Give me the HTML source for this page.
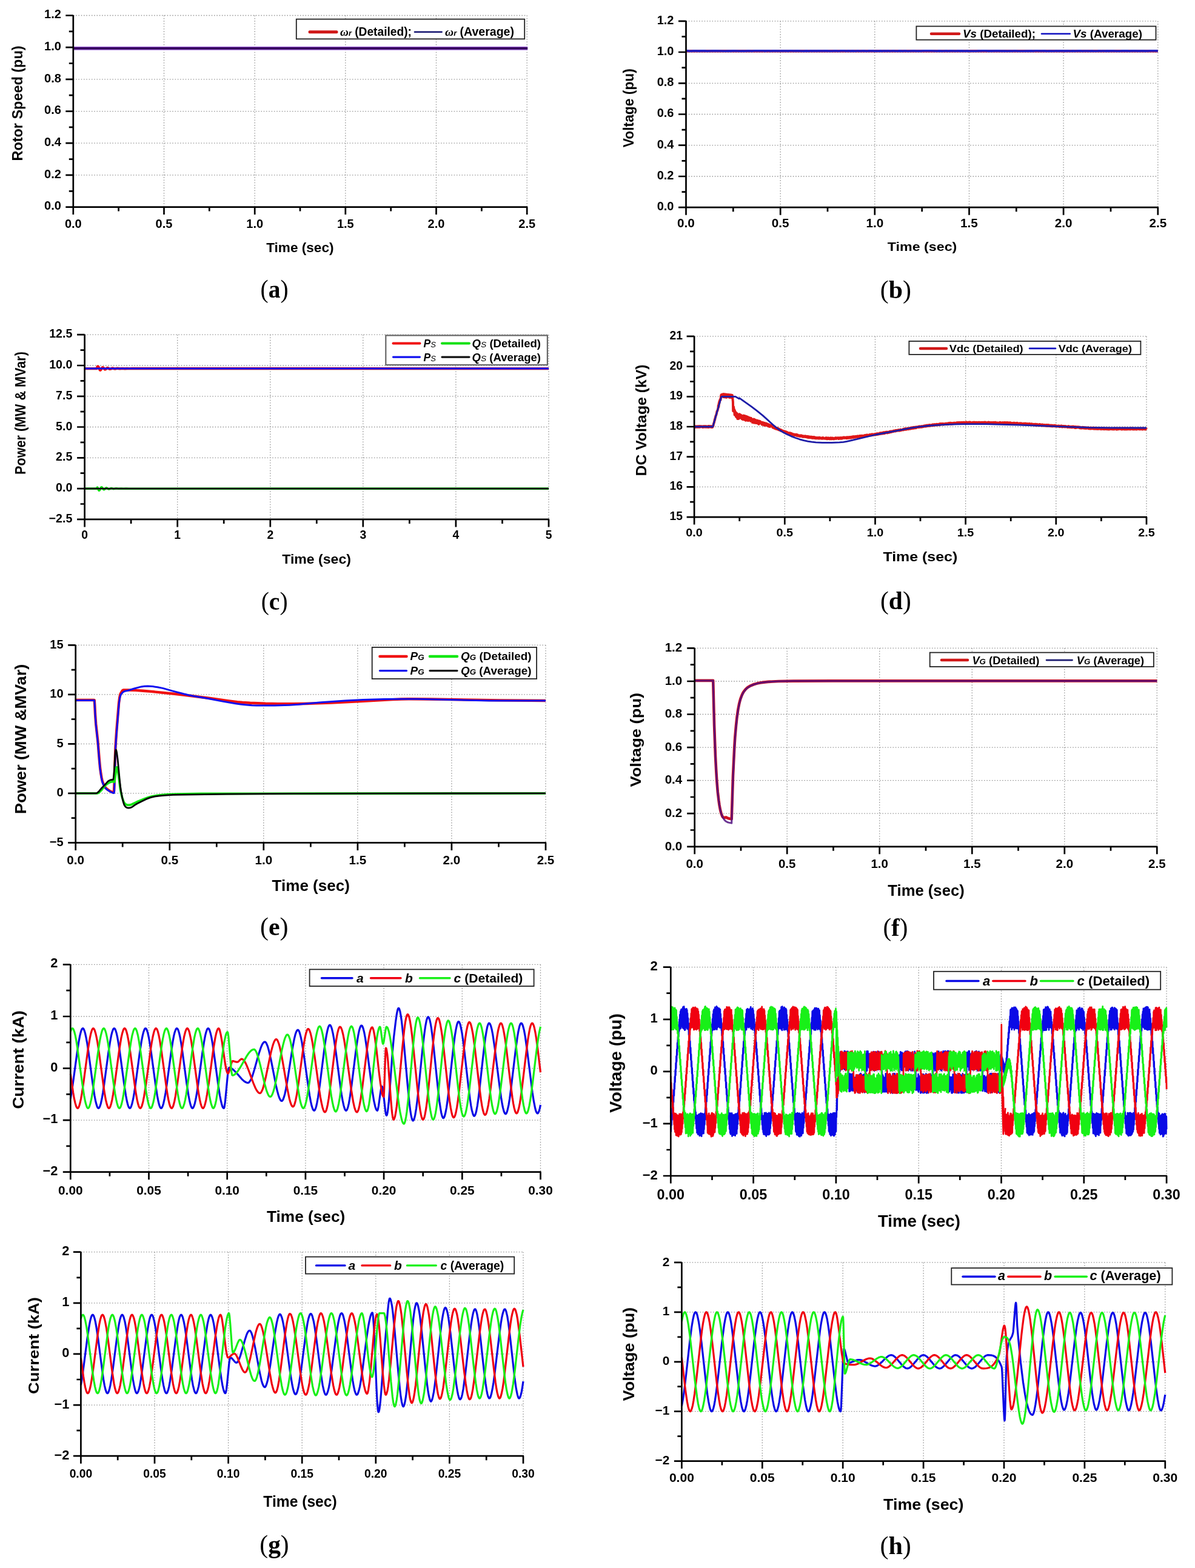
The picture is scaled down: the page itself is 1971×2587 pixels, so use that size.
<!DOCTYPE html>
<html><head><meta charset="utf-8"><title>Figure</title>
<style>html,body{margin:0;padding:0;background:#fff;}svg{display:block;}</style>
</head><body>
<svg width="1971" height="2587" viewBox="0 0 1971 2587" font-family="'Liberation Sans', Arial, sans-serif">
<rect width="1971" height="2587" fill="#fff"/>
<path d="M270.5 25.5V341.6M420.2 25.5V341.6M569.8 25.5V341.6M719.5 25.5V341.6M869.2 25.5V341.6M120.8 288.9H869.2M120.8 236.2H869.2M120.8 183.6H869.2M120.8 130.9H869.2M120.8 78.2H869.2M120.8 25.5H869.2" stroke="#979797" stroke-width="1.3" stroke-dasharray="1.6 2.7" fill="none"/>
<path d="M120.8 79.8H870.2" stroke="#9a64d4" stroke-width="6" fill="none"/>
<path d="M120.8 79.8H870.2" stroke="#33005a" stroke-width="3.4" fill="none"/>
<path d="M120.8 25V343M119.5 341.6H870.2M108.3 341.6H120.8M108.3 288.9H120.8M108.3 236.2H120.8M108.3 183.6H120.8M108.3 130.9H120.8M108.3 78.2H120.8M108.3 25.5H120.8M113.8 315.3H120.8M113.8 262.6H120.8M113.8 209.9H120.8M113.8 157.2H120.8M113.8 104.5H120.8M113.8 51.8H120.8M120.8 341.6V354.1M270.5 341.6V354.1M420.2 341.6V354.1M569.8 341.6V354.1M719.5 341.6V354.1M869.2 341.6V354.1M195.6 341.6V348.6M345.3 341.6V348.6M495 341.6V348.6M644.7 341.6V348.6M794.4 341.6V348.6" stroke="#000" stroke-width="2.7" fill="none"/>
<text x="120.8" y="375.7" font-size="20" text-anchor="middle" font-weight="bold" textLength="27.8" lengthAdjust="spacingAndGlyphs">0.0</text>
<text x="270.5" y="375.7" font-size="20" text-anchor="middle" font-weight="bold" textLength="27.8" lengthAdjust="spacingAndGlyphs">0.5</text>
<text x="420.2" y="375.7" font-size="20" text-anchor="middle" font-weight="bold" textLength="27.8" lengthAdjust="spacingAndGlyphs">1.0</text>
<text x="569.8" y="375.7" font-size="20" text-anchor="middle" font-weight="bold" textLength="27.8" lengthAdjust="spacingAndGlyphs">1.5</text>
<text x="719.5" y="375.7" font-size="20" text-anchor="middle" font-weight="bold" textLength="27.8" lengthAdjust="spacingAndGlyphs">2.0</text>
<text x="869.2" y="375.7" font-size="20" text-anchor="middle" font-weight="bold" textLength="27.8" lengthAdjust="spacingAndGlyphs">2.5</text>
<text x="100.9" y="346.4" font-size="20" text-anchor="end" font-weight="bold">0.0</text>
<text x="100.9" y="293.7" font-size="20" text-anchor="end" font-weight="bold">0.2</text>
<text x="100.9" y="241" font-size="20" text-anchor="end" font-weight="bold">0.4</text>
<text x="100.9" y="188.4" font-size="20" text-anchor="end" font-weight="bold">0.6</text>
<text x="100.9" y="135.7" font-size="20" text-anchor="end" font-weight="bold">0.8</text>
<text x="100.9" y="83" font-size="20" text-anchor="end" font-weight="bold">1.0</text>
<text x="100.9" y="30.3" font-size="20" text-anchor="end" font-weight="bold">1.2</text>
<text transform="translate(36.8 170.5) rotate(-90)" text-anchor="middle" font-weight="bold" font-size="23.5" textLength="190" lengthAdjust="spacingAndGlyphs" x="0" y="0">Rotor Speed (pu)</text>
<text x="439.2" y="416.3" font-size="22.4" font-weight="bold" textLength="111.3" lengthAdjust="spacingAndGlyphs">Time (sec)</text>
<text x="429.6" y="491.4" font-family="'Liberation Serif', 'Times New Roman', serif" font-size="43" textLength="46" lengthAdjust="spacingAndGlyphs">(<tspan font-weight="bold">a</tspan>)</text>
<rect x="488.8" y="31.6" width="376.4" height="32.7" fill="#fff" stroke="#222" stroke-width="1.8"/>
<path d="M511 52.8H555" stroke="#d01818" stroke-width="5" stroke-linecap="round"/>
<path d="M684 52.8H728.6" stroke="#141470" stroke-width="2.6" stroke-linecap="round"/>
<text x="561" y="59" font-size="19.5" font-weight="bold" textLength="118" lengthAdjust="spacingAndGlyphs"><tspan font-family="'Liberation Serif', 'Times New Roman', serif" font-style="italic">&#969;</tspan><tspan font-style="italic" font-size="13" dy="0">r</tspan> (Detailed);</text>
<text x="734" y="59" font-size="19.5" font-weight="bold" textLength="114" lengthAdjust="spacingAndGlyphs"><tspan font-family="'Liberation Serif', 'Times New Roman', serif" font-style="italic">&#969;</tspan><tspan font-style="italic" font-size="13">r</tspan> (Average)</text>
<path d="M1287.2 34.8V342.2M1442.8 34.8V342.2M1598.5 34.8V342.2M1754.1 34.8V342.2M1909.8 34.8V342.2M1131.5 291H1909.8M1131.5 239.7H1909.8M1131.5 188.5H1909.8M1131.5 137.3H1909.8M1131.5 86H1909.8M1131.5 34.8H1909.8" stroke="#979797" stroke-width="1.3" stroke-dasharray="1.6 2.7" fill="none"/>
<path d="M1131.5 84.2l778.3 0" stroke="#b01040" stroke-width="4.4" fill="none" stroke-linejoin="round"/>
<path d="M1131.5 83.7l3.1 0 3.1 .6 3.1-.1 3.2-.4 9.3 .3 3.1-.2 6.2 0 3.1 .3 12.5-.5 18.7 .6 3.1-.3 6.2 .1 3.1-.4 12.5 .6 3.1-.2 3.1 .1 6.2-.5 6.3 .5 3.1-.5 15.5 .1 3.2 .3 3.1-.4 3.1 0 3.1 .5 3.1-.4 12.5 .2 3.1-.3 3.1 .3 3.1-.2 3.1 .3 3.1-.4 3.1 0 3.2 .3 6.2-.3 9.3 .5 6.2-.3 3.2 .3 3.1-.5 3.1 .4 3.1-.4 3.1 .4 3.1-.4 6.3 .3 6.2-.1 9.3 .3 6.2-.5 6.3 .5 3.1-.4 6.2-.1 3.1 .5 3.1-.4 3.1 .5 3.2-.4 6.2 .3 3.1-.4 3.1 .4 6.2-.4 3.2 .3 3.1 .1 3.1-.4 3.1 .2 3.1-.1 3.1 .4 3.1-.2 3.1 .1 3.2-.3 3.1 .3 3.1-.5 3.1 .6 3.1-.5 3.1 .5 6.3-.5 3.1 .4 3.1 0 3.1-.3 6.2 .4 3.1-.6 3.1 .5 3.2 .1 9.3-.5 3.1 .4 3.1-.1 3.1 .2 6.3-.5 6.2-.1 6.2 .1 9.4 .4 3.1-.3 6.2 .3 6.2-.4 3.1 .4 3.1-.3 6.3 .1 3.1 .2 3.1-.5 3.1 .4 3.1-.2 6.3 .4 3.1-.4 3.1 .3 6.2 .1 6.2-.1 3.1-.3 3.2 .1 3.1-.3 6.2 0 3.1 .4 3.1-.1 3.1 .1 9.4-.3 6.2 .3 6.2-.1 3.1 .3 6.3-.3 3.1 .2 3.1-.4 6.2 .4 9.4 0 3.1-.2 6.2 .1 3.1-.2 3.1 .3 3.1-.5 3.2 0 6.2 .3 6.2-.1 3.1 .4 6.2-.3 6.3 .2 3.1-.4 3.1 .3 6.2-.4 6.3 .4 3.1-.4 6.2 .6 3.1-.4 3.1 .3 6.2-.4 3.2 .1 3.1 .4 3.1-.3 6.2 0 3.1 .2 3.1-.3 3.2 .3 6.2-.1 3.1-.4 3.1 .5 3.1-.4 3.1 .4 3.1-.3 3.2 .2 6.2-.3 6.2 .4 6.2 0 3.1-.4 3.2 .1 3.1-.2 3.1 .2 3.1 .4 3.1-.4 3.1-.1 9.4 .3 6.2-.3 3.1 .3 6.2-.1 3.1-.3 9.4 .1 3.1 .3" stroke="#2222c4" stroke-width="3.6" fill="none" stroke-linejoin="round"/>
<path d="M1131.5 34.3V343.6M1130.2 342.2H1910.8M1119 342.2H1131.5M1119 291H1131.5M1119 239.7H1131.5M1119 188.5H1131.5M1119 137.3H1131.5M1119 86H1131.5M1119 34.8H1131.5M1124.5 316.6H1131.5M1124.5 265.4H1131.5M1124.5 214.1H1131.5M1124.5 162.9H1131.5M1124.5 111.7H1131.5M1124.5 60.4H1131.5M1131.5 342.2V354.7M1287.2 342.2V354.7M1442.8 342.2V354.7M1598.5 342.2V354.7M1754.1 342.2V354.7M1909.8 342.2V354.7M1209.3 342.2V349.2M1365 342.2V349.2M1520.7 342.2V349.2M1676.3 342.2V349.2M1832 342.2V349.2" stroke="#000" stroke-width="2.7" fill="none"/>
<text x="1131.5" y="375.1" font-size="20" text-anchor="middle" font-weight="bold" textLength="28.8" lengthAdjust="spacingAndGlyphs">0.0</text>
<text x="1287.2" y="375.1" font-size="20" text-anchor="middle" font-weight="bold" textLength="28.8" lengthAdjust="spacingAndGlyphs">0.5</text>
<text x="1442.8" y="375.1" font-size="20" text-anchor="middle" font-weight="bold" textLength="28.8" lengthAdjust="spacingAndGlyphs">1.0</text>
<text x="1598.5" y="375.1" font-size="20" text-anchor="middle" font-weight="bold" textLength="28.8" lengthAdjust="spacingAndGlyphs">1.5</text>
<text x="1754.1" y="375.1" font-size="20" text-anchor="middle" font-weight="bold" textLength="28.8" lengthAdjust="spacingAndGlyphs">2.0</text>
<text x="1909.8" y="375.1" font-size="20" text-anchor="middle" font-weight="bold" textLength="28.8" lengthAdjust="spacingAndGlyphs">2.5</text>
<text x="1111.5" y="347" font-size="20" text-anchor="end" font-weight="bold">0.0</text>
<text x="1111.5" y="295.8" font-size="20" text-anchor="end" font-weight="bold">0.2</text>
<text x="1111.5" y="244.5" font-size="20" text-anchor="end" font-weight="bold">0.4</text>
<text x="1111.5" y="193.3" font-size="20" text-anchor="end" font-weight="bold">0.6</text>
<text x="1111.5" y="142.1" font-size="20" text-anchor="end" font-weight="bold">0.8</text>
<text x="1111.5" y="90.8" font-size="20" text-anchor="end" font-weight="bold">1.0</text>
<text x="1111.5" y="39.6" font-size="20" text-anchor="end" font-weight="bold">1.2</text>
<text transform="translate(1044.5 178.2) rotate(-90)" text-anchor="middle" font-weight="bold" font-size="23.6" textLength="130.2" lengthAdjust="spacingAndGlyphs" x="0" y="0">Voltage (pu)</text>
<text x="1463.8" y="414" font-size="21" font-weight="bold" textLength="114.5" lengthAdjust="spacingAndGlyphs">Time (sec)</text>
<text x="1451.7" y="492" font-family="'Liberation Serif', 'Times New Roman', serif" font-size="43" textLength="51.2" lengthAdjust="spacingAndGlyphs">(<tspan font-weight="bold">b</tspan>)</text>
<rect x="1511.4" y="43.4" width="395.1" height="22.3" fill="#fff" stroke="#222" stroke-width="1.8"/>
<path d="M1536 55.8H1582" stroke="#d01818" stroke-width="4.5" stroke-linecap="round"/>
<path d="M1718 55.8H1764.8" stroke="#1010c0" stroke-width="2.6" stroke-linecap="round"/>
<text x="1588" y="62" font-size="18" font-weight="bold" textLength="120" lengthAdjust="spacingAndGlyphs"><tspan font-style="italic">Vs</tspan> (Detailed);</text>
<text x="1769.4" y="62" font-size="18" font-weight="bold" textLength="114.6" lengthAdjust="spacingAndGlyphs"><tspan font-style="italic">Vs</tspan> (Average)</text>
<path d="M292.7 552.2V856.9M445.8 552.2V856.9M598.8 552.2V856.9M751.9 552.2V856.9M905 552.2V856.9M139.6 806.1H905M139.6 755.3H905M139.6 704.5H905M139.6 653.8H905M139.6 603H905M139.6 552.2H905" stroke="#979797" stroke-width="1.3" stroke-dasharray="1.6 2.7" fill="none"/>
<path d="M139.6 608.1l19.9 0 1-2.7 .5-.7 .5-.1 .6 .4 .5 .8 2 4.3 .5 .5 .5 .1 1-1.1 2.1-3.1 .5-.4 .5 0 1 .8 1.6 2 1 .6 1-.3 2-1.8 1.1-.4 1 .2 2 1.4 1 .3 1.1-.2 2-1 1-.2 1 .1 2.1 .8 1 .1 4.1-.8 4.1 .6 4.1-.4 4 .3 3.6-.2 4.1 .1 4.1-.1 687.3 .1" stroke="#f01010" stroke-width="4.4" fill="none" stroke-linejoin="round"/>
<path d="M139.6 608.1l765.4 0" stroke="#1010f0" stroke-width="3.0" fill="none" stroke-linejoin="round"/>
<path d="M139.6 806.1l19.9 0 .5-1.3 .5-.7 .5 .3 1.6 4.1 .5 .7 .5 .1 .5-.3 .5-.8 2-3.9 .6-.4 .5-.1 1 .9 2 2.7 .5 .3 .5 .1 1.1-.7 1.5-1.6 1-.6 1 .2 2.1 1.5 1 .4 1-.2 2.1-1 1-.3 1 .1 2 .8 1.1 .2 4-.8 4.1 .5 4.1-.3 4.1 .2 4.1-.2 4.1 .2 692.9-.1" stroke="#10e010" stroke-width="3.6" fill="none" stroke-linejoin="round"/>
<path d="M139.6 806.1l765.4 0" stroke="#0a0a0a" stroke-width="2.6" fill="none" stroke-linejoin="round"/>
<path d="M139.6 551.7V858.2M138.2 856.9H906M127.1 856.9H139.6M127.1 806.1H139.6M127.1 755.3H139.6M127.1 704.5H139.6M127.1 653.8H139.6M127.1 603H139.6M127.1 552.2H139.6M132.6 831.5H139.6M132.6 780.7H139.6M132.6 729.9H139.6M132.6 679.2H139.6M132.6 628.4H139.6M132.6 577.6H139.6M139.6 856.9V869.4M292.7 856.9V869.4M445.8 856.9V869.4M598.8 856.9V869.4M751.9 856.9V869.4M905 856.9V869.4M216.1 856.9V863.9M369.2 856.9V863.9M522.3 856.9V863.9M675.4 856.9V863.9M828.5 856.9V863.9" stroke="#000" stroke-width="2.7" fill="none"/>
<text x="139.6" y="888.8" font-size="19.3" text-anchor="middle" font-weight="bold">0</text>
<text x="292.7" y="888.8" font-size="19.3" text-anchor="middle" font-weight="bold">1</text>
<text x="445.8" y="888.8" font-size="19.3" text-anchor="middle" font-weight="bold">2</text>
<text x="598.8" y="888.8" font-size="19.3" text-anchor="middle" font-weight="bold">3</text>
<text x="751.9" y="888.8" font-size="19.3" text-anchor="middle" font-weight="bold">4</text>
<text x="905" y="888.8" font-size="19.3" text-anchor="middle" font-weight="bold">5</text>
<text x="119.3" y="861.9" font-size="19.6" text-anchor="end" font-weight="bold">&#8722;2.5</text>
<text x="119.3" y="811.1" font-size="19.6" text-anchor="end" font-weight="bold">0.0</text>
<text x="119.3" y="760.3" font-size="19.6" text-anchor="end" font-weight="bold">2.5</text>
<text x="119.3" y="709.5" font-size="19.6" text-anchor="end" font-weight="bold">5.0</text>
<text x="119.3" y="658.8" font-size="19.6" text-anchor="end" font-weight="bold">7.5</text>
<text x="119.3" y="608" font-size="19.6" text-anchor="end" font-weight="bold">10.0</text>
<text x="119.3" y="557.2" font-size="19.6" text-anchor="end" font-weight="bold">12.5</text>
<text transform="translate(41.5 681.5) rotate(-90)" text-anchor="middle" font-weight="bold" font-size="24" textLength="202.9" lengthAdjust="spacingAndGlyphs" x="0" y="0">Power (MW &amp; MVar)</text>
<text x="465.3" y="929.6" font-size="22" font-weight="bold" textLength="113.6" lengthAdjust="spacingAndGlyphs">Time (sec)</text>
<text x="430.7" y="1005.5" font-family="'Liberation Serif', 'Times New Roman', serif" font-size="43" textLength="43.9" lengthAdjust="spacingAndGlyphs">(<tspan font-weight="bold">c</tspan>)</text>
<rect x="636.3" y="553.4" width="266.6" height="48.6" fill="#fff" stroke="#666" stroke-width="2.2"/>
<path d="M648.5 566.6H692.5" stroke="#f01010" stroke-width="4" stroke-linecap="round"/>
<path d="M729 566.6H774" stroke="#10e010" stroke-width="4" stroke-linecap="round"/>
<path d="M648.5 589.1H692.5" stroke="#1010f0" stroke-width="3.2" stroke-linecap="round"/>
<path d="M729 589.1H774" stroke="#111" stroke-width="3.2" stroke-linecap="round"/>
<text x="698.6" y="572.9" font-size="17.5" font-weight="bold" font-style="italic">P<tspan font-size="13" font-weight="normal">S</tspan></text>
<text x="698.6" y="595.7" font-size="17.5" font-weight="bold" font-style="italic">P<tspan font-size="13" font-weight="normal">S</tspan></text>
<text x="778.6" y="572.9" font-size="17.5" font-weight="bold" textLength="113.4" lengthAdjust="spacingAndGlyphs"><tspan font-style="italic">Q</tspan><tspan font-style="italic" font-weight="normal" font-size="13">S</tspan> (Detailed)</text>
<text x="778.6" y="595.7" font-size="17.5" font-weight="bold" textLength="113.4" lengthAdjust="spacingAndGlyphs"><tspan font-style="italic">Q</tspan><tspan font-style="italic" font-weight="normal" font-size="13">S</tspan> (Average)</text>
<path d="M1294.3 554.9V853.1M1443.5 554.9V853.1M1592.6 554.9V853.1M1741.8 554.9V853.1M1891 554.9V853.1M1145.1 803.4H1891M1145.1 753.7H1891M1145.1 704H1891M1145.1 654.3H1891M1145.1 604.6H1891M1145.1 554.9H1891" stroke="#979797" stroke-width="1.3" stroke-dasharray="1.6 2.7" fill="none"/>
<path d="M1145.1 704.5l.3 .3 .3-.6 .6 .7 .6-1.7 .6 .3 .3 1.1 .3-.7 .3 .5 .6 .4 .3-.2 .3-1.4 .9 .2 .3 1.2 .6-.9 .9-.5 .3 1.6 .3-1 .3-.1 .6 .9 .3-.5 .2 .7 .3-1.7 .3 .2 .6 1.1 .3-1.2 .3 .7 .3-.7 .3 .1 .3 .7 .3 .2 .3-.4 .6 .9 .3-.3 .3-1 .3 1.5 .3 0 .3-1.2 .3 .7 .3-.5 .6 .4 .3-1.3 .3 1.6 .3-.4 .3 .4 .3-.9 .3 .7 .3-.1 .3-.8 .3 .9 .6-1.2 .3 1.6 .3 .1 .3-.4 .3-1 .6 1 .3-.2 .3 .3 .3-.5 .3 .8 .3-1.3 .3-.4 .3-.1 .3 .4 .3-.4 .3 1.9 .3-.6 .3-1.3 .6 1.1 .3-1.1 .3 .7 .3-.4 .3 1 .3 .2 .3-.5 .3 .6 .5-1.6 .6 1.9 .6-.3 .3-1.3 .3 .9 .6 .5 .3-1.8 .3 .7 .6-1.4 .9-4.4 .3 0 .3-.9 .3-2 .3-.6 .3-2.5 .3 .7 .6-3.5 .3-.3 .3-2.2 .3-.1 .6-2 .3-.3 .3-1.9 .3-.7 .3-2.3 .3-1 .6-.5 .9-3.3 .3-1.2 .3-4.6 .3 2.9 .3-.5 .3-5.9 .3 .9 .3-3.4 .3 2.2 .3-3.8 .3 .2 .6-2.6 .3 .3 .3 1.1 .3-1.7 .3-4.7 .6-2.4 .3 2.2 .6-2.5 .2 .8 .3-.9 .3 1.6 .3-.7 .3-.1 .3 2.3 .3-3.6 .3-.2 .3 4.9 .3-4.9 .3 0 .3 1.7 .3 3.4 .3-4.7 .3 4.3 .3-4.6 .6 5 .3-.6 .3-2.5 .3 .4 .6-2 .3 3.9 .3 1.2 .3-5 .3 5 .3-4.7 .3 4.2 .3-3.8 .3 .1 .3-.5 .3 1.8 .3-1.7 .3 3.7 .3-2.6 .3 1.9 .3-3 .3 .6 .3 1.7 .3-.3 .3 2.8 .3-.1 .3-3 .3 .6 .3-2.1 .6 4 .6-3.4 .6 4.2 .3-4.5 .3 .1 .3 4 .3-2.4 .3 .9 .3-2.2 1.1 10.9 .3 15.3 .3 .1 .6-7 .6 7.6 .3-3.4 .3 1.5 .3 7.5 .3-7.3 .3 7.1 .3-.4 .3-4.6 .3 4.4 .3-3.1 .3 6.3 .3-6.2 .3 6.8 .3 .6 .3-2.9 .3 1.7 .6-4.7 .3 2 .3 6.7 .6-4.6 .3 .7 .3-2 .6 6 .3-1.4 .3-5.3 .3 4.4 .6-5.4 .3 3.3 .3-.4 .3 .6 .3 2.6 .3-5.1 .3 3.9 .3-3.8 .3 5.3 .3-4.8 .9 3.8 .3 2.6 .3-5.2 .3 3.4 .3-2.4 .3 4.5 .3 .4 .3-.4 .3-5.4 .3 5.3 .3-5.9 .3 4.4 .3-1.5 .2 1.9 .3-2.1 .3 4.3 .6-6.5 .3 6 .3-3.6 .3 2.6 .3 .3 .3 2.3 .3 .1 .3-7.1 .3 1 .3 .4 .3 0 .3-1 .3 6.2 .3-3.1 .3 .7 .3-.4 .3-2.6 .3 1.4 .3-1.4 .3 6.3 .3-3.8 .3 0 .3-.4 .3 1 .3-1.4 .3 3.9 .3-4.4 .3 3.9 .6-3.3 .6 4.4 .3 .6 .3-.6 .6-4.3 .3 .7 .3 3.5 .3 .1 .3-2.7 .3 3.7 .3-.7 .3 2.7 .9-4.2 .3 .6 .3 1.8 .3-3.8 .6 5.4 .3 .6 .3-5.7 .3 0 .3 .6 .8 5.4 .3-.9 .3 .3 .3-4.3 .6 1.1 .3 3.9 .6-.7 .3-3.8 .3 4.7 .3-3.6 .6 1.6 .3-2.3 .3 4.1 .3-1.4 .3 2.2 .6 .9 .3-1.6 .3 1.2 .3 .4 .3-5.1 .3 4 .3-3.2 .3 1.1 .3-.1 .3 .5 .3-1.5 .9 2.4 .3-.6 .3-.1 .3 1 .3 .3 .3 1.9 .3-3.4 .6 4 .3-.4 .3-3.4 .3 3.1 .9-2.7 .3 2.7 .6-.3 .3 2 .3-3.9 .3 4 .3-4.2 .3 3.8 .3 0 .3-3 .3 .2 .3 2.7 .3-1.3 .3 .4 .2-1 .3 2.5 .3-2.7 .3-.6 .3 1.3 .3-.8 .3 0 .3 2.4 .3-1.8 .3 .2 .6 3.1 .6-3 .3 2.5 .6-2.1 .6 3.5 .3-2.2 .3 1.5 .3-2.1 .6 2.2 .3-2 .6 2.2 .3-1.7 .3-.1 .6 .3 .3 .9 .3 0 .6 .8 .3-1.4 .6 3.2 .3-2 .3 .9 .6-.1 .3 1.2 .6 .8 .3-2.1 .3-.2 .6 2.6 .3-2.4 .6 1.6 .3 1.5 .3-2.2 .3 .8 .3 .1 .3 1.7 .3-1.7 .3 1.9 .3-1 .3 1 .2-.5 .3-1.2 .3 .5 .3 0 .3 1.4 .6-.5 .3 1.5 .6-1.9 .3 .6 .3-.1 .3 1.4 .3-.7 .3-.1 1.2 2.1 .3-1.6 .3 .1 .3 1.3 .3-.7 .3 .7 .6-.5 .3 1.1 .3-.4 .3 .7 .3-.3 .3 .9 .3-.3 .3 .1 .3-.8 .3 1.3 .3-.8 .3 1.1 .3-1.2 .3 1.3 .3 .2 .3-.1 .3-.8 .3 .3 .3-.3 .6 1.8 .6-.5 .3-.9 .3 1.7 .3 0 .3-1.1 .3 1.5 .3-1.6 .3 1.5 .9-.9 .3 1.7 .3-1.4 .3 1.4 .2-1 .3 1.5 .3-1.4 .3 1.2 .3 .1 .3 .4 .3-.5 .3 .1 .3-1.2 .6 1.4 .3-1.2 .3 1.7 .3 0 .3-1.4 .3 .1 .3 .6 .3-.5 .3 1.9 .3-1.6 .6 .6 .3-.2 .3 1.5 .3-.1 .3 .2 .3-.6 .3-.1 .3 .1 .3 .4 .3-.6 .3-.2 .3 .3 .3 1.5 .9-.2 .3-.6 .3 .8 .3-.8 .3 .6 .3 0 .6-1 .3 1.6 .3-.3 .3-1.2 .3 1.6 .3 .4 .3-.2 .3-1.2 .3 .2 .3-.3 .6 1.9 .6-1.3 .6 1.3 .6-.5 .2 .2 .3-.1 .6 .9 .3-1.4 .3 .2 .6 1.3 .9-1.4 .3 .9 .3-1 .6 1.7 .3-.8 .6 .1 .3-.2 .3 1.4 .6-1.4 .3 1.4 .3 .2 .9-.7 .3 .3 .3-.6 .3 1 .6-.9 .3 .3 .3-.8 .3 .1 .3 1.4 .6-.5 .3 0 .3 .4 .3-.9 .3 1.3 .3-.5 .3 .8 .3-1.5 .3 .6 .3-.7 .3 1.7 .3-1.1 .3 .3 .3 1.1 .3-1.5 .3-.1 .3 1.6 .3-1.6 .9 .9 .6 1 .5-1.5 .3 1.3 .3-.5 .3 .4 .6-1.3 .3 .2 .3 1.2 .3-.2 .3 .9 .6-1.7 .3 .1 .3 1.6 .3-.7 .3 .7 .6-1.6 .3 1.3 .3-1.1 .3-.2 .3 .3 .3 1.3 .3-1.4 .6-.1 .3 1.9 .3 .1 .6-1 .3 .2 .3 .7 .3-1.1 .3 0 .6 .4 .6-.3 .3 1.2 .3-.7 .3 .6 .3 .1 .3-1.3 .3 .9 .6 .2 .3-.6 .3 .9 .3-1 .3 1.2 .3-1.8 .3 1.6 .3-1.2 .9 1 .3-.1 .3-.8 .3 .5 .3 0 .3 .6 .2-.7 .3 .9 .6-.9 .3 .2 .6 0 .3 .7 .3-1.5 .3 .6 .3-.1 .3-.4 .3 1 .3 .2 1.2 .1 .3 .2 .3-.5 .3 .4 .3-.1 .3-.6 .3 .7 .3-1.1 .3 .2 .3 .9 .3-1 .3 1.3 .3 .2 .3-1.8 .3 1.9 .3 .1 .3-1.7 .3 1.7 .3-1.3 .3 .2 .3 .7 .3-.1 .3-1.4 .3 1.2 .3 .3 .6-1 .6 1.3 .3-1.4 .3 1.4 .6 .2 .3-2 .3 1.1 .3-.6 .3 .4 .3-.9 .3 1.3 .3 0 .3-.7 .3 1.4 .6-1.5 .5 .5 .3-.9 .3 1 .3-.6 .6 1.3 .3-.6 .6 .7 .3-.5 .3 .3 .6-1.3 .6-.3 .3 1.2 .6-1.2 .3 1 .3-1.1 .3 1.6 .3-1.6 .3 .1 .3-.2 .6 .5 .3 .5 .6-.9 .3 .6 .3-.1 .3-.6 .3 1.2 .3-.1 .3 .6 .3-1.7 .3 .5 .3-.1 .3 .8 .3 .1 .6-1.4 .3 1 .6-.1 .3-.9 .3 1.4 .3-1.5 .3 1.7 .3-1.4 .3-.1 .3 .5 .3-.5 .3 .9 .3 .2 .3-.4 .3 .1 .3-.9 .3 .3 .3-.2 .2-.7 .3 .4 .3 0 .3-.4 .3 0 .6 1.2 .6-.9 .6-.3 .6 .4 .3 .8 .3-.8 .3 .9 .3-1 .3 .9 .3 .3 .3-1.9 .3 .2 .6 1.6 .3-1.6 .3 .1 .3 1.2 .3-1.4 .3-.1 .9 1.5 .3 0 .6-1.4 .3 .2 .3 .7 .3-1.1 .3 1.4 .3-1.1 .3 .8 .3 .3 .3-.4 .3-1.2 .3 1.1 .3 .4 .3-1 .3 .3 1.2-1.3 .3 1.2 .3-.7 .3 1 .3-.3 .3 .3 .3-1.5 .3 1 .6-1.2 .3 1 .2 .3 .3-.1 .3-.5 .3 .2 .3 .6 .3-1.6 .3 .4 .3-.5 .6 .2 .3-.2 .6 .7 .3-.8 .3-.2 .3 1.5 .6-.1 .6-1.5 .3 .7 .3-.7 .3 .9 .3-.4 .3 .6 .3-.8 .6 1.2 .9-1.9 .3 1.2 .3-1.3 .3 .2 .3 1.2 .3-1.2 .3-.4 .3-.1 .6 1.1 .6-.6 .3 0 .3 .8 .3-1.4 .6 1.6 .3-.5 .3 .4 .3-.8 .3 .7 .3-.9 .3 .4 .3-1.1 .3 .1 .3 1.1 .3-1.3 .6 1 .3-1.3 .3 1.8 .5-1.3 .3 .8 .6-1.5 .3 1 .3-.7 .3 1 .3-1.6 .3-.1 .3 1.6 .3-1.2 .6 1.3 .3-.4 .3-1 .3 .5 .3-.2 .3 .7 .9-.9 .3-.6 .3 .7 .3 .2 .3-1.2 .3 .4 .6-.3 .9 1.2 .3-1.1 .6-.6 .3-.1 .3 .8 .3 0 .3-1 .3 1.7 .3-.6 .6-.5 .3-.1 .3 .8 .3-.7 .3 .6 .3-.4 .3 .3 .6-1 .6 .9 .6-1.1 .3 .7 .3 0 .6-1 .3 1.3 .3-1.3 .2 1.2 .3-1.7 .3 1.3 .3-1.3 .3 1.5 .3-.9 .3 .4 .3-1.1 .3 0 .3 1.2 .3 .1 .3-1.4 .3 .6 .3 .1 .6-.1 .3-.5 .6 .8 .6-1.8 .3 .4 .3 0 .3-.4 .3 .9 .3 .1 .3-.9 .3 1.3 .3-1.3 .3 1.2 .3-1 .3 .1 .3-.5 .3 1.3 .3-1.2 .3-.4 .3 1.5 .3-1.3 .3 .8 .6-1.5 .3 1.9 .3-.9 .3-.2 .3-1 .3 .1 .3 1.7 .3-.3 .6-1.4 .3 0 .3 .4 .3-.8 .3 .2 .3-.2 .6 1.2 .3-1 .3-.1 .3-.4 .3 1.4 .2 .3 .3-.7 .3 .1 .3-.3 .3 .6 .3-1.1 .9 .8 .3-1 .3 .9 .3-1.6 .3 1.2 .3-1.3 .3 1.5 .6-1.4 .3 .4 .3 .1 .3-.9 .3 1.4 .3-1.5 .6 1.1 .3-.2 .3 .1 .3-.8 .3 .3 .3-.2 .6-.7 .3 .2 .3 .8 .3-.8 .3-.1 .3-.5 .3 1 .6-.9 .3 .8 .3 0 .3-.7 .3 .5 .3-1 .3 .9 .3 .2 .3-.8 .3 0 .3-.9 .3 .1 .3 1 .3-.1 .3-.5 .3 .2 .3-.2 .3 .3 .3-.9 .3-.2 .6 .2 .3-.3 .2 1.2 .3-1.4 .3 1.4 .3 .1 .3-.8 .3 .6 .3-.2 .3-.8 .3 .9 .3-.6 .3 0 .3-1.2 .3 1.7 .3-.9 .3 0 .3 .6 .3-.4 .6-.2 .3-.4 .9 .1 .3-.4 .3 .2 .3 .6 .3-1.1 .3 .5 .3-1 .3 1.4 .3-.9 .3 .5 .6-1.2 .6 .4 .3-.7 .3 1.3 .3-1.6 .3 1.1 .3-.5 .3 1 .3 .1 .6-1.1 .3 .6 .3-1.2 .3 1.2 .6-1.5 .3 .3 .3-.5 .3 .2 .3-.2 .3 1.6 .3-1 .3 .4 .6-.9 .3-.1 .3 1 .5 .2 .3-1.4 .3-.2 .3 1.4 .6-.2 .3-1.7 .3 1.7 .6-1.7 .3 1.4 .3-1.1 .3 .7 .3-.7 .6 .9 .3-1.5 .3 .7 .3-1 .3 .7 .3-.7 .6 1.7 .3 0 .3-2 .3 .6 .6-.4 .3 .9 .3-.8 .3 .1 .3 1.1 .6-1.8 .3 .7 .3-.5 .3 1.4 .3-.8 .6-.3 .3-.7 .3 .7 .6-.1 .3-.4 .9 .6 .3-1.2 .3 1 .3-.8 .3 .9 .3-1.5 .3 1.5 .3-.5 .3 .1 .3-1.1 .3 .3 .3 .9 .2 0 .3-1.1 .6 1 .3 .1 .3-1.2 .3 .1 .3-.4 .3 1.4 .3-.8 .3 .6 .3-.9 .3 .6 .3 0 .3-.7 .3 .7 .3-1.3 .3 1.2 .3-.2 .3-1 .3 .9 .3-.1 .3-1 .3 .4 .3-.5 .6-.4 .3 1.7 .3-.7 .3-.1 .3 .2 .3-1.2 .3 .9 .3-1.1 .3 1.7 .3-.8 .6-.7 .3 .5 .3-.9 .3 1.2 .3-.2 .3 .3 .3 0 .6-1.2 .3 1.1 .3-.7 .3 .1 .3-1.1 .3 .9 .3-.7 .3 1.1 .3-1.3 .3 1.7 .3-.3 .3-1 .3 .2 .6-.3 .3 .5 .2-.6 .3 .4 .6-.7 .3 .8 .3-.9 .6-.5 .3 1.8 .3-.8 .3 .5 .3-.1 .6-1.2 .3 1.2 .3-1.3 .6-.4 .3 .3 .3 1.1 .3-1 .6 .8 .3-1.1 .3 .9 .3-1 .3-.2 .6 1.5 .3-1.4 .3 1.3 .3 0 .3-1.5 .3 1.2 .6-.3 .3-.7 .3 1 .3-.3 .3 .5 .6-1.4 .6 .2 .3-.6 .3 1.7 .6-1.3 .3 .6 .3-1.3 .3 1.5 .3-1.5 .3 .4 .3 .1 .3-.6 .3 1 .3 .2 .9-1.1 .3 .4 .2-.3 .3 .2 .3-.3 .3 1.3 .3-1.4 .9 1.3 .3-1 .3 .8 .6-.7 .3 .6 .3 0 .3 .2 .6-1.5 .3 1.1 .3 0 .3 .2 .3-1 .3-.2 .3 1 .3-1.2 .3 1.5 .3-.2 .3 0 .3-1.4 .3 1.4 .3-1.3 .3 1 .3-.2 .3 .4 .3-1.4 .3 .8 .3-1.1 .9 .8 .6-.2 .3-.8 .3 1.4 .3 .1 .3-1.6 .3 .6 .6 .4 .3 .8 .3-.4 .3-1.2 .3 1.1 .3-.7 .9 1 .3 0 .3-1.3 .3 .9 .3-.6 .5-.5 .3 1.2 .6-1.2 .6 .5 .9-.8 .6 1.5 .3-.1 .3-1.1 .3 0 .3 .4 .3-.5 .3 .9 .3-.3 .3 0 .6-1.2 .3 1.4 .3 .3 .6-1.6 .3-.2 .3 1.8 .6-.8 .3-.9 .6 .9 .3-1.1 .3 .5 .3-.3 .3 .1 .3-.3 .3 .5 .3-.2 .3 .6 .6-.9 .3 0 .3 0 .6 .8 .6 .2 .3-1.1 .3 .6 .3-.3 .3 .2 .3 1.2 .3-.7 .3 .1 .3-1.2 .6 1.2 .6-1.1 .3 .7 .2-.3 .3 .7 .3-.2 .3-.7 .3 1.2 .3-1 .6-.6 .3 .9 .3-.2 .3-.8 .3 .4 .3-.1 .6 1.4 .3-1.4 .3 1.5 .3-1.2 .3 .8 .3-1 1.2 1 .3-1.4 .3 .8 .3-.8 .3 1.7 .3 .2 .6-.6 .3-1.3 .3 1.7 .6-1.5 .3 1.1 .6 .2 .3 .3 .3-1 .3 0 .3 .7 .3-.7 .3 .1 .3-.3 .3 .8 .3 .1 .3-1.3 .3 .4 .3-.2 .3 .9 .3-.5 .3 .4 .6-1.2 .3 1 .3 0 .3-.5 .6 .7 .3 .7 .2-1.6 .3 .6 .3-.7 .3 1.1 .3-1.1 .3 .1 .3 1.2 .3-1.1 .3 1.5 .3-1.2 .3-.3 .3 .1 .3 .9 .3-.2 .3 .4 .3-1.4 .3 .6 .3-.4 .3 .6 .3 .1 .3-1 .3 0 .6 .5 .3-.4 .3 1.1 .3 0 .3-.9 .3 .2 .3-.2 .3 .1 .6 1.2 .3-1.3 .3-.2 .6 1.1 .3-1 .3 1.3 .3 0 .3-.8 .3 .2 .3-.6 .3 1.5 .3-1.8 .3 1.3 .3-.4 .3 .9 .9-1.8 .3 1.5 .3 .1 .3-1.5 .3-.1 .3 .9 .3-.1 .3-.7 .3 .9 .6 0 .2 .4 .6-.3 .3 .6 .6-1.4 .3-.2 .3 1.5 .6-1.4 .3-.2 .3 1.3 .3 .2 .3-1.3 .3 1.1 .6-1.2 .3 1.3 .3-.1 .3-.5 .3 .9 .3-.8 .3-.1 .3 .3 .3-.7 .6 .4 .3-.5 .3 1.3 .6-.2 .3 .2 .3-1.4 .6 0 .3 1 .3-.9 .3-.2 .3 .3 .3-.1 .3 .3 .3 1.3 .3-.6 .3 .2 .3-.6 .3 0 .3-.7 .3 1.3 .3-1.5 .3 1.7 .3-1.3 .3 1 .3-.5 .3-.1 .3 1.1 .3-1 .3-.2 .6 1.1 .3-1 .3 .7 .2 .2 .3-.1 .3-.7 .6 .4 .3 .5 .3-.2 .3-.7 .6 .8 .3-1.2 .6 .9 .3-1.2 .6 1.6 .3-.6 .3 .4 .3-1.2 .3 .2 .3 1.4 .3-.1 .3-1.1 .6 .7 .3-.3 .3 .7 .9-1.6 .3 .7 .3 .1 .3 1 .3-.9 .6-.3 .3 .7 .3-1.2 .3 .4 .3 0 .3-.5 .3 .1 .3 1.6 .3-1.5 .3 .7 .3-.1 .3 1.2 .3-.1 .3-1.5 .3 .9 .3-1.2 .3 .1 .3 .8 .9 0 .6-.9 .3 1.4 .6-.1 .2 .6 .6-.2 .3-1.1 .3 1.1 .6-1.5 .3 1.1 .3-1.2 .3 1.5 .3-.2 .3 .5 .3 0 .6-1.2 .3 .2 .3 .9 .3 .3 .3 0 .6-.9 .3 1.1 .3-.2 .3-1.1 .6 1.2 .3-1.5 .3 1.5 .3-1.3 .3 1.4 .3-1.6 .3 .8 .6 .5 .3-1.2 .3 .8 .3-.2 .6 .7 .3-.2 .3 .1 .3-.9 .3-.2 .3 .1 .3 1 .3-.1 .3-1.2 .3 1 .3-.2 .3 1.1 .3-1.5 .6 1.2 .3-.5 .3 .5 .3-.3 .6-.1 .6 .6 .3-1.3 .5 .9 .3-.5 .3 1.1 .9-.7 .3-.8 .3 .9 .3 .1 .6-.7 .3 .9 .3-.7 .6 1.4 .6-.1 .3-.6 .3 .3 .6-1 .3 .6 .3-.5 .3 .9 .3 .2 .3-1.2 .6 1.2 .3-.3 .3-1 .3 1.7 .3-1.6 .3 1.5 .3-1.5 .6 1.5 1.2-1.2 .3-.1 .3 1.3 .6-1.1 .3 1.2 .3-1.2 .3 1.1 .3-.7 .3 .2 .3 0 .3-.6 .3 1.4 .3-.2 .3-1.4 .3 .7 .3-.5 .3 1.3 .9-1 .5 1.4 .6-1.3 .3-.2 .3 1.6 .6-1.6 .6 .6 .3 .9 .3-.6 .3 .2 .6-.1 .3 .8 .3-1.4 .6 1.2 .3-.8 .6 1 .3-.9 .3 1.2 .3-1.8 .6 1.4 .3-1.4 .6 1.9 .3-1.4 .3 1.4 1.2-1.7 .3 .3 .3 1.3 .3-.8 .3 .9 .3-1.1 .3 .5 .3-.4 .3 1.2 .3-.8 .3 .1 .3 .8 .6-1.8 .3 .5 .3-.4 .3 1.7 .3-1.1 .6 .5 .3-.7 .6 1.5 .3-1.1 .3-.4 .3 .9 .2-.4 .3 .9 .3-1.6 .3 0 .3 2 .6-1.8 .6 1.7 .3-1.3 .9 1.4 .3-.3 .3-1.1 .3 .7 .6-.3 .3 .5 .3-.7 .3 .1 .3 1.4 .3-1.2 .3 1.2 .6-1.7 .3 .2 .3 1.1 .3-1.3 .3 1.6 .3-1.1 .3-.1 .3 1.5 .6-1 .3-.9 .3 1.7 .6-1.4 .3 1.5 .3-1.3 .3 .2 .3-.1 .3 .9 .3-.5 .3 .9 .3-.2 .3-1.1 .3 1.4 .3-.8 .3 .9 .3-1.4 .3 .4 .3 1 .3-1.5 .3 .5 .3 0 .3 1.2 .3-1.5 .3 .3 .5 1.3 .3-1.4 .3 1.1 .3-1.1 .6 .9 .3-.2 .3 .4 .6-1.2 .6 1 .6-1.1 .3 1.6 .6-1.4 .6 1.4 .3 .1 .3-1 .3 .2 .3 1 .3 0 .6-.8 .9 .6 .6-1 .3 .8 .6-.6 .3 .7 .3-.8 .3 1.5 .6-1.1 .3 1 .3 .1 .3-1.1 .3 .1 .6-.5 .3 1.1 .3-1.2 .3 .1 .3-.1 .3 1.3 .3 .5 .3-1.4 .3 1.1 .3 .3 .3-1.3 .6 .2 .3 1.1 .3-1.2 .3 1 .5-.9 .3 .7 .3 0 .3-.9 .3 .4 .3-.4 .3 1.6 .3-1.4 .3 1.2 .9-1.2 .6 .6 .6-.1 .3 .8 .6-.4 .3 .6 .6-1.1 .3 1.4 .6-1.8 .3 .1 .3 1.5 .3-1.5 .3 0 .6 1.5 .3-.5 .3 .6 .3-.8 .3 1 .3-.6 .3 .5 .3-1 .3 .6 .3-.9 .3 0 .3 1.4 .3-1.1 .3 0 .3 .9 .3-1.1 .3 1.6 .6-1.2 .6-.5 .3 .8 .6-.7 .3 0 .3 1.2 .3-.2 .3-.6 .6 1.4 .3-1.6 .5 1.5 .3-.3 .3 .6 .3-1.7 .3 1.5 .3 .3 .3-1.8 .3 1.3 .3-.6 .3 .5 .3 .1 .3-1.2 .6 1.2 .3-.9 .3 .1 .3-.2 .3 .9 .3 0 .3-.9 .3 .9 .3 .2 .3-.4 .3-.2 .6 1.3 .3-1.8 .3 1.6 .3-.8 .6 1.1 .6-.6 .3 .7 .3-.1 .3-.8 .3 .3 .3 .7 .3-.5 .3 .2 .3-1.3 .3-.1 .6 .1 .6 1.4 .3-.8 .3 .8 .3-1.3 .3 1.4 .3-.7 .3-.1 .3 1.1 .3-1.3 .3 .6 .3-.5 .3 .4 .3-.5 .3 1.4 .3-.2 .2-.9 .3 1.2 .6-1.2 .3 1.1 .6-1.1 .3 1 .6-.5 .3-.7 .3 .7 .3-.7 .6 1.6 .3-1.6 .6 1.6 .3-.9 .3 .3 .3 .9 .3-.6 .3 .4 .3-.6 .3 .2 .3-1.2 .3 1.8 .3-.5 .3 .6 .3-.7 .6 .1 .3 .3 .3-.2 .3-1.1 .3-.1 .3 .8 .3-.1 .3 .7 .3-1.4 .3 1.8 .3-.9 .6 0 .3-.8 .6 1.6 .3 .1 .3-1 .3 1.2 .6-1.5 .3 .6 .3-1 .3 1.1 .6 .7 .3-.7 .3 .1 .3-.6 .3 .3 .2-.6 .3 .8 .3 .2 .3 .6 .3-1.3 .3 .9 .6-.7 .3 .3 .3 .7 .3-.9 .3 1 .3-1.5 .3-.2 .3 .1 .3 1 .3 .3 .6-.8 .3 1 .3-.8 .3 .6 .3 0 .3 .6 .3-1.3 .3 .8 .3-.5 .3 .1 .3-.7 .3 .3 .3 0 .3-.4 .3 .2 .3 1.4 .3-1.4 .3 0 .3 1.4 .3-.2 .3-1 .3-.2 .3 1.6 .3-1.4 .3-.2 .6 1.3 .6 0 .3-1.2 .3 .2 .3 1 .3-1 .3-.1 .3 1.1 .3-1.3 .6 1.7 .3-.7 .6 .5 .3-.9 .3 .4 .2-1 .3 1 .6-.9 .3 1.8 .6-1.8 .3 .5 .3-.4 .3 1.5 .3-1.4 .3 1.1 .6-.2 .6-1 .3 .4 .3-.1 .3 .9 .3-.9 .3 .6 .3-.9 .6 1.3 .6-.9 .3 0 .3 .8 .3 .1 .3-1.1 .3 1.3 .6-1.4 .3 1.2 .3 .3 .3-1.8 .6 .5 .6-.2 .3 .6 .3-.8 .3-.1 .3 .5 .3-.1 .3 1.4 .3-.3 .6-1.2 .3 1.5 .3-1.7 .3 0 .3 1.7 .3-1.4 .3 .1 .3 .8 .3-.6 .3 .8 .6-1.4 .3 .9 .2-.1 .3 .3 .3-.7 .6 .6 .6-.5 .3-.6 .3 1.3 .3 .2 .6-.1 .3-.6 .3 .8 .3-.1 .3-.5 .3 .9 .6-1.8 .3 1.2 .3-.6 .6-.2 .3-.5 .6 1.5 .3-1.1 .3 1.2 .3-.6 .3 .8 .6-.5 .6-1.2 .3 1.6 .3-1.7 .3 1.2 .3 .1 .3 .5 .3-.5 .3 .6 .6-1.5 .6 1 .3-1.4 .3 .1 .6 1.2 .3-.2 .3 .6 .3-1.3 .3 .2 .6 0 .3 .3 .3 0 .9 .8 .3-1 .2 0 .3-.6 .3 .9 .3-1.1 .3 1.8 .3-.8 .6-.2 .3-.6 .3 .7 .9-.9 .3 1.7 .3-1.4 .3 .9 .3-.6 .3-.2 .3 1.4 .3 .1 .3-1.7 .3 .7 .3-.6 .3 1.4 .3-.8 .3 0 .3 .9 .3-1.1 .3 .8 .3-.8 .3 1 .3-1.1 .3 .2 .3-.3 .3 .2 .3-.3 .3 1.6 .3-.2 .3-.6 .9-.4 .3 .5 .9 0 .6-1.1 .3 1.4 .3-1.2 .6 .7 .9-.8 .3 1.6 .3-1.1 .6 .6 .3-1.2 .3 1.2 .2-.7 .6-.4 .3 1.4 .3-.9 .3 .8 .3-1.2 .3 1.5 .6-1.7 .3 1.7 .6-1.2 .3 .8 .3-1.4 .3 1.3 .3-.4 .3 .2 .3-.4 .3 1 .3-.9 .3 0 .3 .8 .3-.2 .3 .4 .3-.9 .3 .5 .6-.7 .3 0 .3 .7" stroke="#e01818" stroke-width="4.0" fill="none" stroke-linejoin="round"/>
<path d="M1145.1 704l30.6 0 14.2-49.7 22.3 0 .8 .1 5.9 3.4 .8-1 19.4 13.8 8.9 6.8 10.5 8.5 16.4 14.9 5.2 4.5 6 4.4 5.9 3.7 6 3.1 6.7 3.1 7.5 2.9 6.7 2.3 6.7 1.9 6.7 1.4 6.7 1.1 6.7 .6 10.5 .5 15.7 0 12.6-.4 6.7-.6 5.3-.9 5.9-1.3 42.6-10.1 34.3-6.4 21.6-4.3 14.9-2.1 14.9-1.7 14.9-1.2 17.2-.9 14.9-.6 14.9-.2 33.6 .1 55.2 1.5 114.9 4.2 33.5 .4 61.2 .2" stroke="#1c1ca8" stroke-width="2.8" fill="none" stroke-linejoin="round"/>
<path d="M1145.1 554.4V854.5M1143.8 853.1H1892M1132.6 853.1H1145.1M1132.6 803.4H1145.1M1132.6 753.7H1145.1M1132.6 704H1145.1M1132.6 654.3H1145.1M1132.6 604.6H1145.1M1132.6 554.9H1145.1M1138.1 828.2H1145.1M1138.1 778.5H1145.1M1138.1 728.9H1145.1M1138.1 679.1H1145.1M1138.1 629.5H1145.1M1138.1 579.8H1145.1M1145.1 853.1V865.6M1294.3 853.1V865.6M1443.5 853.1V865.6M1592.6 853.1V865.6M1741.8 853.1V865.6M1891 853.1V865.6M1219.7 853.1V860.1M1368.9 853.1V860.1M1518 853.1V860.1M1667.2 853.1V860.1M1816.4 853.1V860.1" stroke="#000" stroke-width="2.7" fill="none"/>
<text x="1145.1" y="885.4" font-size="19" text-anchor="middle" font-weight="bold" textLength="27.5" lengthAdjust="spacingAndGlyphs">0.0</text>
<text x="1294.3" y="885.4" font-size="19" text-anchor="middle" font-weight="bold" textLength="27.5" lengthAdjust="spacingAndGlyphs">0.5</text>
<text x="1443.5" y="885.4" font-size="19" text-anchor="middle" font-weight="bold" textLength="27.5" lengthAdjust="spacingAndGlyphs">1.0</text>
<text x="1592.6" y="885.4" font-size="19" text-anchor="middle" font-weight="bold" textLength="27.5" lengthAdjust="spacingAndGlyphs">1.5</text>
<text x="1741.8" y="885.4" font-size="19" text-anchor="middle" font-weight="bold" textLength="27.5" lengthAdjust="spacingAndGlyphs">2.0</text>
<text x="1891" y="885.4" font-size="19" text-anchor="middle" font-weight="bold" textLength="27.5" lengthAdjust="spacingAndGlyphs">2.5</text>
<text x="1126" y="858" font-size="19.3" text-anchor="end" font-weight="bold">15</text>
<text x="1126" y="808.3" font-size="19.3" text-anchor="end" font-weight="bold">16</text>
<text x="1126" y="758.6" font-size="19.3" text-anchor="end" font-weight="bold">17</text>
<text x="1126" y="708.9" font-size="19.3" text-anchor="end" font-weight="bold">18</text>
<text x="1126" y="659.2" font-size="19.3" text-anchor="end" font-weight="bold">19</text>
<text x="1126" y="609.5" font-size="19.3" text-anchor="end" font-weight="bold">20</text>
<text x="1126" y="559.8" font-size="19.3" text-anchor="end" font-weight="bold">21</text>
<text transform="translate(1066.3 693.5) rotate(-90)" text-anchor="middle" font-weight="bold" font-size="24.3" textLength="184" lengthAdjust="spacingAndGlyphs" x="0" y="0">DC Voltage (kV)</text>
<text x="1456.4" y="925.7" font-size="22.5" font-weight="bold" textLength="122.9" lengthAdjust="spacingAndGlyphs">Time (sec)</text>
<text x="1452" y="1005" font-family="'Liberation Serif', 'Times New Roman', serif" font-size="43" textLength="50.7" lengthAdjust="spacingAndGlyphs">(<tspan font-weight="bold">d</tspan>)</text>
<rect x="1499.4" y="562.9" width="382" height="22" fill="#fff" stroke="#222" stroke-width="1.8"/>
<path d="M1518 574.9H1561" stroke="#d01818" stroke-width="4.5" stroke-linecap="round"/>
<path d="M1698 574.9H1741" stroke="#1010c0" stroke-width="2.6" stroke-linecap="round"/>
<text x="1565.7" y="580.9" font-size="17" font-weight="bold" textLength="122" lengthAdjust="spacingAndGlyphs">Vdc (Detailed)</text>
<text x="1745.7" y="580.9" font-size="17" font-weight="bold" textLength="121.3" lengthAdjust="spacingAndGlyphs">Vdc (Average)</text>
<path d="M279.8 1064.4V1390.4M434.8 1064.4V1390.4M589.9 1064.4V1390.4M744.9 1064.4V1390.4M900 1064.4V1390.4M124.7 1308.9H900M124.7 1227.4H900M124.7 1145.9H900M124.7 1064.4H900" stroke="#979797" stroke-width="1.3" stroke-dasharray="1.6 2.7" fill="none"/>
<path d="M124.7 1155l30.4 0 .6 .2 .6 8.8 .7 14 1.2 16.4 3.1 28.1 2.5 30.5 1.2 13.1 1.3 9.6 1.2 7.2 1.2 5.5 1.3 3.7 2.5 5.2 1.8 2.7 2.5 2.2 5 3.3 3.1 1.3 2.4 .5 .7-1.9 .6-13 1.2-41.6 .6-16.9 .7-11.3 1.2-17.6 3.7-44.7 1.3-9.9 1.2-5.1 .6-1.4 2.5-4 .6-.8 .7-.4 .6-.2 8 0 11.8 .4 12.4 .8 13.7 1.2 40.3 4.1 14.9 1.7 41.5 5.3 31 4.4 14.3 1.8 8.7 .8 12.4 .8 25.4 1 20.5 .3 25.4 .1 18-.2 20.5-.6 23.5-.9 49-2.4 52.8-3 14.2-.6 12.4-.2 34.1 .2 116.7 1.9 75 .6" stroke="#f01010" stroke-width="4.4" fill="none" stroke-linejoin="round"/>
<path d="M124.7 1155.4l30.4 0 .6 .2 .6 9 .7 14.4 1.2 16.8 3.1 28.3 2.5 30.5 1.2 13.1 1.3 9.6 1.2 7.3 1.2 5.3 1.3 3.6 2.5 4.9 1.2 1.8 2.5 2.3 5.6 3.7 3.1 1.5 1.8 .6 1.3 .1 .6-3 1.8-67.4 .7-12.4 .6-9.2 4.3-52.3 .6-6 1.3-7.8 .6-2.2 1.2-2.6 2.5-3 1.9-1.4 1.9-.8 4.3-.8 11.2-3.5 11.7-3.1 5-.7 5.6-.1 8 .5 8.1 1.1 9.3 1.9 14.9 4.3 18.6 4.9 8.1 1.9 7.4 1.5 23.6 4 27.9 5.4 18.6 3.1 8.7 1.2 9.9 1 8.7 .8 7.4 .4 29.8-.1 24.8-.7 14.9-1 34.1-3.3 42.8-3.1 29.8-1.4 35.3-.9 26.7-.3 26.7 0 119.1 2.6 93 .1" stroke="#1010f0" stroke-width="3.0" fill="none" stroke-linejoin="round"/>
<path d="M124.7 1308.9l35.4 0 1.2-.3 1.2-.7 1.9-1.5 2.5-2.4 4.3-5.5 1.9-2.2 1.8-1.6 2.5-1.9 3.7-2.1 3.1-1.1 2.5-.3 1.3 1.1 .6-.3 .6-2.5 2.5-19 .6-2.5 .6-.2 .6 1.5 1.3 6.4 3.7 28.5 1.2 6.2 1.9 7.5 1.9 5.7 1.2 2.6 .6 .9 1.3 1.2 1.2 .9 1.3 .5 1.8 .3 3.1 0 3.1-.8 8.7-4.2 13.6-5.5 6.2-2.2 5.6-1.5 8.1-1.5 9.3-1.1 8.7-.6 14.2-.5 40.4-.7 92.4-.2 475.7-.4" stroke="#10e810" stroke-width="3.8" fill="none" stroke-linejoin="round"/>
<path d="M124.7 1308.9l33.5 0 1.2-.3 1.9-1.2 1.9-1.7 4.3-5.4 5-4.9 3.7-4.3 1.8-1.9 1.9-1.3 1.9-.9 1.2-.3 2.5-.2 1.2-.4 .6-3 .7-7.1 1.8-29.5 .6-7 .7-2.6 .6 .8 .6 2.3 .6 3.6 1.3 10.2 3.1 32.5 1.2 11.2 1.2 8.2 1.9 10.2 1.9 7.9 1.2 3.7 .6 1.3 1.3 1.8 1.2 1.2 1.3 .7 1.8 .5 3.1-.1 2.5-.8 2.5-1.4 4.9-3.5 2.5-1.5 13.7-6.8 4.3-1.8 4.3-1.4 6.3-1.5 7.4-1.1 8.1-.8 14.8-.9 88.1-1.2 109.8-.8 144.5-.3 272.3-.2" stroke="#050505" stroke-width="2.8" fill="none" stroke-linejoin="round"/>
<path d="M124.7 1063.9V1391.8M123.4 1390.4H901M112.2 1390.4H124.7M112.2 1308.9H124.7M112.2 1227.4H124.7M112.2 1145.9H124.7M112.2 1064.4H124.7M117.7 1349.7H124.7M117.7 1268.2H124.7M117.7 1186.7H124.7M117.7 1105.2H124.7M124.7 1390.4V1402.9M279.8 1390.4V1402.9M434.8 1390.4V1402.9M589.9 1390.4V1402.9M744.9 1390.4V1402.9M900 1390.4V1402.9M202.2 1390.4V1397.4M357.3 1390.4V1397.4M512.4 1390.4V1397.4M667.4 1390.4V1397.4M822.5 1390.4V1397.4" stroke="#000" stroke-width="2.7" fill="none"/>
<text x="124.7" y="1425.7" font-size="20" text-anchor="middle" font-weight="bold" textLength="28.7" lengthAdjust="spacingAndGlyphs">0.0</text>
<text x="279.8" y="1425.7" font-size="20" text-anchor="middle" font-weight="bold" textLength="28.7" lengthAdjust="spacingAndGlyphs">0.5</text>
<text x="434.8" y="1425.7" font-size="20" text-anchor="middle" font-weight="bold" textLength="28.7" lengthAdjust="spacingAndGlyphs">1.0</text>
<text x="589.9" y="1425.7" font-size="20" text-anchor="middle" font-weight="bold" textLength="28.7" lengthAdjust="spacingAndGlyphs">1.5</text>
<text x="744.9" y="1425.7" font-size="20" text-anchor="middle" font-weight="bold" textLength="28.7" lengthAdjust="spacingAndGlyphs">2.0</text>
<text x="900" y="1425.7" font-size="20" text-anchor="middle" font-weight="bold" textLength="28.7" lengthAdjust="spacingAndGlyphs">2.5</text>
<text x="104.6" y="1395.8" font-size="20" text-anchor="end" font-weight="bold">&#8722;5</text>
<text x="104.6" y="1314.3" font-size="20" text-anchor="end" font-weight="bold">0</text>
<text x="104.6" y="1232.8" font-size="20" text-anchor="end" font-weight="bold">5</text>
<text x="104.6" y="1151.3" font-size="20" text-anchor="end" font-weight="bold">10</text>
<text x="104.6" y="1069.8" font-size="20" text-anchor="end" font-weight="bold">15</text>
<text transform="translate(43.1 1219.3) rotate(-90)" text-anchor="middle" font-weight="bold" font-size="25.5" textLength="247.2" lengthAdjust="spacingAndGlyphs" x="0" y="0">Power (MW &amp;MVar)</text>
<text x="448.6" y="1470.3" font-size="25" font-weight="bold" textLength="128.3" lengthAdjust="spacingAndGlyphs">Time (sec)</text>
<text x="429" y="1543" font-family="'Liberation Serif', 'Times New Roman', serif" font-size="43" textLength="46.6" lengthAdjust="spacingAndGlyphs">(<tspan font-weight="bold">e</tspan>)</text>
<rect x="613.7" y="1068" width="271.4" height="52" fill="#fff" stroke="#222" stroke-width="1.8"/>
<path d="M626.5 1082.9H670.5" stroke="#f01010" stroke-width="4.5" stroke-linecap="round"/>
<path d="M709 1082.9H754" stroke="#10e810" stroke-width="4.5" stroke-linecap="round"/>
<path d="M626.5 1106.6H670.5" stroke="#1010f0" stroke-width="3.2" stroke-linecap="round"/>
<path d="M709 1106.6H754" stroke="#111" stroke-width="3.2" stroke-linecap="round"/>
<text x="676.6" y="1089.2" font-size="19" font-weight="bold" font-style="italic">P<tspan font-size="13.5">G</tspan></text>
<text x="676.6" y="1113.4" font-size="19" font-weight="bold" font-style="italic">P<tspan font-size="13.5">G</tspan></text>
<text x="760" y="1089.2" font-size="19" font-weight="bold" textLength="116.6" lengthAdjust="spacingAndGlyphs"><tspan font-style="italic">Q</tspan><tspan font-style="italic" font-size="13.5">G</tspan> (Detailed)</text>
<text x="760" y="1113.4" font-size="19" font-weight="bold" textLength="116.6" lengthAdjust="spacingAndGlyphs"><tspan font-style="italic">Q</tspan><tspan font-style="italic" font-size="13.5">G</tspan> (Average)</text>
<path d="M1298.2 1069.4V1396.8M1450.7 1069.4V1396.8M1603.3 1069.4V1396.8M1755.8 1069.4V1396.8M1908.3 1069.4V1396.8M1145.7 1342.2H1908.3M1145.7 1287.7H1908.3M1145.7 1233.1H1908.3M1145.7 1178.5H1908.3M1145.7 1124H1908.3M1145.7 1069.4H1908.3" stroke="#979797" stroke-width="1.3" stroke-dasharray="1.6 2.7" fill="none"/>
<path d="M1145.7 1122.9l30.5 0 1.9 74.3 1.9 50.9 1.2 22.5 1.1 17.9 1.5 18.3 1.6 13.5 1.1 7.8 1.5 8 1.5 5.9 2 5.2 1.1 1.1 1.5 .6 1.6 .1 1.9-.6 1.9 1.1 1.9 .7 2.3 .6 3 .4 2.3-71.4 2.3-47.1 1.1-17.3 1.6-18.2 1.5-14 1.9-13.1 1.9-9.6 1.9-7.1 2.3-6.2 1.5-3.2 1.5-2.6 3.1-4 1.9-1.8 1.9-1.6 4.6-2.7 5.7-2.3 5-1.4 5.3-1.1 6.1-.9 6.9-.7 17.1-.9 24.8-.4 63.7-.2 535.7 0" stroke="#d01020" stroke-width="4.6" fill="none" stroke-linejoin="round"/>
<path d="M1145.7 1122.9l30.5 0 1.9 74.3 1.9 50.9 1.2 22.5 1.1 17.9 1.5 18.3 1.6 13.5 1.5 10 1.5 7.4 1.9 6.6 2.3 5.2 2.3 3.3 1.5 1.6 1.5 1.1 1.9 1 2 .6 4.9 1 2.3-73.6 2.3-48.6 1.1-17.7 1.6-18.8 1.5-14.4 1.9-13.5 1.9-9.8 1.9-7.4 2.3-6.4 1.5-3.3 1.5-2.7 3.1-4 1.9-2 1.9-1.5 4.6-2.9 5.7-2.3 5-1.5 5.3-1.1 6.1-.9 6.9-.7 17.1-1 24.8-.4 63.7-.2 535.7 0" stroke="#501080" stroke-width="3.0" fill="none" stroke-linejoin="round" stroke-opacity="0.85"/>
<path d="M1145.7 1068.9V1398.1M1144.4 1396.8H1909.3M1133.2 1396.8H1145.7M1133.2 1342.2H1145.7M1133.2 1287.7H1145.7M1133.2 1233.1H1145.7M1133.2 1178.5H1145.7M1133.2 1124H1145.7M1133.2 1069.4H1145.7M1138.7 1369.5H1145.7M1138.7 1315H1145.7M1138.7 1260.4H1145.7M1138.7 1205.8H1145.7M1138.7 1151.2H1145.7M1138.7 1096.7H1145.7M1145.7 1396.8V1409.3M1298.2 1396.8V1409.3M1450.7 1396.8V1409.3M1603.3 1396.8V1409.3M1755.8 1396.8V1409.3M1908.3 1396.8V1409.3M1222 1396.8V1403.8M1374.5 1396.8V1403.8M1527 1396.8V1403.8M1679.5 1396.8V1403.8M1832 1396.8V1403.8" stroke="#000" stroke-width="2.7" fill="none"/>
<text x="1145.7" y="1432.4" font-size="20.5" text-anchor="middle" font-weight="bold" textLength="28.5" lengthAdjust="spacingAndGlyphs">0.0</text>
<text x="1298.2" y="1432.4" font-size="20.5" text-anchor="middle" font-weight="bold" textLength="28.5" lengthAdjust="spacingAndGlyphs">0.5</text>
<text x="1450.7" y="1432.4" font-size="20.5" text-anchor="middle" font-weight="bold" textLength="28.5" lengthAdjust="spacingAndGlyphs">1.0</text>
<text x="1603.3" y="1432.4" font-size="20.5" text-anchor="middle" font-weight="bold" textLength="28.5" lengthAdjust="spacingAndGlyphs">1.5</text>
<text x="1755.8" y="1432.4" font-size="20.5" text-anchor="middle" font-weight="bold" textLength="28.5" lengthAdjust="spacingAndGlyphs">2.0</text>
<text x="1908.3" y="1432.4" font-size="20.5" text-anchor="middle" font-weight="bold" textLength="28.5" lengthAdjust="spacingAndGlyphs">2.5</text>
<text x="1125.2" y="1402.5" font-size="20.5" text-anchor="end" font-weight="bold">0.0</text>
<text x="1125.2" y="1347.9" font-size="20.5" text-anchor="end" font-weight="bold">0.2</text>
<text x="1125.2" y="1293.4" font-size="20.5" text-anchor="end" font-weight="bold">0.4</text>
<text x="1125.2" y="1238.8" font-size="20.5" text-anchor="end" font-weight="bold">0.6</text>
<text x="1125.2" y="1184.2" font-size="20.5" text-anchor="end" font-weight="bold">0.8</text>
<text x="1125.2" y="1129.7" font-size="20.5" text-anchor="end" font-weight="bold">1.0</text>
<text x="1125.2" y="1075.1" font-size="20.5" text-anchor="end" font-weight="bold">1.2</text>
<text transform="translate(1056.6 1220.7) rotate(-90)" text-anchor="middle" font-weight="bold" font-size="23" textLength="155.7" lengthAdjust="spacingAndGlyphs" x="0" y="0">Voltage (pu)</text>
<text x="1464.3" y="1477.9" font-size="25.5" font-weight="bold" textLength="126.4" lengthAdjust="spacingAndGlyphs">Time (sec)</text>
<text x="1456.4" y="1544" font-family="'Liberation Serif', 'Times New Roman', serif" font-size="43" textLength="41" lengthAdjust="spacingAndGlyphs">(<tspan font-weight="bold">f</tspan>)</text>
<rect x="1533.7" y="1076.6" width="369.2" height="23.4" fill="#fff" stroke="#222" stroke-width="1.8"/>
<path d="M1553 1089.1H1596" stroke="#d01818" stroke-width="4.5" stroke-linecap="round"/>
<path d="M1726 1089.1H1768.6" stroke="#1a1a70" stroke-width="2.6" stroke-linecap="round"/>
<text x="1603.4" y="1096.3" font-size="18.5" font-weight="bold" textLength="110.9" lengthAdjust="spacingAndGlyphs"><tspan font-style="italic">V</tspan><tspan font-style="italic" font-size="13.5">G</tspan> (Detailed)</text>
<text x="1775.7" y="1096.3" font-size="18.5" font-weight="bold" textLength="111.4" lengthAdjust="spacingAndGlyphs"><tspan font-style="italic">V</tspan><tspan font-style="italic" font-size="13.5">G</tspan> (Average)</text>
<path d="M245.5 1591.4V1933.7M374.7 1591.4V1933.7M503.9 1591.4V1933.7M633.1 1591.4V1933.7M762.3 1591.4V1933.7M891.5 1591.4V1933.7M116.3 1848.1H891.5M116.3 1762.6H891.5M116.3 1677H891.5M116.3 1591.4H891.5" stroke="#979797" stroke-width="1.3" stroke-dasharray="1.6 2.7" fill="none"/>
<path d="M116.3 1812.9l1.7-9.8 1.7-11.3 7.4-54.5 3-19.7 1.7-9 1.7-6.8 .9-2.4 .8-1.7 .9-.9 .4-.1 .5 0 .8 .8 1.3 2.7 1.3 4.2 1.7 7.8 1.8 9.8 1.7 11.3 7.3 54.5 3 19.7 1.7 9 1.8 6.8 .8 2.4 .9 1.7 .9 .9 .4 .1 .4 0 .9-.8 1.3-2.7 1.3-4.2 1.7-7.8 1.7-9.8 1.7-11.3 7.3-54.5 3.1-19.7 1.7-9 1.3-5.3 1.7-4.8 .9-1.3 .4-.4 .4-.1 .9 .3 .8 1.2 .9 2 1.3 4.2 1.7 7.8 1.7 9.8 1.8 11.3 7.3 54.5 3 19.7 1.7 9 1.7 6.8 .9 2.4 .9 1.7 .8 .9 .5 .1 .4 0 .9-.8 1.2-2.7 1.3-4.2 1.8-7.8 1.7-9.8 1.7-11.3 7.3-54.5 3-19.7 1.8-9 1.3-5.3 1.7-4.8 .8-1.3 .5-.4 .4-.1 .9 .3 .8 1.2 .9 2 1.3 4.2 1.7 7.8 1.7 9.8 1.7 11.3 7.4 54.5 3 19.7 1.7 9 1.7 6.8 .9 2.4 .8 1.7 .9 .9 .4 .1 .5 0 .8-.8 1.3-2.7 1.3-4.2 1.7-7.8 1.8-9.8 1.7-11.3 7.3-54.5 3-19.7 1.7-9 1.3-5.3 1.8-4.8 .8-1.3 .5-.4 .4-.1 .8 .3 .9 1.2 .9 2 1.3 4.2 1.7 7.8 1.7 9.8 1.7 11.3 7.3 54.5 3.1 19.7 1.7 9 1.7 6.8 .9 2.4 .8 1.7 .9 .9 .4 .1 .5 0 .8-.8 1.3-2.7 1.3-4.2 1.7-7.8 1.7-9.8 1.8-11.3 7.3-54.5 3-19.7 1.7-9 1.3-5.3 1.7-4.8 .9-1.3 .4-.4 .5-.1 .8 .3 .9 1.2 .8 2 1.3 4.2 1.8 7.8 1.7 9.8 1.7 11.3 7.3 54.5 3 19.7 1.8 9 1.7 6.8 .8 2.4 .9 1.7 .9 .9 .4 .1 .4-.3 .5-1.2 1.3-8.3 4.3-45.8 .8-6.5 .9-3.9 .4-.7 1.3 .1 1.3 .3 2.2 1.1 2.5 1.9 4.3 4.2 9.5 11 2.2 2.1 2.1 1.8 2.2 1.3 2.1 .8 1.8 .2 1.2-.5 1.3-1.3 1.8-2.8 1.3-2.8 1.7-4.5 3-9.7 7.3-26.2 3.5-10.4 1.7-4.1 1.3-2.4 1.7-2.1 1.3-.7 .8 0 .9 .5 .9 1.1 .8 1.5 1.8 4.3 2.1 7.4 3.5 15.3 8.1 41.7 2.2 9.4 1.7 6.3 1.7 5.1 1.8 3.3 .8 1 .9 .5 .8-.1 .5-.3 1.3-1.9 1.7-4.7 1.3-4.8 1.7-8.1 3-17.2 7.3-47.1 3.5-18.4 1.7-7 1.3-3.8 .9-1.9 .8-1.3 .9-.5 .4-.1 .4 .2 .9 1 .9 1.6 .8 2.4 1.7 6.5 1.8 8.6 3.4 21.8 7.8 55.9 1.7 10.8 1.7 9.4 1.7 7.4 1.3 4 .9 1.9 .9 1.2 .8 .4 .4-.1 .5-.4 .8-1.3 .9-2.2 .9-2.9 1.2-5.6 1.8-9.6 3-20.9 7.3-58.4 1.7-12.2 1.8-10.6 1.7-8.4 1.3-4.7 1.3-2.9 .8-.9 .5-.1 .8 .4 .9 1.3 .8 2 .9 2.7 1.7 7.3 1.7 9.4 3.5 23.5 7.3 56.2 1.7 11.6 1.8 10.1 1.7 8 1.3 4.5 .8 2.2 .9 1.4 .9 .6 .4 0 .4-.3 .9-1.2 .8-2.1 .9-2.8 1.3-5.6 1.7-9.7 3-21.2 7.3-59.1 1.8-12.3 1.7-10.4 1.3-6.4 1.3-4.9 1.3-3.1 .8-1.1 .5-.1 .4 0 .9 .8 .8 1.7 .9 2.4 1.7 6.8 1.7 9.3 3 20.4 8.7 66.8 2.5 16 2.2 9.7 1.3 3.9 1.3 2.1 .8 .4 .5-.5 .4-1.1 1.3-6.5 2.6-19 1.3-8.1 .8-3.5 .5-.9 .4-.2 .4 .7 .4 1.4 .9 4.9 3.9 33.9 .8 4.9 .5 1.5 .4 .6 .4-.2 .5-.9 .8-3.6 .9-5.9 1.3-12.3 1.7-21.1 4.3-60.3 2.2-24.5 3-25.3 1.7-12.2 .9-4.8 .8-3.5 .9-2.1 .4-.4 .4 0 .9 1.2 1.3 4.1 1.3 6.8 1.3 9 3 27.9 6.9 78.4 3 30 1.7 13.4 1.3 7.6 1.3 5 .9 1.8 .4 .4 .4 .1 .9-.9 1.3-3.3 1.3-5.5 1.7-10.3 1.7-13.1 1.7-15.3 6.9-68.7 3.1-26.5 1.7-12.1 1.7-9 .9-3.2 .8-2.1 .9-1.1 .4-.1 .4 .2 .9 1.3 1.3 3.8 1.3 5.9 1.3 7.8 1.7 12.6 1.7 14.8 6.9 67 3 26 1.8 11.9 1.2 7 .9 3.6 .9 2.7 .8 1.7 .5 .5 .4 .1 .9-.5 1.2-2.8 1.3-4.9 1.8-9.3 1.7-12 1.7-14 7.3-67.7 3-24.2 1.8-10.8 1.3-6.3 .8-3.1 .9-2.2 .8-1.2 .5-.2 .4 .1 .9 .9 1.3 3.1 1.2 5 1.8 9.2 1.7 11.5 1.7 13.4 6.9 60.7 3 23.9 1.7 11.3 1.3 6.8 1.8 6.6 1.2 2.7 .9 .6 .4-.1 .9-1 .9-2 1.3-4.7 1.7-9.2 1.7-11.8 1.7-13.8 6.9-62.8 3-24 1.8-10.8 1.2-6.3 .9-3.1 .9-2.2 .8-1.2 .5-.2 .4 .1 .9 .8 .8 1.6 .9 2.4 1.3 4.8 1.7 8.7 3.4 23 7.4 59 3 22 1.7 10.4 1.3 6.5 1.7 6.4 1.3 2.9 .9 1 .8 .1 .5-.3 .8-1.4 .9-2.2 .8-3 1.8-8.1 1.7-10.6 2.1-15.9 7.4-61.9 3-22.3 1.7-10.3 1.7-7.7 .9-2.8 .8-2 .9-1 .4-.2 .5 .1 .8 .8 .9 1.6 .8 2.4 1.8 6.9 1.7 9.4 3.4 23.9 8.6 69 2.2 14.2 2.2 11.1 1.2 4.9 .9 2.3 1.3 2 .9 .3 .8-.7 1.3-2.7 1.3-4.5 1.3-6.2" stroke="#0a0ae6" stroke-width="3.2" fill="none" stroke-linejoin="round"/>
<path d="M116.3 1771.8l4.3 30.4 1.7 10 1.8 7.9 1.7 5.6 1.3 2.2 .8 .5 .5 0 .4-.3 .9-1.2 1.2-3.2 1.3-4.7 1.3-6 1.7-9.8 2.6-17.4 6.9-51.5 3.5-21.4 1.7-7.9 1.7-5.6 .9-1.7 .8-.9 .5-.1 .8 .3 1.3 2.1 1.7 5.3 1.3 5.6 1.8 9.3 3 20 7.3 54.4 1.7 11.2 1.7 9.5 1.8 7.4 1.3 3.9 .8 1.7 .9 .9 .4 .1 .9-.3 1.3-2.1 1.7-5.3 1.3-5.6 1.7-9.3 3-20 6.9-51.5 3.4-21.4 1.8-7.9 1.3-4.4 .8-2.1 .9-1.3 .8-.5 .5 0 .4 .3 .9 1.2 .8 1.9 .9 2.7 1.3 5.2 1.7 8.8 3 19.5 7.8 57.4 1.7 11.2 1.7 9.5 1.7 7.4 1.3 3.9 1.3 2.2 .9 .5 .4 0 .4-.3 .9-1.2 .9-1.9 .8-2.7 1.3-5.2 1.7-8.8 3.1-19.5 7.7-57.4 1.7-11.2 1.8-9.5 1.7-7.4 1.3-3.9 1.3-2.2 .8-.5 .5 0 .4 .3 .9 1.2 .8 1.9 .9 2.7 1.3 5.2 1.7 8.8 3 19.5 7.8 57.4 1.7 11.2 1.7 9.5 1.7 7.4 1.3 3.9 1.3 2.2 .9 .5 .4 0 .4-.3 .9-1.2 .9-1.9 .8-2.7 1.3-5.2 1.7-8.8 3-19.5 7.8-57.4 1.7-11.2 1.7-9.5 1.8-7.4 1.3-3.9 1.2-2.2 .9-.5 .4 0 .5 .3 .8 1.2 .9 1.9 .9 2.7 1.2 5.2 1.8 8.8 3 19.5 7.7 57.4 1.8 11.2 1.7 9.5 1.7 7.4 1.3 3.9 1.3 2.2 .8 .5 .5 0 .4-.3 .9-1.2 .8-1.9 .9-2.7 1.7-7.2 1.7-9.3 3.1-20 6.8-51.5 3.5-21.4 1.7-7.9 1.3-4.4 1.3-2.9 .9-.9 .4-.1 .4 .1 .4 .4 .9 1.8 1.7 6.8 2.2 12.6 5.6 38.5 1.7 8.6 .9 3 .8 1.9 .5 .5 .4 .2 .4-.2 .9-1.3 1.3-3.8 3-11.4 .9-2.3 .8-1.3 .4-.2 1.3 .1 4.8 1.4 2.1 .1 1.3-.7 3-3.1 1.3-1 1.3-.2 1.3 .4 1.7 1.5 1.8 2.3 1.7 3 1.7 3.7 3.4 8.6 7.4 20.1 3.8 9 1.8 3.2 1.7 2.4 1.7 1.6 1.3 .6 .9 0 .8-.4 .9-1 .8-1.4 1.8-4 1.7-5.5 3.4-14.2 8.2-39.4 2.2-8.8 1.7-5.9 1.7-4.5 1.7-2.9 .9-.8 .9-.2 .4 .1 .9 .7 1.2 2.1 1.8 4.7 1.3 4.6 1.7 7.5 3 15.8 7.8 45.5 3.4 16.7 1.7 6.3 1.3 3.6 .9 1.8 .8 1.2 .9 .6 .4 .1 .5-.1 .8-.9 .9-1.7 .8-2.4 1.3-5 1.8-8.6 3.4-22.5 6.9-51.5 1.7-11.4 1.7-9.7 1.8-7.7 1.3-4 1.2-2.4 .5-.3 .8-.1 .9 .7 .9 1.4 1.7 4.8 1.7 7.2 1.7 9.1 3.5 22.4 7.3 53.2 2.1 13.7 1.8 9.3 1.7 7.5 1.3 4.1 .8 2 .9 1.3 .9 .5 .4 0 .4-.3 .9-1.2 .9-2.2 .8-2.9 1.3-5.9 1.7-10 3-22 6.9-57.1 1.8-12.6 1.7-10.7 1.3-6.6 1.3-4.9 1.3-3.2 .8-1 .4-.1 .9 .4 .9 1.1 .8 1.9 .9 2.5 1.7 6.8 1.7 8.8 3.5 22.1 8.2 60.1 3.4 20.6 1.7 7.8 1.3 4.3 .9 2.2 .8 1.4 .9 .7 .4 .1 .5-.2 .8-1.1 .9-1.9 .9-2.7 1.2-5.5 1.8-9.6 3-21.2 7.3-59.5 1.7-12.3 1.8-10.6 1.2-6.4 1.3-4.8 1.3-3.1 .9-.9 .4-.2 .5 .2 .4 .5 1.3 3.4 .8 3.6 1.3 7.2 2.6 19.1 4.7 41.7 2.2 17.2 2.2 13.3 1.2 5.4 .9 2.1 .9 1 .4-1.2 .4-6.4 1.8-52 .8-18.8 .4-2 .5 .5 .4 1.4 1.3 7.9 1.3 12.6 4.7 62.9 1.3 15 .9 8 .8 5.9 .9 3.3 .4 .6 .5-.1 .8-1.3 1.3-4.2 1.3-6.8 1.3-8.9 3-27.2 6.5-70.5 3-28.7 1.7-12.6 1.3-7.1 1.3-4.6 .9-1.5 .4-.2 .4 0 .9 1.1 1.3 3.6 1.3 5.8 1.7 10.6 1.7 13.3 1.7 15.4 6.9 69.1 3 26.6 1.8 12.2 1.3 7.2 .8 3.7 .9 2.8 .8 1.7 .5 .4 .4 .2 .4-.2 .5-.4 1.3-3.1 1.2-5.3 1.8-10.2 1.7-13.1 1.7-15.2 6.5-64.6 3-26.9 1.7-12.4 1.3-7.4 .9-3.8 .8-2.8 .9-1.8 .4-.4 .4-.2 .9 .6 .9 1.5 .8 2.5 1.3 5.2 1.7 9.7 1.8 12.1 1.7 14 7.3 67.2 3 24.5 1.8 11.3 1.7 8.6 .8 3.2 .9 2.3 .9 1.3 .4 .3 .4 0 .9-.7 1.3-2.9 1.3-4.7 1.7-9 1.7-11.5 1.7-13.4 7.4-65 3-23.8 1.7-11 1.7-8.5 .9-3.1 .8-2.2 .9-1.3 .4-.3 .5 0 .8 .7 .9 1.6 .8 2.5 1.3 5.3 1.8 9.4 3.4 25 6.9 59.8 3 23.2 1.7 10.7 1.3 6.4 1.7 6 1.3 2.2 .5 .3 .8-.2 .9-1.1 .9-2 1.2-4.6 1.8-8.5 1.7-10.8 1.7-12.7 7.8-65.4 3-22.3 1.7-10.2 1.3-6 1.7-5.5 .9-1.5 .4-.4 .4-.2 .9 .4 .9 1.3 .8 2.2 1.3 4.8 1.7 8.7 1.8 11.1 1.7 12.8 6.9 58 3 22.9 1.7 10.7 1.3 6.6 1.7 6.2 1.3 2.6 .9 .6 .4-.1 .9-.8 .8-1.8 1.8-6 1.7-8.7 1.7-11.1 1.7-12.8 6.9-58 3-22.9 1.8-10.7 1.2-6.6 1.3-5 1.3-3.2 .9-1 .4-.2 .9 .4 .8 1.3 .9 2.2 .9 3 1.7 8.1 1.7 10.5 1.7 12.4 5.2 43.2" stroke="#f00010" stroke-width="3.2" fill="none" stroke-linejoin="round"/>
<path d="M116.3 1701.8l1.3-3.3 .9-1.4 .8-.4 .9 .3 .8 1.2 .9 2 .9 2.6 1.3 5.2 1.7 8.9 2.1 13.5 7.8 57.5 3 19.6 1.7 9 1.3 5.3 1.7 4.8 .9 1.4 .4 .3 .5 .1 .8-.3 .9-1.2 .8-2 1.3-4.2 1.8-7.8 1.7-9.8 1.7-11.4 7.3-54.5 3-19.6 1.8-9 1.7-6.8 .8-2.4 .9-1.7 .9-.9 .4-.1 .4 0 .9 .8 1.3 2.7 1.3 4.2 1.7 7.8 1.7 9.8 1.7 11.4 6.9 51.4 3 20.2 1.8 9.4 1.3 5.8 1.7 5.5 1.3 2.3 .8 .4 .5 0 .8-.8 .9-1.6 1.3-3.7 1.7-7.3 1.7-9.3 1.7-11 7.8-57.5 3-19.6 1.7-9 1.8-6.8 .8-2.4 .9-1.7 .8-.9 .5-.1 .4 0 .9 .8 .8 1.6 .9 2.3 1.7 6.6 1.7 8.9 3 19.5 7.8 57.5 2.2 13.6 1.7 9 1.7 6.8 .9 2.4 .8 1.7 .9 .9 .4 .1 .9-.3 .8-1.2 1.3-3.2 1.3-4.8 1.3-6 1.7-9.8 2.6-17.5 6.9-51.4 3-19 1.7-8.5 1.3-4.9 .9-2.4 .9-1.7 .8-.9 .5-.1 .4 0 .8 .8 .9 1.6 .9 2.3 1.7 6.6 1.7 8.9 3 19.5 7.8 57.5 1.7 11.1 1.7 9.4 1.7 7.4 1.3 3.9 .9 1.7 .9 .9 .4 .1 .9-.3 1.2-2.1 1.8-5.3 1.3-5.7 1.7-9.3 3-20.1 6.9-51.4 3.4-21.3 1.8-8 1.3-4.4 1.2-2.8 .9-.9 .4-.1 .5 0 .8 .8 1.3 2.7 1.3 4.2 1.7 7.8 1.8 9.8 1.7 11.4 7.3 54.5 3 19.6 1.7 9 1.3 5.3 1.8 4.8 .8 1.4 .4 .3 .9 0 .4-.3 1.3-2.4 1.3-4.4 1.3-5.9 3-19 6.9-54.1 3-20.7 1.8-9.2 1.2-5.1 1.3-3.3 .9-1.1 .4-.1 .5 .3 .4 1.5 .9 5.9 1.2 13.9 3.1 38.1 .8 7.4 .9 4 .4 .4 .9-.1 1.3-.4 1.3-.7 2.5-2.2 2.6-3 4.3-6.6 10.8-18.8 2.6-3.9 2.1-2.7 2.2-2.2 2.1-1.5 2.2-.7 .9-.1 .8 .4 1.3 1.3 1.7 3.1 1.3 3.3 1.7 5.3 3.1 11.4 7.3 31.2 3.4 12.3 1.8 4.6 1.2 2.7 .9 1.3 .9 .9 1.3 .5 .8-.3 .9-.8 1.7-3 1.7-4.8 1.8-6.3 3.4-15.6 8.6-45.3 2.2-9.6 1.7-6.6 1.7-5.2 1.7-3.5 .9-1.1 .9-.5 .8 0 .4 .3 1.3 2 1.8 4.9 1.3 5.1 1.7 8.6 3 18.3 6.9 46.9 3.4 19.7 1.7 7.5 1.3 4.1 .9 2 .9 1.4 .8 .6 .5 0 .4-.2 .8-.9 .9-1.7 .9-2.4 1.7-6.6 1.7-8.8 3.5-22.1 7.7-56.8 1.7-11 1.8-9.5 1.7-7.5 1.3-4.2 .8-1.9 .9-1.2 .9-.4 .4 .1 .4 .4 .9 1.2 .8 2.1 .9 2.7 1.7 7.4 1.7 9.6 3.1 20.5 7.7 59.7 1.7 11.6 1.8 9.9 1.7 7.9 1.3 4.2 1.3 2.7 .8 .7 .5 .1 .4-.2 .8-1 .9-1.8 .9-2.6 1.7-7.3 1.7-9.6 3-21 7.4-58.2 1.7-12.1 1.7-10.5 1.7-8.3 1.3-4.5 1.3-2.8 .9-.8 .4-.1 .4 .2 .9 1.1 .9 1.9 .8 2.7 1.3 5.6 1.7 9.5 3 21.3 7.4 59.7 1.7 12.4 1.7 10.5 1.3 6.4 1.3 4.9 1.3 3.1 .8 1 .5 .1 .4-.2 .9-1.2 1.3-4 1.3-6.1 1.2-8.1 3.1-24.1 6.8-63.2 2.2-15.9 1.3-7.5 .9-3.9 .8-2.9 .9-1.8 .4-.5 .4-.1 .5 .5 .4 1.6 .9 5.2 2.1 16.5 .9 3.9 .4 .5 .4-.4 .9-3.3 2.6-17.8 .8-4.6 .5-1.5 .4-.6 .4 .1 .9 .7 .9 1.6 1.7 5.2 1.7 7.9 1.7 9.9 3.5 24.6 8.2 66.6 2.1 15.2 1.7 10.5 1.8 8.3 1.2 4.8 .9 2.2 .9 1.6 .8 .7 .5 .1 .4-.2 .4-.7 1.3-3.8 1.3-6.4 1.3-8.8 3-27.3 6.5-71.9 2.6-25.7 1.7-13.9 1.3-8 1.3-5.6 .8-2.2 .5-.7 .4-.2 .4 .1 .4 .4 1.3 2.7 1.3 4.9 1.8 9.5 1.7 12.4 1.7 14.5 7.3 70.9 3 25.9 1.8 11.8 1.7 8.9 .8 3.1 .9 2.2 .9 1.1 .4 .2 .4-.2 .9-1.1 1.3-3.7 1.3-5.8 1.7-10.4 3-24.3 6.9-66.3 2.6-22.2 1.7-12.3 1.3-7.3 1.7-6.9 1.3-2.6 .4-.3 .5-.1 .4 .3 .9 1.2 .8 2.2 1.3 4.9 1.7 9.2 1.8 11.8 1.7 13.6 7.3 66.1 3 23.8 1.7 11 1.8 8.2 .8 2.9 .9 2 .9 1 .4 .1 .4-.1 .9-1 1.3-3.1 1.3-4.9 1.7-9.1 1.7-11.3 1.7-13.1 7.3-63.1 3.1-22.9 1.7-10.6 1.3-6.4 1.7-5.9 1.3-2.2 .9-.3 .4 .2 .8 1.2 .9 2.1 1.3 4.6 1.7 8.8 1.7 11 1.8 13 7.3 62.4 3 22.6 1.7 10.4 1.7 7.7 .9 2.8 .9 1.8 .8 1 .5 .2 .4-.2 .9-.9 .8-1.8 .9-2.6 1.3-5.2 1.7-9.3 3.4-24.2 6.5-53.9 3-22.9 1.7-10.9 1.3-6.8 1.8-6.8 1.2-3.1 .9-1 .4-.2 .5 .1 .4 .3 .9 1.4 .8 2.3 .9 3.1 1.7 8.4 1.7 10.9 1.7 12.8 7.4 62.7 3 22.8 1.7 10.4 1.7 7.9 .9 2.8 .9 1.9 .8 1 .4 .1 .5-.1 .8-.9 .9-1.8 .9-2.6 1.7-7.3 1.7-9.7 3-21.5 6.5-53.6 2.6-19.7 2.5-16.3 2.2-9.7" stroke="#18f018" stroke-width="3.2" fill="none" stroke-linejoin="round"/>
<path d="M116.3 1590.9V1935M115 1933.7H892.5M103.8 1933.7H116.3M103.8 1848.1H116.3M103.8 1762.6H116.3M103.8 1677H116.3M103.8 1591.4H116.3M109.3 1890.9H116.3M109.3 1805.3H116.3M109.3 1719.8H116.3M109.3 1634.2H116.3M116.3 1933.7V1946.2M245.5 1933.7V1946.2M374.7 1933.7V1946.2M503.9 1933.7V1946.2M633.1 1933.7V1946.2M762.3 1933.7V1946.2M891.5 1933.7V1946.2M180.9 1933.7V1940.7M310.1 1933.7V1940.7M439.3 1933.7V1940.7M568.5 1933.7V1940.7M697.7 1933.7V1940.7M826.9 1933.7V1940.7" stroke="#000" stroke-width="2.7" fill="none"/>
<text x="116.3" y="1970.7" font-size="21" text-anchor="middle" font-weight="bold" textLength="40.5" lengthAdjust="spacingAndGlyphs">0.00</text>
<text x="245.5" y="1970.7" font-size="21" text-anchor="middle" font-weight="bold" textLength="40.5" lengthAdjust="spacingAndGlyphs">0.05</text>
<text x="374.7" y="1970.7" font-size="21" text-anchor="middle" font-weight="bold" textLength="40.5" lengthAdjust="spacingAndGlyphs">0.10</text>
<text x="503.9" y="1970.7" font-size="21" text-anchor="middle" font-weight="bold" textLength="40.5" lengthAdjust="spacingAndGlyphs">0.15</text>
<text x="633.1" y="1970.7" font-size="21" text-anchor="middle" font-weight="bold" textLength="40.5" lengthAdjust="spacingAndGlyphs">0.20</text>
<text x="762.3" y="1970.7" font-size="21" text-anchor="middle" font-weight="bold" textLength="40.5" lengthAdjust="spacingAndGlyphs">0.25</text>
<text x="891.5" y="1970.7" font-size="21" text-anchor="middle" font-weight="bold" textLength="40.5" lengthAdjust="spacingAndGlyphs">0.30</text>
<text x="95.3" y="1938.7" font-size="21.8" text-anchor="end" font-weight="bold">&#8722;2</text>
<text x="95.3" y="1853.1" font-size="21.8" text-anchor="end" font-weight="bold">&#8722;1</text>
<text x="95.3" y="1767.6" font-size="21.8" text-anchor="end" font-weight="bold">0</text>
<text x="95.3" y="1682" font-size="21.8" text-anchor="end" font-weight="bold">1</text>
<text x="95.3" y="1596.4" font-size="21.8" text-anchor="end" font-weight="bold">2</text>
<text transform="translate(38.6 1748.5) rotate(-90)" text-anchor="middle" font-weight="bold" font-size="25.5" textLength="162.7" lengthAdjust="spacingAndGlyphs" x="0" y="0">Current (kA)</text>
<text x="440" y="2016.4" font-size="26.5" font-weight="bold" textLength="129.3" lengthAdjust="spacingAndGlyphs">Time (sec)</text>
<rect x="510.6" y="1599.4" width="370" height="27.7" fill="#fff" stroke="#222" stroke-width="1.8"/>
<path d="M530.5 1613.7H581" stroke="#0a0ae6" stroke-width="3.4" stroke-linecap="round"/>
<path d="M611.5 1613.7H661" stroke="#f00010" stroke-width="3.4" stroke-linecap="round"/>
<path d="M692.5 1613.7H742" stroke="#18f018" stroke-width="3.4" stroke-linecap="round"/>
<text x="588" y="1621.4" font-size="21" font-weight="bold" font-style="italic">a</text>
<text x="668" y="1621.4" font-size="21" font-weight="bold" font-style="italic">b</text>
<text x="748.6" y="1621.4" font-size="21" font-weight="bold" textLength="113.7" lengthAdjust="spacingAndGlyphs"><tspan font-style="italic">c</tspan> (Detailed)</text>
<path d="M255 2065.7V2402.2M376.6 2065.7V2402.2M498.2 2065.7V2402.2M619.8 2065.7V2402.2M741.4 2065.7V2402.2M863 2065.7V2402.2M133.4 2318.1H863M133.4 2233.9H863M133.4 2149.8H863M133.4 2065.7H863" stroke="#979797" stroke-width="1.3" stroke-dasharray="1.6 2.7" fill="none"/>
<path d="M133.4 2285.3l1.6-9.3 1.6-10.9 7.3-56.4 3.3-21.7 1.6-8.2 1.6-6 .8-2 .8-1.2 .9-.4 .4 .1 .4 .3 .8 1.2 1.6 4.7 1.2 5.1 1.6 8.8 2.9 19.3 7.3 56.4 1.6 10.9 1.6 9.3 1.6 7.1 1.7 4.7 .8 1.2 .8 .4 .4-.1 .8-.8 1.2-2.7 1.2-4.2 1.2-5.6 1.7-9.3 2.8-19.8 6.5-50.5 3.2-20.9 1.6-7.8 1.3-4.2 1.2-2.7 .8-.8 .4-.1 .4 .1 .8 .8 .8 1.6 .8 2.4 1.7 6.5 1.6 8.8 2.8 19.3 7.3 56.4 1.6 10.9 1.7 9.3 1.6 7.1 1.2 3.8 .8 1.6 .8 .8 .4 .1 .8-.4 1.2-2.1 1.7-5.3 1.2-5.6 1.6-9.3 2.8-19.8 6.5-50.5 3.3-20.9 1.6-7.8 1.2-4.2 1.2-2.7 .8-.8 .4-.1 .4 .1 .9 .8 .8 1.6 .8 2.4 1.6 6.5 1.6 8.8 2.9 19.3 7.2 56.4 1.7 10.9 1.6 9.3 1.6 7.1 1.2 3.8 1.2 2.1 .9 .4 .4-.1 .4-.3 .8-1.2 1.6-4.7 1.2-5.1 1.6-8.8 2.9-19.3 6.9-53.5 3.2-20.9 1.6-7.8 1.2-4.2 1.3-2.7 .8-.8 .4-.1 .4 .1 .8 .8 .8 1.6 .8 2.4 1.6 6.5 1.7 8.8 2.8 19.3 7.3 56.4 1.6 10.9 1.6 9.3 1.7 7.1 1.2 3.8 1.2 2.1 .8 .4 .4-.1 .4-.3 .8-1.2 1.6-4.7 1.3-5.1 1.6-8.8 2.8-19.3 6.9-53.5 3.2-20.9 1.7-7.8 1.2-4.2 1.2-2.7 .8-.8 .4-.1 .4 .1 .8 .8 1.2 2.7 1.3 4.2 1.6 7.8 3.2 20.9 6.5 50.5 2.9 19.8 1.6 9.3 1.2 5.6 1.2 4.2 1.2 2.7 .8 .8 .4 .1 .4-.4 .4-1.2 .9-4.3 1.2-10.1 3.2-32.7 .8-5.8 .8-3.6 .4-.7 .4 0 1.7 .7 1.6 1.6 3.6 4.4 1.3 1.1 .8 .4 .8 .2 .8-.3 .8-.6 .8-1 2-4 2.1-5.6 7.3-25.6 2.8-8.7 1.2-2.9 1.2-2.2 1.2-1.5 1.3-.6 .8 .1 .8 .8 1.6 2.9 1.6 4.8 1.6 6.2 3.3 15.6 6.9 37.5 3.2 14.5 1.6 5.3 1.3 3 .8 1.4 .8 .9 .8 .3 .4 0 .4-.3 .8-1 1.6-3.9 1.7-6.3 1.6-8 2.8-17.5 7.3-51 3.3-18.5 1.6-6.9 1.2-3.7 1.2-2.3 .8-.8 .4-.1 .8 .4 .8 1.1 1.7 4.3 1.6 6.6 1.6 8.5 3.2 21.4 7.3 54.5 3.3 19.8 1.6 7.4 1.2 4.1 .8 2 .8 1.4 .9 .6 .4 0 .4-.2 .8-1 .8-1.7 .8-2.4 1.6-6.6 1.6-8.7 3.3-22.1 6.9-53.4 3.2-20.8 1.6-7.7 1.3-4.3 1.2-2.8 .8-1 .4-.2 .8 .3 .8 1 .8 1.8 .8 2.5 1.7 6.8 1.6 8.9 3.2 22.3 6.9 53.7 3.2 20.7 1.7 7.7 1.2 4.3 .8 2 .8 1.3 .8 .4 .4 0 .4-.3 .8-1 1.7-4.2 1.6-6.6 1.6-8.6 3.2-21.7 7.3-55.5 3.3-20.4 1.6-7.6 1.2-4.4 .8-2.1 .8-1.4 .9-.7 .4 0 .4 .1 .8 .9 .8 1.6 .8 2.4 1.6 6.6 1.6 8.8 3.3 22.2 7.3 57.1 1.6 10.9 1.6 9.4 1.6 7.5 1.3 3.9 1.2 2.5 .8 .6 .4 0 .8-.5 .8-1.3 1.6-4.6 1.7-7 1.6-8.9 3.2-22.2 6.9-52.9 2-13.6 1.7-9.3 1.6-7.4 1.2-4.1 1.2-2.6 .8-.8 .4-.2 .4 .5 .8 5.4 1.3 17.2 1.2 24.9 3.2 77 1.2 22.8 1.2 13.7 .5 2 .4 .5 .4-.4 .4-1.1 .8-3.8 1.6-13.4 1.6-19 4.5-60.5 2.4-26.9 3.3-39.1 1.2-12 .8-6 .8-3.9 .4-1.1 .4-.3 .4 .1 .8 1.4 1.2 4.3 1.3 6.8 1.2 9 2.8 27.2 6.1 70.8 2.8 29.4 1.6 13.3 1.3 7.7 1.2 5.4 .8 2.1 .4 .5 .4 .3 .4-.1 .4-.5 1.2-3.2 1.2-5.9 1.3-8.1 2.8-25.6 6.5-73.6 2.8-28.2 1.6-12.4 1.3-6.9 1.2-4.5 .8-1.5 .4-.3 .4 .1 .8 1 1.2 3.4 1.2 5.5 1.7 10.1 3.2 27.3 6.1 61.3 2.8 25.6 1.6 11.8 1.3 7.1 1.6 6.5 1.2 2.4 .4 .3 .4-.1 .4-.3 1.2-2.3 1.2-4.4 1.7-8.6 1.6-11.2 1.6-13.2 7.3-68.8 2.8-23.2 1.7-10.3 1.2-6 .8-3 .8-2.1 .8-1.1 .4-.2 .4 .1 .8 .9 1.2 3 1.3 4.8 1.6 8.9 3.2 24.3 6.9 62.6 2.8 22.6 1.7 10.4 1.2 6.1 1.6 5.6 .8 1.5 .4 .4 .4 .2 .8-.4 .9-1.3 .8-2.1 1.2-4.7 1.6-8.6 3.2-23.5 6.9-60.9 2.9-22.3 1.6-10.3 1.6-8 1.6-5.1 .8-1.3 .4-.3 .5-.1 .8 .6 1.2 2.7 1.2 4.7 1.6 8.7 1.6 11.2 1.7 13 6.4 59.1 2.9 22.9 1.6 10.5 1.2 6.3 1.2 4.5 1.3 2.5 .4 .4 .8 0 .8-.8 .8-1.7 1.6-5.5 1.6-8.1 1.7-10.1 2-15 6.9-58.1 3.2-24.1 1.6-9.7 1.7-7.5 1.6-4.8 .8-1.2 .4-.4 .8 0 .4 .4 .8 1.5 .8 2.4 1.7 7.2 1.6 9.9 2.8 22.2 7.7 69.4 2.4 17.4 2.1 10.5 1.2 4 .8 1.6 .4 .5 .4 .1 .4 0 .4-.4 .8-1.3 1.2-3.5 1.3-5.3 1.2-6.7 1.6-10.9" stroke="#0a0ae6" stroke-width="3.2" fill="none" stroke-linejoin="round"/>
<path d="M133.4 2240.4l4.1 30.3 1.6 10.1 1.6 8.3 1.6 6 1.2 2.7 .8 .8 .4 .1 .9-.4 .8-1.2 1.2-3.2 1.2-4.7 1.2-6 1.6-9.7 2.5-17.2 6.5-50.6 3.2-20.9 1.6-7.7 1.6-5.4 .9-1.6 .8-.8 .4-.1 .8 .4 1.2 2.1 1.6 5.3 1.2 5.6 1.7 9.2 2.8 19.8 6.5 50.6 3.2 20.9 1.6 7.7 1.7 5.4 .8 1.6 .8 .8 .4 .1 .8-.4 1.2-2.1 1.6-5.3 1.3-5.6 1.6-9.2 2.8-19.8 6.5-50.6 3.2-20.9 1.7-7.7 1.2-4.3 .8-2 .8-1.2 .8-.4 .4 .1 .4 .3 .8 1.2 1.7 4.6 1.2 5.2 1.6 8.8 2.8 19.2 6.9 53.6 3.3 20.9 1.6 7.7 1.2 4.3 .8 2 .8 1.2 .8 .4 .4-.1 .4-.3 .9-1.2 1.6-4.6 1.2-5.2 1.6-8.8 2.8-19.2 6.9-53.6 3.3-20.9 1.6-7.7 1.2-4.3 .8-2 .8-1.2 .8-.4 .5 .1 .4 .3 .8 1.2 1.6 4.6 1.2 5.2 1.6 8.8 2.9 19.2 6.9 53.6 3.2 20.9 1.6 7.7 1.2 4.3 .8 2 .9 1.2 .8 .4 .4-.1 .4-.3 .8-1.2 1.6-4.6 1.2-5.2 1.6-8.8 2.9-19.2 6.9-53.6 3.2-20.9 1.6-7.7 1.3-4.3 .8-2 .8-1.2 .8-.4 .4 .1 .4 .3 .8 1.2 1.6 4.6 1.2 5.2 1.7 8.8 2.8 19.2 6.9 53.6 3.2 20.9 1.7 7.7 1.2 4.3 .8 2 .8 1.2 .8 .4 .4-.1 .4-.3 .8-1.2 1.7-4.6 1.2-5.2 1.6-8.8 2.8-19.2 6.9-53.6 3.3-20.9 1.6-7.7 1.2-4.3 1.2-2.7 .8-.8 .4-.1 .4 .2 .8 1.6 .9 3.1 .8 4.3 1.6 11.3 4.4 36.1 1.3 7.5 1.2 4.9 .8 1.5 .4 .1 .8-.1 2-1.2 4.1-3.8 1.6-1.1 1.6-.5 .8 .2 .8 .5 1.7 2 2 3.9 6.1 15.3 2 4.5 2 3.2 1.2 1.2 .9 .3 .8-.1 .4-.2 .8-.8 .8-1.2 1.6-3.8 1.6-5.2 3.3-13.4 7.3-34.8 1.6-6.7 1.6-5.6 1.6-4.4 1.7-2.8 .8-.7 .8-.2 .4 .1 .8 .7 1.2 2.2 1.6 4.8 1.3 4.9 1.6 7.7 2.8 16.4 6.9 44.4 3.2 17.6 1.7 6.7 1.6 4.9 .8 1.6 .8 1.1 .8 .5 .4-.1 .4-.2 .8-1.1 .9-1.9 .8-2.6 1.2-5.1 1.6-8.8 3.2-22.5 6.5-51.3 3.3-21.3 1.6-7.8 1.2-4.2 1.2-2.7 .8-.7 .4-.1 .8 .5 .9 1.1 1.6 4.4 1.6 6.6 1.6 8.6 3.3 21.5 7.3 54.7 3.2 20 1.6 7.6 1.2 4.3 .9 2.1 .8 1.5 .8 .8 .4 0 .4-.1 .8-.8 .8-1.6 .8-2.2 1.6-6.5 1.7-8.7 3.2-22.1 7.3-57.1 1.6-11 1.6-9.5 1.7-7.5 1.2-4.1 1.2-2.5 .8-.8 .4 0 .8 .4 .8 1.2 1.7 4.5 1.6 6.8 1.6 8.8 3.2 21.9 7.3 55.5 3.3 20 1.6 7.5 1.2 4.1 .8 2 .8 1.3 .8 .5 .5 0 .4-.2 .8-1.1 .8-1.8 .8-2.5 1.6-6.8 1.6-8.9 3.3-22.5 6.9-54.1 3.2-20.9 1.6-7.7 1.2-4.3 1.3-2.7 .8-.9 .4-.1 .8 .3 .8 1.1 1.6 4.3 1.6 6.7 1.7 8.8 3.2 22 6.9 52.9 2 13.6 1.6 9.1 1.7 7.2 1.2 3.8 1.2 2.4 .8 .6 .4 0 .8-1.3 1.2-5.1 2.1-15.3 2-21.3 4.5-52.4 2-19.7 1.2-8.7 .8-4.1 .8-2.5 .4-.6 .4-.2 .4 .5 .4 1 .8 3.5 .9 5.5 1.2 11.1 1.6 18.9 4 54 2.1 22.4 1.6 11.9 .8 3.2 .4 .8 .4 .1 .4-.2 .8-1.5 1.3-4.6 1.2-6.9 1.6-12.5 2.4-23.5 5.7-62.1 2.8-25.6 1.2-8.1 1.3-5.9 1.2-3.3 .4-.4 .4-.1 .4 .2 .8 1.4 1.2 4.4 1.2 6.7 1.3 8.7 2.8 26.3 6.1 67.6 2.8 27.5 1.6 12.2 1.2 6.8 1.3 4.5 .8 1.6 .4 .3 .4 0 .8-1 1.2-3.3 1.2-5.5 1.2-7.4 1.7-12.2 1.6-14.4 6.9-70.1 2.8-25.1 1.6-11.1 1.3-6.4 .8-3.2 .8-2.2 .8-1.1 .4-.2 .4 .2 .8 1.1 1.2 3.5 1.2 5.7 1.3 7.4 1.6 12.2 1.6 14.2 6.1 60.2 2.8 25.2 1.6 11.5 1.2 6.9 1.7 6.2 .8 1.6 .4 .4 .4 .2 .8-.5 .8-1.4 .8-2.3 1.2-4.9 1.7-8.9 3.2-24 6.9-61.5 2.8-22.2 1.7-10 1.2-6 1.6-5.3 .8-1.4 .4-.4 .4-.1 .8 .4 .8 1.4 .8 2.2 1.3 4.7 1.6 8.7 3.2 23.4 6.9 60.7 2.9 22.3 1.6 10.4 1.6 8.2 1.6 5.3 .8 1.5 .4 .4 .4 .1 .8-.4 .9-1.2 .8-2.1 1.2-4.6 1.6-8.5 3.2-23.1 7.3-63.7 2.9-21.7 1.6-10 1.2-5.9 1.6-5.5 1.3-1.9 .8-.2 .4 .2 .8 1.2 .8 2.1 1.2 4.6 1.6 8.6 1.7 10.8 1.6 12.6 6.5 57.3 2.8 22.8 1.6 10.7 1.2 6.5 1.7 6.4 1.2 2.7 .8 .6 .4 0 .8-.8 .8-1.6 1.6-5.7 1.7-8.4 1.6-10.7 1.6-12.5 6.9-60.5 2.8-22.3 1.6-10.4 1.3-6.3 1.6-6 1.2-2.3 .8-.5 .4 .1 .8 1 .8 1.8 1.7 6.1 1.6 8.8 3.2 23.9 6.1 54.2" stroke="#f00010" stroke-width="3.2" fill="none" stroke-linejoin="round"/>
<path d="M133.4 2175.4l1.2-3.7 .8-1.6 .8-.8 .8 0 .9 .8 .8 1.6 .8 2.4 1.2 4.7 2 10.7 2 13.3 7.3 56.5 2.9 19.2 1.6 8.8 1.6 6.6 .8 2.3 .8 1.6 .9 .8 .4 .1 .4-.1 .8-.8 .8-1.6 .8-2.4 1.6-6.6 1.6-8.8 2.9-19.2 7.3-56.5 1.6-10.9 1.6-9.2 1.6-7.2 1.7-4.6 .8-1.2 .8-.4 .4 .1 .8 .8 1.2 2.7 1.2 4.3 1.2 5.6 1.7 9.2 2.8 19.9 6.5 50.5 3.2 20.9 1.7 7.7 1.2 4.2 1.2 2.7 .8 .8 .4 .1 .4-.1 .8-.8 .8-1.6 .8-2.4 1.7-6.6 1.6-8.8 2.8-19.2 7.3-56.5 1.6-10.9 1.7-9.2 1.6-7.2 1.2-3.7 .8-1.6 .8-.8 .4-.1 .8 .4 1.2 2.1 1.7 5.4 1.2 5.6 1.6 9.2 2.8 19.9 6.5 50.5 3.3 20.9 1.6 7.7 1.2 4.2 1.2 2.7 .8 .8 .4 .1 .4-.1 .9-.8 .8-1.6 .8-2.4 1.6-6.6 1.6-8.8 2.9-19.2 7.3-56.5 1.6-10.9 1.6-9.2 1.6-7.2 1.2-3.7 1.3-2.1 .8-.4 .4 .1 .4 .3 .8 1.2 1.6 4.7 1.2 5.2 1.6 8.8 2.9 19.2 6.9 53.6 3.2 20.9 1.6 7.7 1.3 4.2 1.2 2.7 .8 .8 .4 .1 .4-.1 .8-.8 .8-1.6 .8-2.4 1.6-6.6 1.7-8.8 2.8-19.2 7.3-56.5 1.6-10.9 1.6-9.2 1.7-7.2 1.2-3.7 1.2-2.1 .8-.4 .4 .1 .4 .3 .8 1.2 1.6 4.7 1.3 5.2 1.6 8.8 2.8 19.2 6.9 53.6 3.3 20.9 1.6 7.7 1.2 4.2 1.2 2.7 .8 .8 .4 .1 .4-.1 .8-1 1.3-3.4 1.2-5.2 1.2-6.8 2.8-20.6 6.1-53.2 2.4-18.9 2.5-14.4 1.2-4.8 1.2-2.9 .8-.7 .4 .2 .8 4.2 1.2 13.4 2.5 34.2 .8 8.3 .8 4.2 .4 .2 .8-.4 .8-.9 .8-1.3 1.7-3.6 3.6-9.5 2-4 .8-.9 .9-.4 .8 .1 1.2 1.1 1.2 1.9 1.2 2.6 2.4 7.3 2.5 9.1 6.5 26.8 2.8 9.9 1.6 4.4 1.2 2.5 1.2 1.6 1.3 .8 .8-.1 .4-.3 .8-1 .8-1.5 1.2-3.4 1.6-6 3.3-16.3 6.9-42.2 3.2-17.6 1.6-7 1.7-5.3 1.6-3.4 .8-.8 .8-.2 .4 .2 .8 .9 .8 1.6 .8 2.3 1.7 6.4 1.6 8.4 3.2 21.3 6.9 51.4 3.3 19.9 1.6 7.5 1.2 4.1 1.2 2.7 .8 1 .4 .1 .8-.2 .8-1 .9-1.7 .8-2.4 1.6-6.4 1.6-8.6 3.3-21.5 7.3-55.6 2-13.4 1.6-9.2 1.6-7.2 1.2-4 .8-1.8 .9-1.2 .8-.4 .4 .2 .4 .3 .8 1.2 1.6 4.6 1.6 7.1 1.7 9.2 2.8 19.8 7.3 57.4 1.6 11.1 1.6 9.6 1.7 7.5 1.2 4.1 1.2 2.6 .8 .7 .4 .1 .8-.5 .8-1.2 1.6-4.5 1.7-6.8 1.6-8.9 3.2-22 7.3-55.9 3.3-20.1 1.6-7.5 1.2-4.2 .8-2 .8-1.3 .8-.5 .4 0 .4 .2 .9 1.1 .8 1.8 .8 2.5 1.6 6.9 1.6 9 3.3 22.6 6.9 54.4 3.2 21 1.6 7.8 1.2 4.3 1.2 2.7 .9 .9 .4 .2 .4-.1 .8-.7 .8-1.5 .8-2.3 1.2-4.5 1.6-8.2 3.3-21.4 6.5-51.3 2.4-17.7 2.8-16.4 1.3-5.1 1.2-3.7 1.2-2.1 .8-.5 .4 .2 .4 .5 .8 2 1.2 5.1 1.2 7.3 1.7 12.2 5.2 47.2 2.1 15.7 1.2 7.2 .8 3.7 1.2 3.4 .4 .5 .4 .2 .4-.3 .8-2.6 .8-4.9 .9-6.7 1.6-17.5 4-50.4 1.2-11.8 .9-5.8 .8-3.8 .4-1 .4-.4 7.3 0 .4 .3 .4 .7 1.2 4.6 1.2 8 1.2 10.7 2.1 22.4 5.2 66.4 2.5 24.8 1.2 8.7 .8 4.1 .8 2.5 .4 .6 .4 .2 .4-.3 .4-.6 1.2-3.8 1.3-6.6 1.2-8.9 2.8-27.6 6.1-72.2 2.4-25.4 1.6-13.6 1.3-7.7 1.2-5.1 .8-1.9 .4-.4 .4 0 .8 .9 1.2 3.6 1.2 6 1.3 8.1 2.8 25.2 6.5 71.3 2.8 27.5 1.6 12.4 1.2 7 .9 3.4 .8 2.4 .8 1.1 .4 .1 .4-.2 .8-1.2 1.2-3.8 1.2-5.9 1.3-7.7 1.6-12.5 1.6-14.6 6.1-61.6 2.8-25.6 1.6-11.6 1.2-6.9 .9-3.6 .8-2.5 .8-1.6 .4-.4 .4-.1 .8 .6 1.2 2.6 1.2 4.5 1.7 8.5 1.6 10.9 1.6 12.8 7.3 66.5 2.8 22.8 1.7 10.5 1.6 7.9 .8 2.9 .8 2.1 .8 1.1 .4 .2 .4 0 .8-.7 .8-1.7 .8-2.5 1.3-5.2 1.6-9.3 3.2-24.5 6.5-58.6 2.9-22.8 1.6-10.6 1.2-6.4 1.6-6.1 1.2-2.5 .8-.5 .4 .2 .9 .9 .8 1.9 1.2 4.4 1.6 8.4 1.6 10.8 1.6 12.7 6.9 62.1 2.9 22.7 1.6 10.5 1.6 8 .8 2.9 .8 2 .8 1.2 .5 .2 .4 0 .8-.7 1.2-2.7 1.2-4.4 1.6-8.1 1.6-10.4 1.7-12 7.3-62.8 3.2-24.5 1.6-9.6 1.6-7.3 .9-2.6 .8-1.8 .8-1 .4-.1 .4 .1 .8 .8 .8 1.8 .8 2.7 1.6 7.5 1.7 10.1 2.8 22.2 7.3 65.1 1.6 12.5 1.6 10.5 1.7 8.1 .8 2.9 .8 2.2 .8 1.2 .4 .3 .8-.2 .8-1.1 1.2-3.3 1.2-4.9 2.5-14.3 2.8-21.9 5.7-50.3 2.8-23 1.7-11 1.2-6.8 1.2-5.4 1.2-3.8" stroke="#18f018" stroke-width="3.2" fill="none" stroke-linejoin="round"/>
<path d="M133.4 2065.2V2403.5M132.1 2402.2H864M120.9 2402.2H133.4M120.9 2318.1H133.4M120.9 2233.9H133.4M120.9 2149.8H133.4M120.9 2065.7H133.4M126.4 2360.1H133.4M126.4 2276H133.4M126.4 2191.9H133.4M126.4 2107.8H133.4M133.4 2402.2V2414.7M255 2402.2V2414.7M376.6 2402.2V2414.7M498.2 2402.2V2414.7M619.8 2402.2V2414.7M741.4 2402.2V2414.7M863 2402.2V2414.7M194.2 2402.2V2409.2M315.8 2402.2V2409.2M437.4 2402.2V2409.2M559 2402.2V2409.2M680.6 2402.2V2409.2M802.2 2402.2V2409.2" stroke="#000" stroke-width="2.7" fill="none"/>
<text x="133.4" y="2438" font-size="21" text-anchor="middle" font-weight="bold" textLength="37.5" lengthAdjust="spacingAndGlyphs">0.00</text>
<text x="255" y="2438" font-size="21" text-anchor="middle" font-weight="bold" textLength="37.5" lengthAdjust="spacingAndGlyphs">0.05</text>
<text x="376.6" y="2438" font-size="21" text-anchor="middle" font-weight="bold" textLength="37.5" lengthAdjust="spacingAndGlyphs">0.10</text>
<text x="498.2" y="2438" font-size="21" text-anchor="middle" font-weight="bold" textLength="37.5" lengthAdjust="spacingAndGlyphs">0.15</text>
<text x="619.8" y="2438" font-size="21" text-anchor="middle" font-weight="bold" textLength="37.5" lengthAdjust="spacingAndGlyphs">0.20</text>
<text x="741.4" y="2438" font-size="21" text-anchor="middle" font-weight="bold" textLength="37.5" lengthAdjust="spacingAndGlyphs">0.25</text>
<text x="863" y="2438" font-size="21" text-anchor="middle" font-weight="bold" textLength="37.5" lengthAdjust="spacingAndGlyphs">0.30</text>
<text x="114.4" y="2407.7" font-size="21.8" text-anchor="end" font-weight="bold">&#8722;2</text>
<text x="114.4" y="2323.6" font-size="21.8" text-anchor="end" font-weight="bold">&#8722;1</text>
<text x="114.4" y="2239.4" font-size="21.8" text-anchor="end" font-weight="bold">0</text>
<text x="114.4" y="2155.3" font-size="21.8" text-anchor="end" font-weight="bold">1</text>
<text x="114.4" y="2071.2" font-size="21.8" text-anchor="end" font-weight="bold">2</text>
<text transform="translate(63.5 2220) rotate(-90)" text-anchor="middle" font-weight="bold" font-size="24.4" textLength="160" lengthAdjust="spacingAndGlyphs" x="0" y="0">Current (kA)</text>
<text x="434.3" y="2486.4" font-size="25" font-weight="bold" textLength="121.4" lengthAdjust="spacingAndGlyphs">Time (sec)</text>
<text x="428.3" y="2562" font-family="'Liberation Serif', 'Times New Roman', serif" font-size="43" textLength="48.4" lengthAdjust="spacingAndGlyphs">(<tspan font-weight="bold">g</tspan>)</text>
<rect x="504" y="2073.6" width="344.2" height="28" fill="#fff" stroke="#222" stroke-width="1.8"/>
<path d="M521.5 2087.9H569" stroke="#0a0ae6" stroke-width="3.4" stroke-linecap="round"/>
<path d="M597 2087.9H643.7" stroke="#f00010" stroke-width="3.4" stroke-linecap="round"/>
<path d="M671.4 2087.9H719.3" stroke="#18f018" stroke-width="3.4" stroke-linecap="round"/>
<text x="574.5" y="2094.5" font-size="21" font-weight="bold" font-style="italic">a</text>
<text x="650" y="2094.5" font-size="21" font-weight="bold" font-style="italic">b</text>
<text x="726.5" y="2094.5" font-size="21" font-weight="bold" textLength="104.7" lengthAdjust="spacingAndGlyphs"><tspan font-style="italic">c</tspan> (Average)</text>
<path d="M1242.6 1595.7V1940M1378.9 1595.7V1940M1515.2 1595.7V1940M1651.5 1595.7V1940M1787.8 1595.7V1940M1924.1 1595.7V1940M1106.3 1853.9H1924.1M1106.3 1767.8H1924.1M1106.3 1681.8H1924.1M1106.3 1595.7H1924.1" stroke="#979797" stroke-width="1.3" stroke-dasharray="1.6 2.7" fill="none"/>
<path d="M1106.3 1840.5l.4 26.1 .4-21 .5 10.7 .4-18.8 .4 10.2 .4-19.1 .4 9.9 .5-19.4 .4 9.6 .4-19.7 .4 9.4 .4-19.9 .5 9.2 .4-20.1 .4 9.1 .4-20.2 .4 9 .5-20.3 .4 9 .4-20.3 .4 8.9 .4-20.2 .5 9.1 .4-20.2 .4 9.2 .4-20 .4 9.3 .5-19.8 .4 9.6 .4-19.5 .4 9.8 .4-19.3 .5 10.2 .4-18.9 .4 10.5 .4-18.5 .4 23.3 .5-28.6 .4 27.9 .4-30 .4 26.7 .4-28.3 .5 28.1 .4-28.4 .4 28.6 .4-27.2 .4 29.7 .5-34.3 .4 32.2 .4-28.8 .4 32.3 .4-36.7 .5 36.3 .4-32.9 .4 35.7 .4-33.3 .4 32.5 .5-33.5 .4 28.6 .4-27.1 .4 28.2 .4-30.8 .5 29.9 .4-27.7 .4 30.9 .4-25.4 .4 18.5 .5-10.7 .4 18.9 .4-10.3 .4 19.2 .4-10 .5 19.5 .4-9.6 .4 19.7 .4-9.4 .4 20 .5-9.3 .4 20.2 .4-9.1 .4 20.2 .4-9 .5 20.3 .4-9 .4 20.3 .4-9 .4 20.3 .5-9.1 .4 20.1 .4-9.1 .4 20 .4-9.4 .5 19.8 .4-9.6 .4 19.5 .4-9.8 .4 19.2 .5-10.2 .4 18.9 .4-10.5 .4 18.5 .4-21.8 .5 28.7 .4-26.6 .4 25.4 .4-26.4 .4 30.2 .5-31.7 .4 30.5 .4-31.6 .4 32.9 .4-30.9 .5 33.2 .4-36 .4 33 .4-32.1 .4 33.8 .5-35.9 .4 36.9 .4-32.8 .4 33.9 .4-32.8 .5 29 .4-33.4 .4 31.4 .4-29.5 .4 28.3 .5-29.6 .4 31.9 .4-31.2 .4 24.5 .4-18.4 .5 10.6 .4-18.9 .4 10.3 .4-19.2 .4 9.9 .5-19.5 .4 9.6 .4-19.7 .4 9.4 .4-20 .5 9.2 .4-20.1 .4 9.1 .4-20.3 .4 9 .5-20.2 .4 8.9 .4-20.3 .4 9 .4-20.2 .5 9 .4-20.1 .4 9.2 .4-20 .4 9.4 .5-19.8 .4 9.6 .4-19.5 .4 9.9 .4-19.3 .5 10.2 .4-18.9 .4 10.6 .4-18.5 .4 25.7 .5-31.3 .4 30.1 .4-32.3 .4 31.5 .4-31.7 .5 33.4 .4-36.7 .4 34.2 .4-33.3 .4 30.5 .5-31.1 .4 35.1 .4-37.1 .4 38.3 .4-34 .5 31 .4-33.1 .4 30.6 .4-29.1 .4 30.1 .5-27.7 .4 27 .4-29.7 .4 30.2 .4-26.8 .5 28.6 .4-30.3 .4 28.1 .4-20.7 .4 18.4 .5-10.5 .4 18.8 .4-10.2 .4 19.2 .4-9.9 .5 19.5 .4-9.6 .4 19.8 .4-9.4 .4 19.9 .5-9.2 .4 20.2 .4-9.1 .4 20.2 .4-9 .5 20.3 .4-9 .4 20.3 .4-9 .4 20.3 .5-9.1 .4 20.1 .4-9.2 .4 20 .4-9.4 .5 19.8 .4-9.6 .4 19.5 .4-9.9 .4 19.2 .5-10.2 .4 18.9 .4-10.6 .4 18.5 .4-23.2 .5 29.4 .4-32.3 .4 34.6 .4-34.5 .4 32.7 .5-29.6 .4 30.7 .4-34 .4 37.9 .4-32.8 .5 28.6 .4-29.2 .4 29.7 .4-31.4 .4 33.5 .5-32 .4 28.4 .4-29.4 .4 31.2 .4-32.3 .5 35 .4-35.8 .4 32.7 .4-32.2 .4 32.1 .5-28.2 .4 28 .4-33 .4 25.2 .4-18.5 .5 10.5 .4-18.8 .4 10.2 .4-19.3 .4 9.9 .5-19.5 .4 9.6 .4-19.8 .4 9.4 .4-20 .5 9.2 .4-20.1 .4 9.1 .4-20.3 .4 9 .5-20.3 .4 9 .4-20.3 .4 9 .4-20.2 .5 9 .4-20.1 .4 9.2 .4-19.9 .4 9.4 .5-19.8 .4 9.6 .4-19.5 .4 9.9 .4-19.2 .5 10.3 .4-18.9 .4 10.6 .4-18.5 .4 26.5 .5-33.4 .4 30.1 .4-29.4 .4 27.4 .4-29.4 .5 29.1 .4-26.7 .4 27.7 .4-28.7 .4 29.6 .5-29.2 .4 26.9 .4-27.6 .4 28.3 .4-29.6 .5 29 .4-31.8 .4 35.9 .4-31.3 .4 28.8 .5-29.5 .4 30.3 .4-28.5 .4 31.8 .4-35.1 .5 32.5 .4-29.1 .4 26.5 .4-20.1 .5 18.5 .4-10.5 .4 18.9 .4-10.2 .4 19.2 .5-9.8 .4 19.5 .4-9.6 .4 19.8 .4-9.4 .5 20 .4-9.2 .4 20.2 .4-9.1 .4 20.2 .5-8.9 .4 20.2 .4-8.9 .4 20.3 .4-9 .5 20.2 .4-9.1 .4 20.1 .4-9.2 .4 20 .5-9.4 .4 19.7 .4-9.6 .4 19.5 .4-10 .5 19.2 .4-10.2 .4 18.8 .4-10.6 .4 18.4 .5-21.5 .4 26.2 .4-27.3 .4 30.5 .4-29.8 .5 26.7 .4-32.1 .4 35.4 .4-29.9 .4 30.5 .5-29.7 .4 29.9 .4-36.4 .4 38.6 .4-36.7 .5 33.1 .4-30.8 .4 30 .4-32.8 .4 34.6 .5-34.6 .4 32.9 .4-29.1 .4 30.9 .4-36.1 .5 35.3 .4-34.1 .4 32.7 .4-32.3 .4 24.2 .5-18.5 .4 10.5 .4-18.9 .4 10.2 .4-19.3 .5 9.9 .4-19.6 .4 9.6 .4-19.8 .4 9.3 .5-20 .4 9.2 .4-20.1 .4 9 .4-20.2 .5 9 .4-20.3 .4 9 .4-20.3 .4 9 .5-20.3 .4 9.1 .4-20.1 .4 9.2 .4-19.9 .5 9.4 .4-19.7 .4 9.6 .4-19.4 .4 9.9 .5-19.2 .4 10.3 .4-18.8 .4 10.6 .4-21.3 .5 27.6 .4-29.1 .4 25.8 .4-25.2 .4 26.9 .5-28.7 .4 31.5 .4-36 .4 34.3 .4-34.8 .5 38.6 .4-39.1 .4 34.8 .4-30.5 .4 29.5 .5-29.4 .4 29.3 .4-31.6 .4 36.4 .4-37.2 .5 34.3 .4-32.7 .4 34.9 .4-31.2 .4 30.2 .5-33.3 .4 34.2 .4-32.3 .4 30.2 .4-22 .5 18.5 .4-10.5 .4 19 .4-10.2 .4 19.3 .5-9.9 .4 19.6 .4-9.6 .4 19.8 .4-9.3 .5 20 .4-9.2 .4 20.2 .4-9.1 .4 20.3 .5-9 .4 20.3 .4-9 .4 20.3 .4-9 .5 20.2 .4-9.1 .4 20.1 .4-9.2 .4 19.9 .5-9.4 .4 19.7 .4-9.6 .4 19.4 .4-9.9 .5 19.1 .4-10.3 .4 18.8 .4-10.6 .4 20.8 .5-29.4 .4 31 .4-31.1 .4 35 .4-32.2 .5 30.3 .4-34.1 .4 36.5 .4-31.1 .4 28.2 .5-28.1 .4 33 .4-37.5 .4 33.1 .4-33.3 .5 38.3 .4-37.1 .4 33.1 .4-32.3 .4 30.7 .5-27.1 .4 31.1 .4-35.4 .4 32.3 .4-34.3 .5 33 .4-32.6 .4 33.1 .4-28.5 .4 19.7 .5-18.5 .4 10.5 .4-19 .4 10.1 .4-19.2 .5 9.8 .4-19.6 .4 9.6 .4-19.9 .4 9.4 .5-20 .4 9.1 .4-20.1 .4 9 .4-20.2 .5 8.9 .4-20.2 .4 8.9 .4-20.3 .4 9 .5-20.2 .4 9.1 .4-20.1 .4 9.3 .4-20 .5 9.5 .4-19.7 .4 9.7 .4-19.5 .4 10 .5-19.1 .4 10.3 .4-18.8 .4 10.7 .4-20.8 .5 26.3 .4-27.2 .4 29.2 .4-30.2 .4 29.1 .5-29.1 .4 32.4 .4-34.2 .4 31.1 .4-32.9 .5 36 .4-35.3 .4 35.4 .4-36 .4 33.3 .5-33.4 .4 29.9 .4-29.2 .4 30.3 .4-27.4 .5 31.7 .4-32.2 .4 29.9 .4-32.1 .4 32.7 .5-29.8 .4 29.5 .4-29.5 .4 31.4 .4-23.4 .5 18.6 .4-10.4 .4 18.9 .4-10.1 .4 19.3 .5-9.8 .4 19.6 .4-9.5 .4 19.8 .4-9.3 .5 20 .4-9.2 .4 20.2 .4-9.1 .4 20.3 .5-9 .4 20.3 .4-9 .4 20.3 .4-9 .5 20.2 .4-9.1 .4 20.1 .4-9.2 .4 19.9 .5-9.5 .4 19.7 .4-9.7 .4 19.5 .4-10 .5 19.1 .4-10.3 .4 18.7 .4-10.7 .4 19.9 .5-27.6 .4 29.1 .4-27.2 .4 30.6 .4-32.2 .5 32 .4-33.7 .4 36.3 .4-34.1 .4 33 .5-33.4 .4 33.1 .4-34.4 .4 34.1 .4-33 .5 33.1 .4-35.9 .4 37 .4-36.6 .4 37.5 .5-33.3 .4 30.6 .4-35.3 .4 35.9 .4-30.3 .5 26 .4-28.1 .4 27 .4-30.3 .4 6.9 .5-30.2 .4 18.4 .4-38.3 .4 15.6 .4-29.7 .5 19.7 .4-28 .4 17.5 .4-36.6 .4 20.2 .5-28.9 .4 23.2 .4-24.9 .4 25.7 .4-31.4 .5 23.2 .4-19.4 .4 22.7 .4-21.8 .4 18.8 .5-18.6 .4 23.6 .4-20.8 .4 19.2 .4-23.2 .5 18.1 .4-17 .4 22.8 .4-24.6 .4 19.3 .5-23.7 .4 30.5 .4-30.4 .4 24 .4-17.3 .5 16.6 .4-21.5 .4 23.7 .4-17.5 .4 19 .5-26.4 .4 30.1 .4-24 .4 17.7 .4-23.9 .5 27.9 .4 11.2 .4 21.2 .4-15.1 .4 20.8 .5-24.3 .4 18.5 .4-23.4 .4 28.7 .4-27.4 .5 22.2 .4-22.7 .4 22.5 .4-22.6 .4 26.3 .5-21.3 .4 22.2 .4-27.8 .4 25.1 .4-17.5 .5 20 .4-21.1 .4 17.1 .4-16.3 .4 15.8 .5-16.2 .4 18.6 .4-19.6 .4 23.9 .4-23.7 .5 21.2 .4-20.2 .4 18.8 .4-17.3 .4 16.3 .5-16.2 .4 20.8 .4-25.9 .4 20.8 .4-20.1 .5 27.1 .4-23.6 .4 22.5 .4-25.6 .4 22.6 .5-26.4 .4 25.4 .4-22.3 .4 25.1 .4-29.6 .5 26.3 .4-24.9 .4 28.4 .4-26.5 .4 23.6 .5-20.9 .4 17.6 .4-15.5 .4 15.6 .4-21.4 .5 23.2 .4-17.7 .4 16.1 .4-22.6 .4 30 .5-28.3 .4 22.7 .4-18.7 .4 18.8 .4-57.9 .5 19.7 .4-19.5 .4 20.5 .4-25.4 .4 32.1 .5-28.2 .4 21.3 .4-25.3 .4 25.9 .4-20.1 .5 17.2 .4-17.4 .4 21.9 .4-23.1 .4 20.5 .5-20.5 .4 18.6 .4-16.3 .4 17.1 .4-18.4 .5 18 .4-14.4 .4 16.8 .4-18.8 .4 21.5 .5-24.3 .4 25.9 .4-27.1 .4 26.7 .4-28.8 .5 25.8 .4-20.6 .4 26.2 .4-24.5 .4 22 .5-26.7 .4 20.3 .4-22.1 .4 30.1 .4-28.1 .5 26.6 .4-28.4 .4 22.8 .4-20.1 .4 23.5 .5-26.4 .4 29.3 .4-29.2 .4 27.1 .4-27.8 .5 28.7 .4-26.8 .4 22.5 .4-16.2 .4 15.3 .5-18.4 .4 18.2 .4-22.7 .4 27 .4-25.1 .5 25.7 .4-26.2 .4 24.9 .4 18.6 .4 21.3 .5-28.4 .4 25.6 .4-23.6 .4 25.1 .4-20.6 .5 21.4 .4-23.2 .4 16.9 .4-17 .4 23.2 .5-22.6 .4 22.7 .4-30 .4 27.7 .4-22.1 .5 21.9 .4-24.8 .4 27.5 .4-26.8 .4 25.7 .5-20.6 .4 15.9 .4-17.6 .4 23.2 .4-23.7 .5 22.1 .4-19.3 .4 14.4 .4-16.8 .4 22.6 .5-26.7 .4 26.8 .4-23 .4 21.5 .4-23.1 .5 22.6 .4-19.3 .4 23.3 .4-24.1 .4 24.9 .5-31.9 .4 22.8 .4-18.2 .4 25.8 .4-30.7 .5 27.2 .4-20.5 .4 18.3 .4-24.8 .4 24.8 .5-21.3 .4 20.6 .4-20.1 .4 27.8 .4-24.1 .5 22.8 .4-26.3 .4 27 .4-28.9 .4 22.7 .5-24.5 .4 26.9 .4-18.6 .4 14 .4-18.5 .5 22.7 .4-57.9 .4 18 .4-18.4 .4 20.1 .5-24.8 .4 21.8 .4-20.9 .4 28.8 .4-22.8 .5 23.6 .4-29.3 .4 29.1 .4-25.1 .4 20.1 .5-21 .4 26.9 .4-28.8 .4 22.8 .4-21.3 .5 20.5 .4-16.9 .4 15.2 .4-22.6 .4 24.4 .5-25.4 .4 25 .4-18.6 .4 21.1 .4-20.4 .5 19.1 .4-26.4 .4 31.2 .4-29.8 .4 27.4 .5-28.4 .4 31.4 .4-27.9 .4 25.8 .4-21.1 .5 21.2 .4-25 .4 25.2 .4-27 .4 22.6 .5-17 .4 23 .4-23.7 .4 19.4 .4-21.5 .5 19.9 .4-23.6 .4 30 .4-25.5 .4 22.5 .5-22.9 .4 21.9 .4-22.7 .4 19 .4-16.8 .5 17.2 .4-24.3 .4 27.1 .4-20.6 .4 24.4 .5 5.3 .4 27.4 .4-19.3 .4 16.9 .4-16.5 .5 17.9 .4-17.9 .4 16.9 .4-18.4 .4 21.6 .5-27.6 .4 29.3 .4-24.8 .4 21.6 .5-22.7 .4 22.3 .4-20.5 .4 17.6 .4-17 .5 25.5 .4-24.1 .4 19.7 .4-24.5 .4 27.9 .5-23.9 .4 18.3 .4-18.6 .4 19.9 .4-21.8 .5 27 .4-30.8 .4 30 .4-22.2 .4 14.3 .5-20.8 .4 29 .4-26.8 .4 23.8 .4-19.3 .5 17.5 .4-26.3 .4 30.4 .4-29.7 .4 31.1 .5-25.3 .4 17.1 .4-16.3 .4 20.2 .4-25.2 .5 29.2 .4-29.5 .4 26.7 .4-27.1 .4 25.3 .5-23.3 .4 19.3 .4-21.5 .4 23.4 .4-24.7 .5 28.6 .4-22.8 .4 17.9 .4-17.4 .4 22.2 .5-26.4 .4 21.4 .4-15.5 .4 19.4 .4-61.2 .5 22.9 .4-19.5 .4 21.6 .4-19.6 .4 16.7 .5-21 .4 27.2 .4-28.9 .4 28.2 .4-26.6 .5 20.5 .4-18.3 .4 25.2 .4-29.6 .4 23.4 .5-16.9 .4 18.7 .4-24.9 .4 24.1 .4-20.1 .5 22.5 .4-28.9 .4 24.7 .4-16.2 .4 17.3 .5-21 .4 24.2 .4-22.1 .4 23.2 .4-28.3 .5 25.5 .4-20.5 .4 24.9 .4-25.9 .4 24.5 .5-23.7 .4 18.1 .4-23.1 .4 23.8 .4-25.6 .5 27.5 .4-20.3 .4 17.7 .4-19.9 .4 24.1 .5-29.1 .4 24.1 .4-18.8 .4 19.5 .4-25 .5 24.3 .4-15.6 .4 14.8 .4-18 .4 26 .5-30.7 .4 29.1 .4-30.2 .4 32.1 .4-25.7 .5 18.6 .4-24.4 .4 66.7 .4-21.1 .4 20.4 .5-23.7 .4 20.9 .4-20.4 .4 18.5 .4-15.4 .5 16.4 .4-19.7 .4 26.1 .4-24 .4 24.1 .5-24.9 .4 19.2 .4-25 .4 29.4 .4-25.7 .5 18.3 .4-18.7 .4 21.8 .4-26 .4 24.3 .5-19 .4 25.7 .4-22.6 .4 18 .4-25.4 .5 28.7 .4-21.4 .4 14.5 .4-14.7 .4 23.1 .5-24.9 .4 23.3 .4-29.4 .4 25.5 .4-19.6 .5 25.4 .4-28.6 .4 22.1 .4-23.1 .4 23.6 .5-19.4 .4 16.4 .4-21 .4 29.7 .4-28.5 .5 28.7 .4-22.9 .4 16.2 .4-20.5 .4 27.3 .5-31.8 .4 26.4 .4-19.8 .4 20.2 .4-22.5 .5 27.3 .4-24.3 .4 23.1 .4-28.4 .4 28.6 .5-28.9 .4 26.8 .4-22.6 .4 19.9 .4-20.2 .5 24.6 .4-59 .4 16.4 .4-22.7 .4 23.2 .5-16.7 .4 14.7 .4-19.3 .4 22 .4-26.1 .5 31.4 .4-31.5 .4 25.7 .4-17.1 .4 15.5 .5-19.4 .4 25.2 .4-24.7 .4 20.2 .4-20 .5 23.6 .4-26 .4 27.2 .4-28.8 .4 28.1 .5-21.3 .4 22.9 .4-24.5 .4 21.9 .4-22.6 .5 24.3 .4-22.7 .4 18 .4-18.4 .4 17.5 .5-23.6 .4 27.6 .4-22.3 .4 20.6 .4-26.9 .5 28 .4-20.8 .4 23.6 .4-27.6 .4 29.3 .5-24.1 .4 19.3 .4-26.1 .4 29.5 .4-30.4 .5 22.8 .4-16.9 .4 17.7 .4-16.7 .4 24.8 .5-28.5 .4 28.1 .4-26.1 .4 25.5 .4-26.3 .5 20.5 .4-23.6 .4 30.1 .4-23.7 .4 57.4 .5-25.3 .4 21.7 .4-19.3 .4 18.6 .4-17 .5 18.1 .4-21.9 .4 25.6 .4-21.8 .4 15.8 .5-17 .4 23.3 .4-21.9 .4 18.4 .4-18.6 .5 23.2 .4-26.5 .4 19.6 .4-15.4 .4 18.5 .5-22.7 .4 25 .4-20.7 .4 16.2 .4-21.9 .5 24.3 .4-20.4 .4 19.4 .4-25.7 .4 25.7 .5-22.1 .4 22.6 .4-21.1 .4 25.9 .4-31.4 .5 26.6 .4-19.1 .4 22.6 .4-22.6 .4 15.7 .5-22.3 .4 26.3 .4-25.6 .4 25.4 .4-26 .5 26.5 .4-19.6 .4 15.4 .4-19.1 .4 25 .5-28.4 .4 23.2 .4-20.5 .4 23.2 .4-22.1 .5 20 .4-17.9 .4 21.4 .4-27.5 .4 23.6 .5-19.4 .4 26 .4-30.6 .4 24.8 .4-16.8 .5 23.9 .4-31.9 .4-9.5 .4-18.8 .4 23 .5-26.2 .4 26 .4-28.2 .4 20.3 .4-14.1 .5 15.5 .4-13.5 .4 16 .4-13.2 .4 16.2 .5-13.1 .4 16.1 .4-13.3 .4 15.8 .4-13.7 .5 15.1 .4-14.5 .4 14.3 .4-15.5 .4 13.1 .5-16.8 .4 11.8 .4-18.3 .4 10.1 .4-20.1 .5 8.7 .4-20.1 .4 9.3 .4-19.9 .4 9.5 .5-19.6 .4 9.7 .4-19.3 .4 10 .4-19 .5 10.4 .4-18.7 .4 10.8 .4-21.4 .4 27.9 .5-29 .4 29.4 .4-28.6 .4 32.9 .4-35.9 .5 31.3 .4-28.6 .4 30.1 .4-32.2 .4 32.1 .5-30 .4 29.1 .4-32.8 .4 37.2 .4-33 .5 30.7 .4-34.7 .4 31.1 .4-31 .4 31.6 .5-29.6 .4 32.6 .4-31.9 .4 30.2 .4-28.3 .5 30.2 .4-29.2 .4 20 .4-10.8 .4 18.7 .5-10.4 .4 19.1 .4-10.1 .4 19.4 .4-9.7 .5 19.6 .4-9.5 .4 19.9 .4-9.3 .4 20.1 .5-9.1 .4 20.2 .4-9.1 .4 20.3 .4-9 .5 20.3 .4-8.9 .4 20.2 .4-9 .4 20.2 .5-9.2 .4 20.1 .4-9.3 .4 19.9 .4-9.5 .5 19.6 .4-9.8 .4 19.4 .4-10.1 .4 19.1 .5-10.5 .4 18.7 .4-10.8 .4 20.4 .4-29.2 .5 29.4 .4-26.5 .4 28.3 .4-31.5 .4 30.2 .5-32.1 .4 35.7 .4-33.6 .4 30.6 .4-30.7 .5 30.5 .4-28.1 .4 30.1 .4-29.9 .4 29.9 .5-32.8 .4 30.2 .4-31 .4 30.9 .4-31.6 .5 34.7 .4-33.2 .4 28.8 .4-28.7 .4 29.4 .5-32.5 .4 30.5 .4-19.1 .4 10.7 .4-18.7 .5 10.4 .4-19.1 .4 10 .4-19.4 .4 9.7 .5-19.6 .4 9.5 .4-19.9 .4 9.2 .4-20 .5 9.1 .4-20.2 .4 9 .4-20.3 .4 9 .5-20.3 .4 9 .4-20.3 .4 9 .4-20.1 .5 9.1 .4-20 .4 9.3 .4-19.9 .4 9.5 .5-19.6 .4 9.8 .4-19.4 .4 10.1 .4-19 .5 10.4 .4-18.6 .4 10.8 .4-20.8 .4 33.8 .5-34.5 .4 33.3 .4-31.7 .4 32.8 .4-35 .5 34.9 .4-37.9 .4 32.4 .4-32.2 .4 37.5 .5-33.5 .4 29.5 .4-33.7 .4 32.4 .4-33.1 .5 33.9 .4-33.1 .4 32.2 .4-29.9 .4 35.2 .5-33 .4 28.5 .4-29.3 .4 29.7 .4-26.7 .5 25.7 .4-25.3 .4 19.6 .4-10.7 .4 18.7 .5-10.3 .4 19.1 .4-10 .4 19.4 .4-9.7 .5 19.6 .4-9.4 .4 19.9 .4-9.3 .4 20.1 .5-9.1 .4 20.2 .4-9 .4 20.2 .4-8.9 .5 20.3 .4-9 .4 20.3 .4-9.1 .4 20.2 .5-9.2 .4 20.1 .4-9.3 .4 19.8 .4-9.5 .5 19.6 .4-9.8 .4 19.3 .4-10.1 .4 19 .5-10.4 .4 18.6 .4-23.8 .4 32.8 .4-32.5 .5 31.4 .4-30.7 .4 31.2 .4-29.4 .4 32.8 .5-31.6 .4 33.5 .4-34.9 .4 33.7 .4-35.9 .5 33.3 .4-34.1 .4 37.3 .4-33.2 .4 34.1 .5-33.2 .4 34 .4-36.1 .4 32 .4-33.3 .5 33.1 .4-29.1 .4 29.8 .4-28.9 .4 28.1 .5-29.5 .4 27.5 .4-21.7 .4 10.7 .4-18.7 .5 10.3 .4-19.1 .4 10 .4-19.5 .4 9.7 .5-19.6 .4 9.4 .4-19.9 .4 9.2 .4-20 .5 9.1 .4-20.2 .4 9 .4-20.3 .4 9 .5-20.3 .4 8.9 .4-20.2 .4 9 .4-20.1 .5 9.1 .4-20 .4 9.3 .4-19.8 .4 9.5 .5-19.6 .4 9.8 .4-19.3 .4 10.1 .4-18.9 .5 10.4 .4-18.6 .4 24.5 .4-32.8 .4 30.6 .5-30.5 .4 26 .4-25.4 .4 26.4 .4-30.1 .5 32 .4-32 .4 35.2 .4-33.4 .4 28.8 .5-32.1 .4 30.7 .4-26.8 .4 29.1 .4-29.7 .5 29.7 .4-30.1 .4 31.7 .4-33.3 .4 30.7 .5-30.2 .4 32 .4-28.8 .4 32 .4-31.7 .5 26.3 .4-24.7 .4 20 .4-10.7 .5 18.8 .4-10.3 .4 19.1 .4-10 .4 19.4 .5-9.6 .4 19.7 .4-9.5 .4 19.9 .4-9.2 .5 20.1 .4-9.1 .4 20.2 .4-9 .4 20.3 .5-9 .4 20.3 .4-9 .4 20.3 .4-9.1 .5 20.2 .4-9.2 .4 20 .4-9.3 .4 19.8 .5-9.5 .4 19.6 .4-9.9 .4 19.3 .4-10.1 .5 19 .4-10.5 .4 18.6 .4-22.6 .4 31.7 .5-32.7 .4 31.8 .4-28.2 .4 27.1 .4-29.7 .5 33.2 .4-31.2 .4 32.3 .4-32.9 .4 35 .5-37 .4 33.2 .4-34.4 .4 33.2 .4-30.6 .5 32.6 .4-30.6 .4 28.3 .4-32 .4 31.4 .5-29.9 .4 34.2 .4-31.3 .4 26.8 .4-30.1 .5 30.5 .4-30.7 .4 30.7 .4-23 .4 10.7 .5-18.8 .4 10.3 .4-19.1 .4 9.9 .4-19.4 .5 9.6 .4-19.7 .4 9.5 .4-20 .4 9.3 .5-20.1 .4 9.1 .4-20.3 .4 9 .4-20.2 .5 8.9 .4-20.3 .4 9 .4-20.2 .4 9 .5-20.1 .4 9.1 .4-20 .4 9.4 .4-19.8 .5 9.5 .4-19.6 .4 9.9 .4-19.3 .4 10.2 .5-19 .4 10.5 .4-18.6 .4 19.8 .4-26.3 .5 27.1 .4-26.8 .4 30.9 .4-35.3 .4 34.1 .5-30.8 .4 31.7 .4-36.3 .4 33.7 .4-34.1 .5 34 .4-31.1 .4 28.7 .4-28.8 .4 28.3 .5-28.8 .4 33.7 .4-35.5 .4 36.2 .4-35.7 .5 31.7 .4-30.2 .4 31.4 .4-31.6 .4 32.2 .5-28.9 .4 29.7 .4-31.2 .4 23.9 .4-10.7 .5 18.8 .4-10.3 .4 19.2 .4-9.9 .4 19.4 .5-9.6 .4 19.7 .4-9.4 .4 19.9 .4-9.2 .5 20.1 .4-9.1 .4 20.2 .4-9 .4 20.3 .5-9 .4 20.3 .4-9 .4 20.3 .4-9.1 .5 20.2 .4-9.2 .4 20 .4-9.3 .4 19.8 .5-9.6 .4 19.5 .4-9.8 .4 19.3 .4-10.2 .5 18.9 .4-10.5 .4 18.5 .4-20.4 .4 28.9 .5-27.5 .4 25.9 .4-27.4 .4 30.7 .4-35.6 .5 36.4 .4-32.1 .4 33.5 .4-33.5 .4 30.2 .5-34.2 .4 36.7 .4-35.2 .4 35.4 .4-37.4 .5 36.1 .4-35.1 .4 36.1 .4-36.3 .4 34.3 .5-33.4 .4 33.4 .4-30.5 .4 27.9 .4-30.1 .5 28.7 .4-30.6 .4 27.2 .4-18.4 .4 10.6 .5-18.8 .4 10.2 .4-19.2 .4 10 .4-19.5 .5 9.6 .4-19.7 .4 9.4 .4-19.9 .4 9.2 .5-20.1 .4 9 .4-20.2 .4 9 .4-20.3 .5 9 .4-20.3 .4 9 .4-20.3 .4 9.1 .5-20.1 .4 9.2 .4-20 .4 9.3 .4-19.8 .5 9.6 .4-19.5 .4 9.8 .4-19.2 .4 10.2 .5-18.9 .4 10.5 .4-18.5 .4 20.3 .4-25 .5 24.7 .4-29.7 .4 31.3 .4-28.4 .4 26.3 .5-26.3 .4 30.8 .4-34.6 .4 34.7 .4-35.7 .5 31.3 .4-30.6 .4 32.7 .4-34.1 .4 37.2 .5-37.5 .4 32.3 .4-31.7 .4 37.6 .4-37.4 .5 31.8 .4-27.2 .4 27.2 .4-25.7 .4 30.8 .5-33.3 .4 31.8 .4-24.9 .4 18.4 .4-10.6 .5 18.9 .4-10.3 .4 19.2 .4-9.9 .4 19.5 .5-9.6 .4 19.7 .4-9.4 .4 20 .4-9.2 .5 20.1 .4-9.1 .4 20.2 .4-9 .4 20.3 .5-8.9 .4 20.3 .4-9 .4 20.2 .4-9.1 .5 20.2 .4-9.2 .4 20 .4-9.4 .4 19.8 .5-9.6 .4 19.5 .4-9.9 .4 19.3 .4-10.2 .5 18.9 .4-10.6 .4 18.5 .4-25.3 .4 32.2 .5-28.5 .4 27.1 .4-25.8 .4 29.8 .4-30.6 .5 29 .4-30.5 .4 29.3 .4-28.1 .4 29.9 .5-33.1 .4 33.8 .4-31.1 .4 34.7 .4-35.9 .5 35 .4-35.8 .4 30.7 .4-29.3 .4 31.1 .5-33.6 .4 32.5 .4-32 .4 32.1 .4-28.8 .5 29.1 .4-28.2 .4 20.9" stroke="#0a0ae6" stroke-width="2.8" fill="none" stroke-linejoin="round"/>
<path d="M1106.3 1775.2l.4 20.2 .4-9 .5 20.1 .4-9.2 .4 19.9 .4-9.4 .4 19.8 .5-9.6 .4 19.5 .4-10 .4 19.2 .4-10.2 .5 18.9 .4-10.6 .4 18.4 .4-26.1 .4 30.4 .5-24.8 .4 25.7 .4-30.9 .4 35.6 .4-30.4 .5 28.6 .4-31.9 .4 34.2 .4-32.1 .4 30.7 .5-31.9 .4 34.1 .4-33.5 .4 34.2 .4-34.3 .5 29.7 .4-32.6 .4 33.9 .4-29.8 .4 30 .5-29.8 .4 29.8 .4-34.1 .4 33.1 .4-32.6 .5 29.7 .4-28.1 .4 22.1 .4-18.5 .4 10.5 .5-18.9 .4 10.2 .4-19.2 .4 9.9 .4-19.6 .5 9.6 .4-19.8 .4 9.4 .4-20 .4 9.2 .5-20.2 .4 9.1 .4-20.2 .4 8.9 .4-20.2 .5 8.9 .4-20.3 .4 9 .4-20.2 .4 9.1 .5-20.1 .4 9.2 .4-20 .4 9.4 .4-19.7 .5 9.6 .4-19.4 .4 9.9 .4-19.2 .4 10.3 .5-18.9 .4 10.7 .4-18.5 .4 23.6 .4-30.5 .5 28.4 .4-29.6 .4 29.1 .4-26.6 .4 28.3 .5-32.7 .4 34.3 .4-31.9 .4 34.6 .4-34.1 .5 31.1 .4-33 .4 35.1 .4-36.4 .4 35.6 .5-33 .4 30.8 .4-29.3 .4 32.9 .4-35.2 .5 34.5 .4-31.3 .4 29.2 .4-31.2 .4 32.2 .5-28.4 .4 27.5 .4-22.1 .4 18.5 .4-10.5 .5 18.9 .4-10.2 .4 19.3 .4-9.9 .4 19.6 .5-9.6 .4 19.8 .4-9.4 .4 20 .4-9.1 .5 20.1 .4-9 .4 20.2 .4-9 .4 20.3 .5-9 .4 20.3 .4-9 .4 20.2 .4-9 .5 20.1 .4-9.3 .4 20 .4-9.4 .4 19.7 .5-9.7 .4 19.5 .4-9.9 .4 19.1 .4-10.2 .5 18.8 .4-10.7 .4 23.7 .4-28.1 .4 26.5 .5-26.9 .4 30.2 .4-34 .4 32.1 .4-27.3 .5 28.4 .4-29.6 .4 31.6 .4-30.5 .4 29.7 .5-29.9 .4 33.9 .4-37.6 .4 32.3 .4-33.9 .5 33.7 .4-29.7 .4 34.4 .4-37.2 .4 35.2 .5-32.8 .4 29.3 .4-30.7 .4 29.5 .4-26.5 .5 26.8 .4-25.6 .4 18.9 .4-18.6 .4 10.5 .5-18.9 .4 10.1 .4-19.3 .4 9.9 .4-19.6 .5 9.6 .4-19.8 .4 9.3 .4-20 .4 9.2 .5-20.2 .4 9.1 .4-20.3 .4 9 .4-20.3 .5 9 .4-20.3 .4 9 .4-20.2 .4 9.1 .5-20.1 .4 9.2 .4-19.9 .4 9.4 .4-19.7 .5 9.7 .4-19.5 .4 10 .4-19.2 .4 10.3 .5-18.8 .4 10.7 .4-21.6 .4 30.2 .4-32.5 .5 30.5 .4-31.3 .4 31.1 .4-29.5 .4 30.4 .5-32.3 .4 33.3 .4-36.7 .4 34.5 .4-32.9 .5 35.1 .4-34.3 .4 30.7 .4-32.5 .4 37 .5-37.1 .4 35.9 .4-35.9 .4 35.7 .4-33.9 .5 32.4 .4-29.9 .4 31.1 .4-29.3 .4 27.9 .5-29.8 .4 31.8 .4-23.2 .4 18.6 .4-10.5 .5 19 .4-10.2 .4 19.3 .4-9.8 .4 19.6 .5-9.6 .4 19.9 .4-9.4 .4 20 .4-9.1 .5 20.1 .4-9 .4 20.2 .4-9 .4 20.3 .5-8.9 .4 20.3 .4-9.1 .4 20.3 .4-9.1 .5 20.1 .4-9.3 .4 19.9 .4-9.4 .4 19.7 .5-9.7 .4 19.5 .4-10 .4 19.1 .4-10.3 .5 18.8 .4-10.7 .4 22.1 .4-27.4 .4 27.7 .5-29.1 .4 31 .4-30.7 .4 31.9 .4-35.5 .5 33.4 .4-31.5 .4 35.4 .4-33.5 .4 32.1 .5-36.2 .4 33.6 .4-30.6 .4 31.3 .4-32.9 .5 37.3 .4-35.5 .4 30.3 .4-30.7 .4 32.6 .5-33.6 .4 32.7 .4-32.2 .4 32.7 .4-31.9 .5 29 .4-31.9 .4 24.4 .4-18.6 .4 10.5 .5-19 .4 10.1 .4-19.3 .4 9.8 .4-19.6 .5 9.6 .4-19.9 .4 9.4 .4-20.1 .4 9.2 .5-20.2 .4 9.1 .4-20.3 .4 9 .4-20.3 .5 9 .4-20.3 .4 9 .4-20.2 .5 9.1 .4-20.1 .4 9.3 .4-20 .4 9.5 .5-19.7 .4 9.7 .4-19.4 .4 9.9 .4-19.1 .5 10.4 .4-18.8 .4 10.7 .4-20.2 .4 28.9 .5-30.6 .4 31.1 .4-30.8 .4 32.3 .4-34.1 .5 27.8 .4-28 .4 30.3 .4-29.2 .4 29.3 .5-31.9 .4 33.9 .4-33.6 .4 30.6 .4-29.8 .5 33.1 .4-37.1 .4 35.6 .4-31 .4 32.9 .5-33.4 .4 29.3 .4-27.2 .4 31.1 .4-33.5 .5 32.5 .4-29.9 .4 29.4 .4-21.3 .4 18.6 .5-10.4 .4 19 .4-10.1 .4 19.3 .4-9.8 .5 19.6 .4-9.5 .4 19.8 .4-9.3 .4 20 .5-9.1 .4 20.1 .4-9 .4 20.3 .4-9 .5 20.3 .4-9 .4 20.3 .4-9 .4 20.2 .5-9.1 .4 20 .4-9.2 .4 19.9 .4-9.5 .5 19.7 .4-9.7 .4 19.4 .4-10 .4 19.1 .5-10.3 .4 18.7 .4-10.7 .4 19.9 .4-30.9 .5 32.4 .4-30.2 .4 33.4 .4-34.6 .4 33.7 .5-30.1 .4 31.1 .4-29.9 .4 32.1 .4-33.7 .5 34.1 .4-33.5 .4 30.8 .4-30.7 .4 30.9 .5-30.4 .4 27.7 .4-31.4 .4 32.7 .4-29.5 .5 29 .4-30.6 .4 30.6 .4-31.7 .4 31.8 .5-29.9 .4 29.8 .4-21 .4 10.8 .4-18.6 .5 10.4 .4-19 .4 10.1 .4-19.4 .4 9.8 .5-19.6 .4 9.5 .4-19.8 .4 9.3 .4-20.1 .5 9.2 .4-20.2 .4 9 .4-20.2 .4 9 .5-20.3 .4 8.9 .4-20.2 .4 9 .4-20.2 .5 9.1 .4-20.1 .4 9.3 .4-19.9 .4 9.5 .5-19.7 .4 9.7 .4-19.4 .4 10 .4-19 .5 10.3 .4-18.7 .4 10.7 .4-21.9 .4 27.1 .5-28.3 .4 34.1 .4-35 .4 29.7 .4-30.9 .5 34.3 .4-30.5 .4 26.2 .4-32 .4 36.5 .5-32.6 .4 28.8 .4-28.3 .4 29.2 .4-32.9 .5 33.7 .4-29.8 .4 33.6 .4-36.8 .4 31.7 .5-31.5 .4 34.6 .4-33.2 .4 33.6 .4-33 .5 33.8 .4-32.3 .4 21 .4-10.8 .4 18.6 .5-10.4 .4 19.1 .4-10.1 .4 19.3 .4-9.7 .5 19.6 .4-9.5 .4 19.9 .4-9.3 .4 20 .5-9.1 .4 20.2 .4-9.1 .4 20.3 .4-9 .5 20.3 .4-9 .4 20.3 .4-9 .4 20.2 .5-9.1 .4 20 .4-9.3 .4 19.9 .4-9.5 .5 19.7 .4-9.7 .4 19.3 .4-10 .4 19.1 .5-10.4 .4 18.7 .4-10.8 .4 19.2 .4-29 .5 31.4 .4-31.8 .4 32.3 .4-33.2 .4 34.6 .5-30.4 .4 29.2 .4-28.3 .4 30.2 .4-29.7 .5 29.8 .4-30.4 .4 30.7 .4-33.1 .4 33.3 .5-35.8 .4 32.4 .4-32.3 .4 34.6 .4-32.6 .5 33 .4-35 .4 32.7 .4-29.7 .4 31.4 .5-29.1 .4 26.6 .4-20.6 .4 10.8 .4-18.7 .5 10.4 .4-19 .4 10.1 .4-19.4 .4 9.7 .5-19.6 .4 9.5 .4-19.9 .4 9.3 .4-20.1 .5 9.2 .4-20.2 .4 9 .4-20.3 .4 9 .5-20.3 .4 9 .4-20.3 .4 9.1 .4-20.2 .5 9.1 .4-20.1 .4 9.3 .4-19.9 .4 9.5 .5-19.6 .4 9.8 .4-19.4 .4 10 .4-19 .5 10.4 .4-18.7 .4 10.8 .4-20.5 .4 26.2 .5-27.3 .4 31.8 .4-34.4 .4 31.9 .4-33.1 .5 34.4 .4-32.4 .4 35 .4-32.8 .4 31.6 .5-35.3 .4 32.7 .4-34.2 .4 34.4 .4-32 .5 33.1 .4-34.5 .4 32.3 .4-30 .4 31.5 .5-31.5 .4 34.3 .4-32.2 .4 32.2 .4-31.8 .5 29.5 .4-28 .4 19.4 .4-10.7 .4 18.7 .5-10.4 .4 19.1 .4-10.1 .4 19.4 .4-9.7 .5 19.6 .4-9.5 .4 19.9 .4-9.3 .4 20.1 .5-9.1 .4 20.2 .4-9.1 .4 20.3 .4-9 .5 20.3 .4-8.9 .4 20.2 .4-8.9 .4 29.8 .5-27.9 .4 28 .4-24.6 .4 19.1 .4-21.2 .5 19.9 .4-28.3 .4 23.7 .4-25.8 .4 16.3 .5-34.3 .4 21.4 .4-26 .4 10.6 .4-18.2 .5 15.7 .4-24.3 .4 28.2 .4-25.7 .4 27.4 .5-29.8 .4 28.2 .4-25.4 .4 25.5 .4-26.3 .5 26 .4-25.9 .4 22.3 .4-22.1 .4 24.4 .5-25.3 .4 21.9 .4-16.4 .4 15.8 .4-21.4 .5 29.7 .4-28.6 .4 23.5 .4-25.1 .4 29 .5-26.5 .4 21.5 .4-19.1 .4 20.7 .4-20.8 .5 20.8 .4-23.9 .4 28.7 .4-23.1 .4 19.6 .5-19.5 .4 15.3 .4-22.6 .4 26.9 .4-27.9 .5 26.7 .4-18.1 .4 17.5 .4-23 .4 28.2 .5-31.9 .4 27.6 .4-22.2 .4 18.6 .4-20.8 .5 21.9 .4 19.8 .4 15.3 .4-13.9 .4 20.2 .5-21.3 .4 24 .4-23.7 .4 22.8 .4-23.2 .5 15.1 .4-20.7 .4 22.9 .4-23 .4 22.4 .5-16 .4 21.6 .4-27.9 .4 28.7 .4-28.8 .5 21.5 .4-20.5 .4 26.4 .4-24.9 .4 27 .5-25 .4 25.3 .4-29.7 .4 20.7 .4-14 .5 20 .4-27.6 .4 22.2 .4-17.4 .4 23.6 .5-22.3 .4 23.5 .4-26.5 .4 18.9 .4-17.8 .5 22.7 .4-23.4 .4 24.4 .4-21.6 .4 22.7 .5-24.7 .4 23.3 .4-25.9 .4 23.7 .4-21.3 .5 24.8 .4-30.1 .4 30.1 .4-26.6 .4 21.9 .5-17.1 .4 23.6 .4-29.7 .4 28.3 .4-24.7 .5 22.6 .4-28.8 .4 30.9 .4-27.3 .4 22.4 .5-57.8 .4 26.3 .4-25.8 .4 23.8 .4-25.9 .5 27.9 .4-29.9 .4 24.1 .4-16.4 .4 16.3 .5-20.3 .4 23.3 .4-27 .4 29.9 .4-22.6 .5 22.1 .4-29.4 .4 29.7 .4-27.4 .4 21.8 .5-24.5 .4 29.5 .4-27.9 .4 28.9 .4-25.7 .5 17.9 .4-19.9 .4 26.6 .4-23.2 .4 22.8 .5-29.7 .4 24.8 .4-21.8 .4 26 .4-24.6 .5 20.1 .4-18.1 .4 23.3 .4-28.4 .4 25.6 .5-18.9 .4 22.2 .4-28.7 .4 23.3 .4-21.5 .5 27.8 .4-30.7 .4 27.1 .4-23.2 .4 23.8 .5-21.1 .4 17.4 .4-17.3 .4 22.1 .4-23.8 .5 22.5 .4-22.9 .4 22.5 .4-20.1 .4 15.6 .5-23.7 .4 26.8 .4-18.3 .4 20.8 .4-27.3 .5 22.7 .4-20.9 .4 22.7 .4 15.1 .4 18.9 .5-14.3 .4 23.5 .4-31.4 .4 26.6 .4-23.8 .5 21.7 .4-23.7 .4 25.2 .4-26.8 .4 30 .5-28.7 .4 30.6 .4-25.3 .4 16.5 .4-16 .5 17.4 .4-16.3 .4 15.1 .4-19.6 .4 27.3 .5-26.3 .4 27 .4-31.3 .4 23 .4-20.1 .5 23.2 .4-18.6 .4 24 .4-25.3 .4 21.5 .5-25.2 .4 28.9 .4-29.1 .4 23.8 .4-21.7 .5 19.5 .4-24.4 .4 32.3 .4-25.3 .4 16.2 .5-16.5 .4 19.5 .4-25.6 .4 30.8 .4-30.2 .5 22.1 .4-21.6 .4 27.9 .4-26.6 .4 29.2 .5-23.6 .4 15.6 .4-22.2 .4 29.8 .4-29.1 .5 23 .4-22.2 .4 26.6 .4-22 .4 17.8 .5-19.2 .4 17.4 .4-56.6 .4 20 .4-17.7 .5 17.4 .4-21.5 .4 20.3 .4-20.7 .4 22.4 .5-16 .4 22.9 .4-24.6 .4 24.7 .4-30.8 .5 30.4 .4-23.5 .4 19.3 .4-18.9 .4 23.5 .5-30.6 .4 27.7 .4-24 .4 21.3 .4-24.8 .5 26.1 .4-24.3 .4 21.1 .4-17.2 .4 16.4 .5-21.1 .4 25.8 .4-20.4 .4 23.4 .4-24.5 .5 20.2 .4-19.2 .4 17.8 .4-24.3 .4 24.9 .5-18.5 .4 20 .4-21.4 .4 25.3 .4-23.4 .5 24.1 .4-23.5 .4 22.7 .4-28.5 .4 22.1 .5-20.3 .4 21 .4-19 .4 18.2 .4-19.2 .5 26.6 .4-32.6 .4 32 .4-23.4 .4 17.4 .5-25 .4 22.8 .4-21.2 .4 23.4 .5-25.8 .4 23.2 .4-21.6 .4 24.7 .4-18.3 .5 15.1 .4 15.3 .4 26.7 .4-20.6 .4 19.7 .5-26.5 .4 24.4 .4-21.2 .4 20.5 .4-16.8 .5 22.8 .4-27.8 .4 22.3 .4-16.3 .4 15.3 .5-20.4 .4 24.3 .4-21.1 .4 18.3 .4-21.5 .5 26.3 .4-28.2 .4 27 .4-21.2 .4 16.3 .5-21.3 .4 24.5 .4-24.4 .4 21.1 .4-22 .5 24.6 .4-24.9 .4 30 .4-26.7 .4 18.6 .5-22.5 .4 26.9 .4-26.6 .4 24.6 .4-18.1 .5 23.4 .4-25.1 .4 18.8 .4-18.8 .4 22.9 .5-19.4 .4 18.7 .4-22.9 .4 22.9 .4-19.8 .5 21.6 .4-28.2 .4 29.7 .4-25 .4 23.5 .5-24.1 .4 24.5 .4-21.5 .4 22.6 .4-31 .5 27.5 .4-23.4 .4 23.7 .4-23.9 .4-17.9 .5-23.2 .4 25.1 .4-17.6 .4 16.4 .4-17.1 .5 23.9 .4-21.8 .4 15 .4-21.3 .4 22.2 .5-15.8 .4 19.6 .4-24.9 .4 24.2 .4-25.4 .5 21.4 .4-22.9 .4 28.8 .4-21 .4 15.3 .5-19.6 .4 23.2 .4-21.2 .4 17.6 .4-18.8 .5 19 .4-20.7 .4 27.5 .4-23.3 .4 20.6 .5-26.3 .4 22.4 .4-23.1 .4 30.4 .4-26.3 .5 21.4 .4-25.7 .4 26.7 .4-22.5 .4 26.5 .5-30.1 .4 24.4 .4-19.3 .4 19.2 .4-21 .5 27.2 .4-30.7 .4 30 .4-30.1 .4 29.5 .5-22.3 .4 19.2 .4-27.8 .4 31.7 .4-25 .5 20.2 .4-23.8 .4 23.2 .4-22.2 .4 19.4 .5-18.5 .4 22.6 .4-18.7 .4 15.3 .4-24.3 .5 30.3 .4-30 .4 28.7 .4 9.5 .4 29.8 .5-30.5 .4 22.5 .4-20.2 .4 22.4 .4-22.7 .5 22.8 .4-21.5 .4 27.6 .4-28.4 .4 22 .5-21 .4 22.8 .4-26.9 .4 25.5 .4-19.4 .5 22.8 .4-21 .4 20.5 .4-28.4 .4 27.6 .5-21.1 .4 20.7 .4-23.3 .4 20.3 .4-16.4 .5 16.2 .4-17.8 .4 20.4 .4-20.3 .4 18.8 .5-16.9 .4 19.7 .4-26.8 .4 27.5 .4-25 .5 25.3 .4-21.8 .4 22.4 .4-24.9 .4 23.4 .5-24.8 .4 24 .4-21.1 .4 19 .4-18.2 .5 20.7 .4-22.2 .4 22.9 .4-19.4 .4 17.2 .5-25.3 .4 24.2 .4-21.3 .4 23.7 .4-21.1 .5 25.8 .4-25.9 .4 23.9 .4-22.6 .4 15.9 .5-22.6 .4-10.9 .4-18.5 .4 18 .4-21.6 .5 24.9 .4-21.7 .4 16.9 .4-25 .4 29.9 .5-22.3 .4 18.5 .4-20.3 .4 23.5 .4-26 .5 27.6 .4-29.6 .4 26.5 .4-25.7 .4 27.8 .5-28 .4 25.5 .4-25.7 .4 27.9 .4-29.2 .5 23.7 .4-23.3 .4 22.1 .4-21.1 .4 26.6 .5-24 .4 27.6 .4-28.3 .4 23.1 .4-25.1 .5 29.4 .4-27.8 .4 23.2 .4-21.7 .4 22.4 .5-25 .4 23.4 .4-20.2 .4 22.7 .4-22.6 .5 20.4 .4-24.3 .4 29.3 .4-26.5 .4 22.7 .5-19.8 .4 18.4 .4-18 .4 20.6 .4-24.7 .5 20.1 .4-23.3 .4 25.5 .4-24.8 .4 29.7 .5-30.8 .4 24.8 .4-19.7 .4 26.4 .4-22.5 .5 14.3 .4-19.6 .4 23.9 .4-27.2 .4 66.8 .5-26.2 .4 28.3 .4-28.1 .4 23.6 .4-25.2 .5 24 .4-20.9 .4 22.8 .4-22.7 .4 26 .5-29.1 .4 25.1 .4-19.6 .4 18.2 .4-21.1 .5 22.9 .4-24.5 .4 27.5 .4-31.2 .4 27.5 .5-22.6 .4 23.9 .4-29.1 .4 26.4 .4-22 .5 26.5 .4-23.1 .4 18.4 .4-26.1 .4 30.9 .5-26.5 .4 19.7 .4-23.3 .4 28.8 .4-28.1 .5 31 .4-31.6 .4 26.2 .4-19.3 .4 18 .5-21.3 .4 23.4 .4-20.4 .4 17.3 .4-21.5 .5 25.5 .4-22.8 .4 26.5 .4-29.2 .4 20.2 .5-18.1 .4 25.1 .4-24.1 .4 17.2 .4-14.2 .5 15.9 .4-12.4 .4 18.3 .4-9.3 .4 22 .5-5.2 .4 26.6 .4-3.1 .4 19 .4-10.5 .5 18.7 .4-22.6 .4 28.5 .4-25.9 .4 30.5 .5-32.4 .4 32.6 .4-29.9 .4 29.8 .4-32.3 .5 31.5 .4-32.1 .4 34 .4-36.4 .4 36.9 .5-32.9 .4 30.2 .4-28.4 .4 32.1 .4-31.8 .5 27.7 .4-28.1 .4 30 .4-34.5 .4 34.3 .5-34.2 .4 30.7 .4-25.3 .4 27.6 .4-29.7 .5 28.2 .4-22.3 .4 10.6 .4-18.7 .4 10.3 .5-19.2 .4 10 .4-19.4 .4 9.7 .4-19.7 .5 9.4 .4-19.9 .4 9.2 .4-20.1 .4 9.1 .5-20.2 .4 9 .4-20.3 .4 9 .4-20.3 .5 9 .4-20.3 .4 9.1 .4-20.2 .4 9.2 .5-20 .4 9.3 .4-19.8 .4 9.5 .4-19.5 .5 9.8 .4-19.3 .4 10.1 .4-18.9 .4 10.4 .5-18.5 .4 20.6 .4-26.9 .4 26.3 .4-26.8 .5 31.2 .4-34.4 .4 30.6 .4-30.6 .4 30.8 .5-29.1 .4 32.6 .4-36.1 .4 36.6 .4-35.9 .5 33.5 .4-32.4 .4 28.5 .4-32.4 .4 38 .5-34.1 .4 34.4 .4-36.7 .4 32.6 .4-30.7 .5 35.2 .4-33.9 .4 33.8 .4-31.7 .4 27.8 .5-28.6 .4 22.7 .4-10.6 .4 18.8 .4-10.3 .5 19.1 .4-9.9 .4 19.4 .4-9.7 .4 19.8 .5-9.5 .4 20 .4-9.3 .4 20.1 .4-9.1 .5 20.3 .4-9 .4 20.2 .4-8.9 .4 20.3 .5-9 .4 20.2 .4-9 .4 20.1 .4-9.1 .5 20 .4-9.4 .4 19.8 .4-9.5 .4 19.5 .5-9.8 .4 19.3 .4-10.2 .4 19 .4-10.5 .5 18.5 .4-20.1 .4 26.6 .4-31.1 .4 32.8 .5-32.2 .4 31.9 .4-27.7 .4 29 .4-29 .5 33 .4-33.8 .4 31.8 .4-30.6 .4 30.7 .5-32.5 .4 31.7 .4-29.5 .4 27.7 .4-33 .5 34.1 .4-30.1 .4 28.7 .4-28.9 .4 28.6 .5-26.9 .4 28.2 .4-30.3 .4 27.1 .4-29.6 .5 28.4 .4-20.7 .4 10.6 .4-18.8 .4 10.3 .5-19.2 .4 10 .4-19.5 .4 9.7 .4-19.8 .5 9.4 .4-19.9 .4 9.2 .4-20.1 .4 9.1 .5-20.2 .4 9 .4-20.3 .4 9 .4-20.3 .5 9 .4-20.3 .4 9.1 .4-20.2 .4 9.2 .5-20 .4 9.4 .4-19.8 .4 9.5 .4-19.5 .5 9.8 .4-19.2 .4 10.1 .4-18.9 .4 10.5 .5-18.5 .4 20.8 .4-29.1 .4 28.1 .4-27.5 .5 32.4 .4-35.1 .4 30.5 .4-28.9 .4 32.7 .5-33.3 .4 35 .4-34.4 .4 34.3 .4-36.2 .5 31.2 .4-30.9 .4 30.3 .4-31.7 .4 32.6 .5-33.3 .4 35.5 .4-32 .4 29.7 .4-30.3 .5 30 .4-30.4 .4 29.8 .4-27.1 .4 30 .5-24.6 .4 18.4 .4-10.6 .4 18.8 .4-10.2 .5 19.1 .4-9.9 .4 19.5 .4-9.6 .4 19.7 .5-9.4 .4 19.9 .4-9.2 .4 20.1 .4-9 .5 20.2 .4-9 .4 20.3 .4-9 .4 20.3 .5-9 .4 20.2 .4-9 .4 20.1 .4-9.2 .5 20 .4-9.3 .4 19.8 .4-9.6 .4 19.5 .5-9.9 .4 19.3 .4-10.2 .4 18.9 .4-10.5 .5 18.5 .4-21.2 .4 28.9 .4-29.7 .4 30.3 .5-31.6 .4 30.8 .4-29.5 .4 28.9 .4-27.5 .5 32.3 .4-33.3 .4 32.7 .4-31.2 .4 30.8 .5-32.6 .4 32.2 .4-31.7 .4 29 .4-29.1 .5 29.7 .4-28.4 .4 30.7 .4-31.8 .4 29.4 .5-33.7 .4 34.6 .4-34.4 .4 33.6 .4-28.5 .5 21.5 .4-18.5 .4 10.6 .4-18.8 .4 10.2 .5-19.2 .4 9.9 .4-19.5 .4 9.6 .4-19.7 .5 9.4 .4-20 .4 9.2 .4-20.1 .4 9.1 .5-20.2 .4 9 .4-20.3 .4 8.9 .4-20.3 .5 9 .4-20.2 .4 9.1 .4-20.2 .5 9.2 .4-20 .4 9.4 .4-19.8 .4 9.6 .5-19.5 .4 9.9 .4-19.2 .4 10.2 .4-18.9 .5 10.5 .4-18.5 .4 21.7 .4-26 .4 28.7 .5-32.4 .4 30.2 .4-29.9 .4 32 .4-34.2 .5 31.4 .4-32.8 .4 33.5 .4-32.7 .4 31.5 .5-28.6 .4 33.6 .4-37.3 .4 36 .4-31.7 .5 27 .4-27.4 .4 28.5 .4-28.9 .4 30.2 .5-28.2 .4 27.7 .4-29.8 .4 28.9 .4-28.7 .5 31.4 .4-24.1 .4 18.5 .4-10.6 .4 18.9 .5-10.2 .4 19.2 .4-9.9 .4 19.5 .4-9.6 .5 19.7 .4-9.4 .4 20 .4-9.2 .4 20.1 .5-9 .4 20.2 .4-9 .4 20.3 .4-9 .5 20.3 .4-9 .4 20.3 .4-9.1 .4 20.1 .5-9.2 .4 20 .4-9.4 .4 19.8 .4-9.6 .5 19.5 .4-9.9 .4 19.2 .4-10.2 .4 18.8 .5-10.5 .4 18.4 .4-25 .4 30 .4-28.1 .5 31 .4-30.4 .4 27.8 .4-31.1 .4 35.9 .5-32.1 .4 28.5 .4-32.4 .4 36 .4-30.5 .5 28.5 .4-28.9 .4 32.2 .4-32.9 .4 33.4 .5-37.1 .4 31.9 .4-31.5 .4 32.7 .4-33.1 .5 34.7 .4-31.5 .4 27.1 .4-31.7 .4 32.2 .5-32.1 .4 26.2 .4-18.5 .4 10.6 .4-18.9 .5 10.2 .4-19.2 .4 9.8 .4-19.5 .4 9.6 .5-19.8 .4 9.4 .4-20 .4 9.2 .4-20.1 .5 9.1 .4-20.3 .4 9 .4-20.3 .4 9 .5-20.3 .4 9 .4-20.2 .4 9.1 .4-20.2 .5 9.2 .4-19.9 .4 9.4 .4-19.8 .4 9.6 .5-19.5 .4 10 .4-19.2 .4 10.2 .4-18.9 .5 10.7 .4-18.5 .4 25.2 .4-31.8 .4 32.8 .5-33.4 .4 30.8 .4-28.8 .4 30.5 .4-33.1 .5 31.8 .4-35.2 .4 32.5 .4-31.9 .4 31.4 .5-31.2 .4 36.4 .4-33.8 .4 32 .4-36 .5 36.7 .4-33.8 .4 31.1 .4-27.9 .4 28.6 .5-29.8 .4 28.8 .4-27.5 .4 27 .4-27.7 .5 31.4 .4-24 .4 18.5 .4-10.6 .4 18.9 .5-10.1 .4 19.2 .4-9.9 .4 19.6 .4-9.6 .5 19.8 .4-9.4 .4 20 .4-9.2 .4 20.1 .5-9 .4 20.2 .4-9 .4 20.3 .4-8.9 .5 20.3 .4-9 .4 20.2 .4-9.1 .4 20.1 .5-9.2 .4 20 .4-9.5 .4 19.8 .4-9.7 .5 19.5 .4-9.9 .4 19.2 .4-10.3 .4 18.9 .5-10.7 .4 18.5 .4-22.5 .4 26.7 .4-28.6 .5 30.4 .4-33.3 .4 33.7 .4-29.3 .4 32.8 .5-31.7 .4 30.5 .4-31.9 .4 33.7 .4-35.1 .5 35 .4-32.4 .4 31.8 .4-34.8 .4 33.4 .5-34.5 .4 36.2 .4-31.8 .4 28.2 .4-29.8 .5 28.8 .4-26.8 .4 26.4 .4-27.3 .4 28 .5-29.7 .4 22.1 .4-18.6 .4 10.5 .4-18.9 .5 10.2 .4-19.3 .4 9.9 .4-19.6 .4 9.6 .5-19.8 .4 9.4 .4-20 .4 9.1 .4-20.1 .5 9.1 .4-20.3 .4 9 .4-20.3 .4 9 .5-20.3 .4 9 .4-20.2 .4 9.1 .4-20.2 .5 9.3 .4-20 .4 9.4 .4-19.7 .4 9.7 .5-19.5 .4 9.9 .4-19.1 .4 10.2 .4-18.8 .5 10.7 .4-20.9 .4 25.9 .4-28.3 .4 28.6 .5-28.2 .4 26.2 .4-26 .4 32.3 .4-36.9 .5 30.6 .4-31 .4 37.2 .4-36.7 .4 30.7 .5-30.4 .4 32.7 .4-30.8 .4 31.5 .4-30.3 .5 32.9 .4-36.2 .4 34.2 .4-35.2 .4 35.4 .5-31.1 .4 28.3 .4-27 .4 25.5 .4-27.2 .5 32.7 .4-24.4 .4 18.6 .4-10.5 .4 18.9 .5-10.1 .4 19.2 .4-9.8 .4 19.6 .4-9.6 .5 19.8 .4-9.3 .4 20 .4-9.2 .4 20.2 .5-9.1 .4 20.3 .4-9 .4 20.3 .4-9 .5 20.3 .4-9 .4 20.2" stroke="#f00010" stroke-width="2.8" fill="none" stroke-linejoin="round"/>
<path d="M1106.3 1665.7l.4 28.5 .4-31 .5 35.6 .4-37.7 .4 33 .4-32.5 .4 37.1 .5-36.9 .4 33.4 .4-29.9 .4 33.3 .4-33.9 .5 30.8 .4-31.7 .4 31.7 .4-32.5 .4 31.6 .5-26.8 .4 29.1 .4-30.9 .4 32.6 .4-31.7 .5 21.6 .4-10.8 .4 18.8 .4-10.4 .4 19.1 .5-10 .4 19.4 .4-9.7 .4 19.7 .4-9.5 .5 19.9 .4-9.3 .4 20.1 .4-9.1 .4 20.2 .5-9 .4 20.3 .4-9 .4 20.3 .4-9 .5 20.3 .4-9.1 .4 20.2 .4-9.1 .4 20 .5-9.3 .4 19.8 .4-9.5 .4 19.6 .4-9.8 .5 19.4 .4-10.1 .4 19 .4-10.5 .4 18.6 .5-23.5 .4 33.6 .4-30.8 .4 30.1 .4-27.7 .5 27.7 .4-30.7 .4 30.2 .4-30.9 .4 31.8 .5-30.1 .4 35.2 .4-32.8 .4 27.5 .4-29.9 .5 30.9 .4-32.8 .4 31.5 .4-32.4 .4 37.2 .5-36.8 .4 33.8 .4-30.3 .4 30.9 .4-32.5 .5 30.5 .4-29.3 .4 28.5 .4-30.8 .4 31.1 .5-22.3 .4 10.7 .4-18.8 .4 10.3 .4-19.1 .5 10 .4-19.4 .4 9.7 .4-19.7 .4 9.5 .5-19.9 .4 9.2 .4-20.1 .4 9.2 .4-20.3 .5 9.1 .4-20.3 .4 8.9 .4-20.2 .4 8.9 .5-20.2 .4 9 .4-20.2 .4 9.2 .4-20 .5 9.3 .4-19.8 .4 9.5 .4-19.6 .4 9.8 .5-19.3 .4 10.1 .4-19 .4 10.5 .4-18.6 .5 23.9 .4-30.6 .4 26.4 .4-28.5 .4 30.3 .5-30.7 .4 28.2 .4-27.5 .4 28.4 .4-31 .5 35.5 .4-38.5 .4 37.7 .4-38.4 .4 39.1 .5-37 .4 36 .4-32.6 .4 31.6 .4-34.5 .5 31.9 .4-31.2 .4 35.7 .4-34.6 .4 32.5 .5-30.8 .4 28.7 .4-30.3 .4 28.2 .4-24.3 .5 20.3 .4-10.7 .4 18.8 .4-10.3 .4 19.1 .5-10 .4 19.5 .4-9.7 .4 19.7 .4-9.5 .5 20 .4-9.3 .4 20.1 .4-9.1 .4 20.2 .5-9 .4 20.3 .4-9 .4 20.3 .4-9 .5 20.3 .4-9.1 .4 20.2 .4-9.2 .4 20.1 .5-9.4 .4 19.9 .4-9.6 .4 19.6 .4-9.8 .5 19.3 .4-10.2 .4 19 .4-10.5 .4 18.6 .5-22.7 .4 30.2 .4-26.2 .4 28.2 .4-30.1 .5 30.6 .4-30.9 .4 31.4 .4-32.5 .4 32.4 .5-29.3 .4 28.4 .4-33.7 .4 36.1 .4-30.7 .5 32.6 .4-33.6 .4 28.9 .4-30.8 .4 31.4 .5-31.1 .4 32.4 .4-30.6 .4 30 .4-29.2 .5 28.1 .4-31.4 .4 28.5 .4-27.3 .4 26.4 .5-20.2 .4 10.7 .4-18.8 .4 10.3 .4-19.2 .5 10 .4-19.5 .4 9.7 .4-19.7 .4 9.4 .5-19.9 .4 9.2 .4-20.1 .4 9.1 .4-20.2 .5 9 .4-20.3 .4 9 .4-20.3 .4 9 .5-20.2 .4 9 .4-20.2 .4 9.2 .4-20 .5 9.3 .4-19.8 .4 9.6 .4-19.6 .4 9.9 .5-19.3 .4 10.1 .4-18.9 .4 10.5 .4-18.6 .5 21.5 .4-30.3 .4 31.1 .4-31.7 .4 33.1 .5-31.1 .4 32.7 .4-36.5 .4 30.4 .4-31.7 .5 33.7 .4-30.2 .4 34.1 .4-36.7 .4 35.4 .5-32.8 .4 32.8 .4-32.2 .4 28.5 .4-30.1 .5 28.6 .4-29.4 .4 30.7 .4-28.5 .4 31.9 .5-31.7 .4 33 .4-32.9 .4 32.8 .4-31.4 .5 22.4 .4-10.7 .4 18.9 .4-10.3 .4 19.1 .5-9.9 .4 19.4 .4-9.6 .4 19.7 .4-9.4 .5 19.9 .4-9.2 .4 20.1 .4-9.1 .4 20.2 .5-9 .4 20.3 .4-8.9 .4 20.2 .4-8.9 .5 20.2 .4-9 .4 20.1 .4-9.2 .4 20 .5-9.3 .4 19.8 .4-9.6 .4 19.6 .4-9.9 .5 19.3 .4-10.2 .4 19 .4-10.6 .4 18.6 .5-25.2 .4 33.7 .4-28.5 .4 29.2 .4-30.4 .5 31.5 .4-33.9 .4 35 .4-31.1 .5 29.2 .4-33.4 .4 37.1 .4-37 .4 31.9 .5-31.1 .4 31.4 .4-31 .4 35.1 .4-32.1 .5 32.4 .4-36.3 .4 32 .4-28.7 .4 29.1 .5-33.5 .4 33.3 .4-28.3 .4 24.9 .4-24.9 .5 21.8 .4-18.5 .4 10.6 .4-18.8 .4 10.3 .5-19.2 .4 9.9 .4-19.4 .4 9.6 .4-19.7 .5 9.4 .4-20 .4 9.3 .4-20.2 .4 9.1 .5-20.2 .4 9 .4-20.3 .4 9 .4-20.3 .5 9 .4-20.3 .4 9.1 .4-20.2 .4 9.2 .5-20 .4 9.4 .4-19.8 .4 9.6 .4-19.6 .5 9.9 .4-19.2 .4 10.1 .4-18.9 .4 10.6 .5-18.6 .4 24.8 .4-30.2 .4 28.5 .4-29.8 .5 30.7 .4-32 .4 28.3 .4-31.6 .4 34.3 .5-33.9 .4 35.7 .4-37.7 .4 32.3 .4-28.9 .5 29.8 .4-30.7 .4 35.7 .4-37.3 .4 31.5 .5-27.6 .4 33 .4-35.3 .4 32.4 .4-30.6 .5 29 .4-29.9 .4 31.5 .4-30.4 .4 31.9 .5-24.9 .4 18.5 .4-10.6 .4 18.8 .4-10.2 .5 19.2 .4-10 .4 19.5 .4-9.6 .4 19.7 .5-9.4 .4 20 .4-9.2 .4 20.1 .4-9.1 .5 20.3 .4-9 .4 20.3 .4-9 .4 20.3 .5-9 .4 20.2 .4-9 .4 20.1 .4-9.2 .5 20 .4-9.4 .4 19.8 .4-9.6 .4 19.5 .5-9.8 .4 19.2 .4-10.2 .4 18.9 .4-10.6 .5 18.5 .4-20.1 .4 25.8 .4-26.8 .4 30.4 .5-32.9 .4 29.6 .4-26.7 .4 29 .4-31.1 .5 32.8 .4-32.2 .4 31.3 .4-28.7 .4 30.2 .5-32.5 .4 29.1 .4-29.9 .4 35.5 .4-32.7 .5 27.5 .4-31.8 .4 32 .4-29.2 .4 29.8 .5-29.8 .4 29.2 .4-31 .4 31.6 .4-34.8 .5 27.1 .4-18.5 .4 10.6 .4-18.8 .4 10.2 .5-19.2 .4 9.9 .4-19.5 .4 9.6 .4-19.8 .5 9.4 .4-19.9 .4 9.2 .4-20.2 .4 9.1 .5-20.2 .4 9 .4-20.3 .4 8.9 .4-20.2 .5 9 .4-20.3 .4 9.1 .4-20.1 .4 9.2 .5-20 .4 9.4 .4-19.8 .4 9.6 .4-19.5 .5 9.9 .4-19.2 .4 10.2 .4-18.9 .4 10.6 .5-18.5 .4 20.2 .4-26.5 .4 31.6 .4-34.1 .5 34.1 .4-33.9 .4 32.9 .4-32.2 .4 29.8 .5-32.8 .4 36.9 .4-38.1 .4 36.8 .4-33.2 .5 33.7 .4-36.3 .4 34.6 .4-33.8 .4 32.7 .5-31.9 .4 32.3 .4-29 .4 28.5 .4-29.3 .5 33.8 .4-33.8 .4 29.5 .4-27.5 .4 26.6 .5-21.5 .4 18.5 .4-10.6 .4 18.9 .4-10.2 .5 19.2 .4-9.9 .4 19.5 .4-9.6 .4 19.8 .5-9.4 .4 20 .4-9.2 .4 20.1 .4-9.1 .5 20.3 .4-9 .4 20.3 .4-9 .4 20.3 .5-9 .4 20.2 .4-9 .4 20.1 .4-9.2 .5 20 .4-9.4 .4 19.7 .4-9.6 .4 19.5 .5-9.9 .4 19.2 .4-10.2 .4 18.8 .4-10.6 .5 18.5 .4-22.8 .4 27 .4-24.6 .4 28.9 .5-32 .4 30.8 .4-31.6 .4 31.5 .4-28.7 .5 27.8 .4-28.7 .4 30.4 .4-33.4 .4 35 .5-36.4 .4 35.1 .4-35 .4 36.3 .4-30.5 .5 27.8 .4-31.3 .4 35.3 .4-33.7 .4 31.7 .5-32.2 .4 31.6 .4-29.1 .4 26.3 .4-32.1 .5 25.8 .4-18.6 .4 10.6 .4-18.9 .4 10.2 .5-19.3 .4 9.9 .4-19.5 .4 9.6 .4-19.8 .5 9.4 .4-20 .4 9.2 .4-20.2 .4 9.1 .5-20.3 .4 9 .4-20.3 .4 9 .4-20.3 .5 9 .4-20.2 .4 9.1 .4-20.1 .4 9.2 .5-20 .4 9.4 .4-19.7 .4 9.6 .4-19.5 .5 9.9 .4-19.1 .4 10.2 .4-18.8 .4 10.6 .5-18.5 .4 22.7 .4-27.1 .4 25.3 .4-25.7 .5 27.4 .4-30.9 .4 30.6 .4-19.3 .4 26.1 .5-14.7 .4 34.3 .4-21.4 .4 28.5 .4-16 .5 36.5 .4-21.9 .4 26.9 .4-15.5 .4 36.4 .5-18.6 .4 24.9 .4-10.1 .4 27.3 .4-25.7 .5 28.1 .4-28.5 .4 24.5 .4-18.9 .4 24 .5-27 .4 23.7 .4-24 .4 23.4 .4-17.5 .5 18.2 .4-18.1 .4 20.1 .4-22.9 .4 21.7 .5-24.2 .4 21.9 .4-20.6 .4 18.3 .4-22.7 .5 27.9 .4-28.4 .4 23.6 .4-20.1 .4 26.4 .5-23.7 .4 17.8 .4-16.2 .4 16.6 .4-59.4 .5 21.9 .4-22.3 .4 25.5 .4-22.9 .4 24.4 .5-24.6 .4 25.3 .4-25.7 .4 22.6 .4-23.9 .5 23.2 .4-22.9 .4 27.7 .4-28.4 .4 24.1 .5-24 .4 30.3 .4-27.3 .4 20.7 .4-21.4 .5 27.7 .4-24 .4 15.1 .4-18.3 .4 24.5 .5-27.3 .4 24.5 .4-26.6 .4 25.3 .4-23.1 .5 21.8 .4-14.9 .4 15.3 .4-15.6 .4 19.1 .5-23.8 .4 20.8 .4-24.4 .4 26.1 .4-18.6 .5 16.8 .4-22.4 .4 29.5 .4-24 .4 15.5 .5-21.4 .4 23.5 .4-25.4 .4 27.8 .4-24.5 .5 23 .4-24.6 .4 25.7 .4-21.2 .4 25.4 .5-23.3 .4 21.7 .4-21.3 .4 20.5 .4-23.7 .5 25.7 .4-22.5 .4 19.7 .4-23 .4 26.4 .5-31.5 .4 28.7 .4 15.2 .4 18.3 .4-18.7 .5 20.4 .4-20.1 .4 17.9 .4-22.9 .4 27.1 .5-22.7 .4 26 .4-25.2 .4 21.2 .4-20.7 .5 23.4 .4-30.1 .4 24.5 .4-23.4 .4 28.7 .5-24.3 .4 19.6 .4-21.5 .4 26.8 .4-23.7 .5 21.7 .4-25.9 .4 23.8 .4-23.6 .4 27.6 .5-24.1 .4 24.1 .4-25.5 .4 24.6 .4-29.4 .5 23.7 .4-23.7 .4 31.4 .4-26 .4 16.8 .5-15.1 .4 24.1 .4-23.1 .4 22.5 .4-23.8 .5 22.1 .4-21.6 .4 16.3 .4-21.9 .4 21.1 .5-17.8 .4 25.7 .4-29.3 .4 28.9 .4-31.4 .5 23.4 .4-16.3 .4 23.5 .4-27.8 .4 20.6 .5-18.9 .4 20.8 .4-20.1 .4 18.9 .4-15 .5 23.4 .4-63.2 .4 25.1 .4-23.2 .4 19.5 .5-19.7 .4 19.1 .4-19.5 .4 22 .4-21.7 .5 22.2 .4-25.6 .4 19.6 .4-18.2 .4 21.9 .5-27.2 .4 25.8 .4-19.1 .4 24.9 .4-31.3 .5 29.1 .4-23.3 .4 18 .4-17.9 .4 16.9 .5-14.8 .4 19 .4-22.5 .4 22.9 .4-22.4 .5 17.3 .4-20.4 .4 26.4 .4-25.1 .4 24.2 .5-25.5 .4 29.6 .4-31.4 .4 28.9 .4-24.4 .5 20.6 .4-20.8 .4 27 .4-26.7 .4 21.1 .5-21.3 .4 19 .4-24.6 .4 23.3 .4-19.6 .5 28.3 .4-24.9 .4 21.9 .4-23.1 .4 19.6 .5-17.9 .4 16.8 .4-22.9 .4 29.2 .4-29.8 .5 22.8 .4-20.8 .4 23.4 .4-22.9 .4 25.1 .5-22 .4 26 .4-23 .4 20.8 .4 8.1 .5 26.7 .4-24.2 .4 28.8 .4-25.4 .4 21.9 .5-26.7 .4 24.4 .4-24.1 .4 24.2 .4-22.5 .5 24.6 .4-26 .4 23.2 .4-22.8 .4 24.9 .5-21 .4 21.7 .4-22.1 .4 24.9 .4-26.9 .5 25.1 .4-25.5 .4 23.2 .4-20.4 .4 17.2 .5-23.9 .4 27.6 .4-23.8 .4 23.8 .4-26.5 .5 23.7 .4-17.6 .4 23.2 .4-26 .4 24.2 .5-27.6 .4 30 .4-30.4 .4 22.4 .4-17.8 .5 25.3 .4-29.4 .4 22.6 .4-16.4 .4 17.7 .5-17.2 .4 18.2 .4-24.8 .4 26.3 .4-23 .5 18.9 .4-18.3 .4 26.9 .4-29.8 .4 24.6 .5-22.5 .4 25.8 .4-28.5 .4 22.4 .4-21.6 .5 23.6 .4-22.1 .4 20.9 .4-56.5 .4 20.5 .5-20.6 .4 17.5 .4-15.8 .4 21.1 .4-19.8 .5 16.1 .4-22.3 .4 23.2 .4-19.5 .4 19.2 .5-24 .4 22.5 .4-20.6 .4 27.9 .5-23.8 .4 19.7 .4-25.3 .4 27.1 .4-23.1 .5 17.7 .4-18.4 .4 21.4 .4-24 .4 23.4 .5-20.5 .4 23.8 .4-27.6 .4 24.8 .4-20.8 .5 22.9 .4-28 .4 24.4 .4-24.8 .4 29.7 .5-24 .4 23.6 .4-23.2 .4 17.5 .4-21.6 .5 24.6 .4-22.4 .4 23.5 .4-27 .4 29.4 .5-21.2 .4 19.7 .4-23.8 .4 22.5 .4-26.1 .5 25.7 .4-22.2 .4 26.7 .4-26.4 .4 22.6 .5-23.3 .4 26.5 .4-28 .4 27.2 .4-24.6 .5 17.9 .4-20.5 .4 25.4 .4-26.3 .4 28.4 .5-22.2 .4 17 .4 20.4 .4 22.2 .4-22.5 .5 15.6 .4-21.7 .4 26.2 .4-19.6 .4 20.7 .5-26.9 .4 25 .4-18.8 .4 20.8 .4-24.3 .5 23.3 .4-28.7 .4 30.9 .4-29.8 .4 23.5 .5-18.4 .4 21.9 .4-18.8 .4 23.2 .4-25.7 .5 18.9 .4-19.3 .4 19.2 .4-24.3 .4 27.1 .5-23.8 .4 22.6 .4-18.3 .4 17.2 .4-24.9 .5 29.6 .4-29.5 .4 24.3 .4-18.1 .4 16.2 .5-19.4 .4 22.4 .4-21.7 .4 22.8 .4-23.9 .5 22.7 .4-24.8 .4 23.3 .4-24.4 .4 27.7 .5-19.5 .4 17.3 .4-21.8 .4 22.6 .4-22.9 .5 22.1 .4-19.4 .4 23.9 .4-24.1 .4 23.3 .5-28.1 .4 27 .4-23.7 .4 26.9 .4-26.8 .5-10.7 .4-22.7 .4 18.5 .4-24 .4 20.3 .5-22.4 .4 22.6 .4-20.1 .4 21.2 .4-24.2 .5 27.8 .4-26.7 .4 26.1 .4-24.9 .4 26.6 .5-23 .4 18.6 .4-23.7 .4 23 .4-23.8 .5 24.4 .4-16.7 .4 15.7 .4-22.1 .4 30.2 .5-26.7 .4 23.9 .4-22.4 .4 24.7 .4-28.8 .5 21.7 .4-15.7 .4 20.8 .4-20.7 .4 22.1 .5-24.5 .4 18.8 .4-21.5 .4 22.3 .4-22.1 .5 20.5 .4-23.8 .4 25.4 .4-24.8 .4 23.2 .5-22.8 .4 30.6 .4-26.7 .4 17.8 .4-17.7 .5 23.4 .4-21.9 .4 21 .4-19.8 .4 19.1 .5-25.1 .4 24.7 .4-24.2 .4 21.2 .4-22.7 .5 22.8 .4-23.7 .4 32 .4-32.1 .4 27.6 .5-21.5 .4 19.9 .4-24.2 .4 25.6 .4 9.7 .5 23.5 .4-19.3 .4 26.6 .4-27.7 .4 24.6 .5-19.7 .4 15.9 .4-17.7 .4 24.8 .4-30.2 .5 23.9 .4-24.7 .4 22.9 .4-19.8 .4 28.6 .5-26.2 .4 26 .4-28.9 .4 20.4 .4-17.4 .5 21.2 .4-20.3 .4 23.1 .4-22.5 .4 22.9 .5-24 .4 17.2 .4-19.7 .4 20 .4-19.9 .5 26.4 .4-26.8 .4 23.7 .4-18.4 .4 18.9 .5-19.5 .4 20.8 .4-21.1 .4 20.4 .4-22.5 .5 20.6 .4-23.6 .4 21.6 .4-16.9 .4 24.3 .5-25.8 .4 24.9 .4-30.1 .4 26.6 .4-19.7 .5 16.1 .4-23 .4 23.2 .4-19.6 .4 23.5 .5-19.9 .4 19.3 .4-19.8 .4 20.4 .4-23.6 .5 22 .4-19.1 .4-17.5 .4-19.5 .4 16.9 .5-17.3 .4 24.3 .4-26.8 .4 27 .4-22.4 .5 22.9 .4-27.3 .4 25.9 .4-26.7 .4 25.7 .5-22.5 .4 23.1 .4-22.4 .4 17.8 .4-16.6 .5 17.8 .4-22.4 .4 21.4 .4-24.9 .4 23 .5-20.1 .4 21.5 .4-21.6 .4 26.8 .4-27.9 .5 21.1 .4-16.7 .4 21.7 .4-28.7 .4 23.5 .5-20.1 .4 26.2 .4-28 .4 24.7 .4-24.7 .5 25.8 .4-26.8 .4 22.6 .4-22.8 .4 26.6 .5-21.6 .4 18.5 .4-16.9 .4 23 .4-27.1 .5 21.6 .4-18.5 .4 18.4 .4-17 .4 17.7 .5-18.9 .4 26.1 .4-32.5 .4 30.8 .4-25.9 .5 23.1 .4-25.9 .4 29.8 .4-29.5 .4 26.9 .5-21.7 .4 21.6 .4-27.7 .4 29.2 .4-22.1 .5 58.5 .4-23.9 .4 18.6 .4-24.4 .4 29.2 .5-27.2 .4 22.2 .4-22.9 .4 21.9 .4-14.7 .5 14.3 .4-15 .4 14.1 .4-15.2 .4 13.9 .5-15.5 .4 13.7 .4-15.7 .4 13.5 .4-15.9 .5 13.2 .4-16.1 .4 13 .4-16.3 .4 12.8 .5-16.6 .4 12.6 .4-16.8 .4 12.3 .4-16.9 .5 13.2 .4-15.9 .4 13.5 .4-15.6 .4 13.8 .5-15.2 .4 14.4 .4-14.7 .4 14.9 .4-14 .5 15.6 .4-13.4 .4 16.3 .4-12.6 .4 17.1 .5-11.8 .4 17.9 .4-10.9 .4 18.8 .4-10 .5 19.7 .4-9.1 .4 20.2 .4-9.2 .4 20 .5-9.4 .4 19.8 .4-9.7 .4 19.6 .4-9.9 .5 19.2 .4-10.2 .4 18.9 .4-10.6 .4 18.5 .5-26.2 .4 34.1 .4-32.8 .4 33.7 .4-34.1 .5 33.9 .4-31.4 .4 33.4 .4-35.8 .4 36.7 .5-33.3 .4 34.3 .4-35.9 .4 36 .4-33.2 .5 33.3 .4-37.9 .4 33.5 .4-33.8 .4 33.3 .5-28.9 .4 29.7 .4-30 .4 29.5 .4-34.1 .5 34.2 .4-32.9 .4 30.5 .4-31 .4 25.5 .5-18.5 .4 10.6 .4-18.9 .4 10.3 .4-19.2 .5 9.8 .4-19.5 .4 9.7 .4-19.8 .4 9.4 .5-20 .4 9.2 .4-20.1 .4 9 .4-20.2 .5 9 .4-20.3 .4 9 .4-20.3 .4 9 .5-20.3 .4 9.1 .4-20.1 .4 9.2 .4-20 .5 9.4 .4-19.8 .4 9.7 .4-19.6 .4 9.9 .5-19.2 .4 10.3 .4-18.9 .4 10.6 .4-18.5 .5 25.6 .4-32.2 .4 33.2 .4-35 .4 31.4 .5-28.7 .4 30.4 .4-35 .4 32.8 .4-32 .5 35.4 .4-37 .4 31.3 .4-29.6 .4 29.7 .5-27.5 .4 33 .4-34.6 .4 33.1 .4-33 .5 31.2 .4-29.4 .4 29.5 .4-32.1 .4 33.9 .5-30.3 .4 26.7 .4-25.7 .4 29.9 .4-24.5 .5 18.5 .4-10.6 .4 18.9 .4-10.2 .4 19.2 .5-9.9 .4 19.6 .4-9.6 .4 19.7 .4-9.3 .5 19.9 .4-9.1 .4 20.1 .4-9.1 .4 20.3 .5-9 .4 20.3 .4-9 .4 20.3 .4-9 .5 20.2 .4-9.1 .4 20.2 .4-9.3 .4 20 .5-9.4 .4 19.8 .4-9.7 .4 19.5 .4-9.9 .5 19.2 .4-10.2 .4 18.8 .4-10.6 .4 18.5 .5-23.6 .4 29.8 .4-32.3 .4 30.9 .4-30.1 .5 30.4 .4-31.3 .4 32.6 .4-28.8 .4 33.6 .5-34.3 .4 30.4 .4-34 .4 36.5 .4-36.5 .5 35.2 .4-32.5 .4 35.6 .4-35.7 .4 35.4 .5-33.2 .4 31.7 .4-31.5 .4 29.1 .4-28 .5 25.5 .4-32 .4 32.3 .4-31.3 .4 24.9 .5-18.6 .4 10.6 .4-18.9 .4 10.2 .4-19.3 .5 9.9 .4-19.6 .4 9.6 .4-19.8 .4 9.4 .5-20 .4 9.2 .4-20.1 .4 9 .4-20.2 .5 9 .4-20.3 .4 8.9 .4-20.2 .4 9 .5-20.3 .4 9.1 .4-20.1 .4 9.2 .4-19.9 .5 9.4 .4-19.8 .4 9.7 .4-19.5 .4 9.9 .5-19.2 .4 10.3 .4-18.8 .4 10.6 .4-18.5 .5 22.7 .4-27.3 .4 26.3 .4-28.1 .4 33.3 .5-34 .4 30.7 .4-33.7 .4 37.2 .4-36.3 .5 30.7 .4-30.8 .4 33.3 .4-35.5 .4 35 .5-33.2 .4 35 .4-33.1 .4 32.4 .4-33.7 .5 36.3 .4-34.7 .4 31 .4-32.7 .4 30.6 .5-28.9 .4 33.2 .4-30.8 .4 29.1 .4-22 .5 18.6 .4-10.6 .4 19 .4-10.2 .4 19.3 .5-9.9 .4 19.6 .4-9.6 .4 19.8 .4-9.4 .5 20 .4-9.2 .4 20.2 .4-9.1 .4 20.3 .5-9 .4 20.3 .4-9 .4 20.3 .4-9 .5 20.2 .4-9.1 .4 20.2 .4-9.3 .4 20 .5-9.5 .4 19.8 .4-9.7 .4 19.5 .4-10 .5 19.2 .4-10.3 .4 18.8 .4-10.6 .4 23.1 .5-32.1 .4 33.3 .4-32.3 .4 30.1 .4-27.2 .5 28.4 .4-32.7 .4 37.4 .4-31.9 .5 30.8 .4-33.7 .4 30.8 .4-29.6 .4 33.9 .5-35.6 .4 32.8 .4-33.6 .4 33.4 .4-31.9 .5 32.3 .4-35.3 .4 36 .4-34.8 .4 34.2 .5-31.3 .4 31.6 .4-33.9 .4 31.5 .4-28.5 .5 20.5 .4-18.6 .4 10.5 .4-18.9 .4 10.2 .5-19.3 .4 9.8 .4-19.6 .4 9.6 .4-19.8 .5 9.3 .4-20 .4 9.2 .4-20.2 .4 9.1 .5-20.3 .4 9 .4-20.3 .4 9 .4-20.3 .5 9 .4-20.2 .4 9.1 .4-20.1 .4 9.2 .5-19.9 .4 9.4 .4-19.7 .4 9.7 .4-19.5 .5 10 .4-19.1 .4 10.2 .4-18.8 .4 10.7 .5-20.6 .4 27.8 .4-31.6 .4 33.1 .4-32 .5 27.5 .4-29.1 .4 34.2 .4-32.9 .4 31.9 .5-32.4 .4 29.5 .4-29 .4 28.9 .4-31 .5 35.6 .4-39.1 .4 33.8 .4-29.6 .4 34.8 .5-33.8 .4 29.5 .4-30.4 .4 28.9 .4-27.3 .5 29.3 .4-29 .4 32.9 .4-31.5 .4 26.3 .5-19.6 .4 18.6 .4-10.5 .4 18.9 .4-10.1 .5 19.3 .4-9.8 .4 19.6 .4-9.6 .4 19.8 .5-9.3 .4 20 .4-9.2 .4 20.2 .4-9 .5 20.2 .4-9 .4 20.3 .4-8.9 .4 20.2 .5-9 .4 20.2 .4-9.1 .4 20.1 .4-9.2 .5 19.9 .4-9.4 .4 19.7 .4-9.7 .4 19.4 .5-9.9 .4 19.1 .4-10.3 .4 18.8 .4-10.7 .5 23 .4-29.8 .4 30.9 .4-32.2 .4 33.1 .5-30.8 .4 28.4 .4-31.5 .4 33.8 .4-32.4 .5 34.1 .4-35.4 .4 33.4 .4-30.8 .4 34.7 .5-35.8 .4 32 .4-32.7 .4 32.3 .4-33.3 .5 31.7 .4-32.1 .4 34.5 .4-31.2 .4 32.3 .5-31.7 .4 27.4 .4-26 .4 26.3 .4-31.1 .5 23 .4-18.6 .4 10.5 .4-19 .4 10.1 .5-19.3 .4 9.8 .4-19.6 .4 9.6 .4-19.9 .5 9.4 .4-20.1 .4 9.2 .4-20.2 .4 9.1 .5-20.3 .4 9 .4-20.3 .4 9 .4-20.3 .5 9 .4-20.2 .4 9.1 .4-20.1 .4 9.3 .5-19.9 .4 9.4 .4-19.7 .4 9.7 .4-19.4 .5 10 .4-19.1 .4 10.3 .4-18.8 .4 10.7 .5-21.9 .4 28.8 .4-30.5 .4 28.4 .4-27.2 .5 30.9 .4-35 .4 34.9 .4-34.2 .4 35.2 .5-34 .4 35.1 .4-37.5 .4 33.4 .4-31.4 .5 34.6 .4-34.3 .4 30 .4-32.8 .4 35.2 .5-32.7 .4 33.7 .4-35.2 .4 31.5 .4-27.8 .5 27.3 .4-26.8 .4 29.8 .4-30.5 .4 31.7 .5-22 .4 18.6 .4-10.5 .4 19 .4-10.1 .5 19.3 .4-9.7 .4 19.6 .4-9.6 .4 19.9 .5-9.3 .4 20 .4-9.2 .4 20.2 .4-9 .5 20.2 .4-8.9 .4 20.3 .4-9 .4 20.3 .5-9 .4 20.2 .4-9.2 .4 20.1 .4-9.2 .5 19.9 .4-9.5 .4 19.7 .4-9.7 .4 19.4 .5-10 .4 19.1 .4-10.4 .4 18.8 .4-10.8 .5 21.2 .4-28.3 .4 29.5 .4-28.7 .4 31 .5-34.5 .4 35.4 .4-31 .4 30.8 .4-35 .5 34.5 .4-35.5 .4 38.2 .4-37.1 .4 36.8 .5-36.1 .4 36.3 .4-32.8 .4 31.5 .4-35.4 .5 34.4 .4-31.5 .4 28 .4-30.2 .4 33.3 .5-31 .4 27.2 .4-26.9 .4 25.5 .4-17.8 .5 10.9 .4-18.7 .4 10.4 .4-19 .4 10.1 .5-19.3 .4 9.8 .4-19.7 .4 9.6 .4-19.9 .5 9.3 .4-20 .4 9.1 .4-20.2 .4 9.1 .5-20.3 .4 9 .4-20.3 .4 8.9 .4-20.2 .5 9 .4-20.2 .4 9.1 .4-20.1 .4 9.3 .5-19.9 .4 9.5 .4-19.7 .4 9.7 .4-19.4 .5 10.1 .4-19.1 .4 10.4 .4-18.8 .4 10.8 .5-21.3 .4 32.8 .4-34.5 .4 30.2 .4-30.8 .5 28.9 .4-30.5 .4 32.2" stroke="#18f018" stroke-width="2.8" fill="none" stroke-linejoin="round"/>
<path d="M1378.4 1785.1l1.3-116.2 1.4 107.6" stroke="#18f018" stroke-width="2.6" fill="none" stroke-linejoin="round"/>
<path d="M1651.2 1759.2l.6-68.8 .8 111.9 2.2 68.8 3.5-43" stroke="#f00010" stroke-width="2.6" fill="none" stroke-linejoin="round"/>
<path d="M1106.3 1595.2V1941.3M1105 1940H1925.1M1093.8 1940H1106.3M1093.8 1853.9H1106.3M1093.8 1767.8H1106.3M1093.8 1681.8H1106.3M1093.8 1595.7H1106.3M1099.3 1897H1106.3M1099.3 1810.9H1106.3M1099.3 1724.8H1106.3M1099.3 1638.7H1106.3M1106.3 1940V1952.5M1242.6 1940V1952.5M1378.9 1940V1952.5M1515.2 1940V1952.5M1651.5 1940V1952.5M1787.8 1940V1952.5M1924.1 1940V1952.5M1174.5 1940V1947M1310.8 1940V1947M1447 1940V1947M1583.3 1940V1947M1719.6 1940V1947M1855.9 1940V1947" stroke="#000" stroke-width="2.7" fill="none"/>
<text x="1106.3" y="1979" font-size="23.5" text-anchor="middle" font-weight="bold" textLength="45.5" lengthAdjust="spacingAndGlyphs">0.00</text>
<text x="1242.6" y="1979" font-size="23.5" text-anchor="middle" font-weight="bold" textLength="45.5" lengthAdjust="spacingAndGlyphs">0.05</text>
<text x="1378.9" y="1979" font-size="23.5" text-anchor="middle" font-weight="bold" textLength="45.5" lengthAdjust="spacingAndGlyphs">0.10</text>
<text x="1515.2" y="1979" font-size="23.5" text-anchor="middle" font-weight="bold" textLength="45.5" lengthAdjust="spacingAndGlyphs">0.15</text>
<text x="1651.5" y="1979" font-size="23.5" text-anchor="middle" font-weight="bold" textLength="45.5" lengthAdjust="spacingAndGlyphs">0.20</text>
<text x="1787.8" y="1979" font-size="23.5" text-anchor="middle" font-weight="bold" textLength="45.5" lengthAdjust="spacingAndGlyphs">0.25</text>
<text x="1924.1" y="1979" font-size="23.5" text-anchor="middle" font-weight="bold" textLength="45.5" lengthAdjust="spacingAndGlyphs">0.30</text>
<text x="1084.8" y="1945.6" font-size="22" text-anchor="end" font-weight="bold">&#8722;2</text>
<text x="1084.8" y="1859.5" font-size="22" text-anchor="end" font-weight="bold">&#8722;1</text>
<text x="1084.8" y="1773.4" font-size="22" text-anchor="end" font-weight="bold">0</text>
<text x="1084.8" y="1687.4" font-size="22" text-anchor="end" font-weight="bold">1</text>
<text x="1084.8" y="1601.3" font-size="22" text-anchor="end" font-weight="bold">2</text>
<text transform="translate(1025 1754) rotate(-90)" text-anchor="middle" font-weight="bold" font-size="27" textLength="163.8" lengthAdjust="spacingAndGlyphs" x="0" y="0">Voltage (pu)</text>
<text x="1447.9" y="2024.3" font-size="27" font-weight="bold" textLength="136" lengthAdjust="spacingAndGlyphs">Time (sec)</text>
<rect x="1540" y="1602.8" width="374.2" height="29.9" fill="#fff" stroke="#222" stroke-width="1.8"/>
<path d="M1561 1618.5H1614" stroke="#0a0ae6" stroke-width="3.4" stroke-linecap="round"/>
<path d="M1637.8 1618.5H1691" stroke="#f00010" stroke-width="3.4" stroke-linecap="round"/>
<path d="M1716.5 1618.5H1770" stroke="#18f018" stroke-width="3.4" stroke-linecap="round"/>
<text x="1621" y="1625.8" font-size="22" font-weight="bold" font-style="italic">a</text>
<text x="1698.4" y="1625.8" font-size="22" font-weight="bold" font-style="italic">b</text>
<text x="1776.5" y="1625.8" font-size="22" font-weight="bold" textLength="119.7" lengthAdjust="spacingAndGlyphs"><tspan font-style="italic">c</tspan> (Detailed)</text>
<path d="M1257.3 2082.9V2410.6M1390.2 2082.9V2410.6M1523.1 2082.9V2410.6M1656 2082.9V2410.6M1788.9 2082.9V2410.6M1921.8 2082.9V2410.6M1124.4 2328.7H1921.8M1124.4 2246.8H1921.8M1124.4 2164.8H1921.8M1124.4 2082.9H1921.8" stroke="#979797" stroke-width="1.3" stroke-dasharray="1.6 2.7" fill="none"/>
<path d="M1124.4 2319.9l2.2-12.1 2.2-15.9 2.7-22.5 6.2-56.2 3.1-24 1.8-10.8 1.7-8.1 .9-2.7 .9-1.9 .9-.8 .4-.1 .5 .3 .9 1.2 .9 2.3 .8 3.1 1.8 8.6 1.8 11.4 3.1 24.6 7.5 67.7 2.2 17.2 1.8 11.5 1.8 8.8 .9 3.2 .8 2.3 .9 1.3 .5 .3 .4 .1 .5-.3 .8-1.2 1.4-3.7 1.3-5.6 1.3-7.3 1.8-12 3.1-25.3 6.7-60.1 3.5-26.9 1.8-10.2 1.3-5.8 .9-2.7 .9-1.9 .9-.8 .4-.1 .4 .3 .9 1.2 .9 2.3 .9 3.1 1.8 8.6 1.7 11.4 3.1 24.6 7.6 67.7 2.2 17.2 1.8 11.5 1.7 8.8 1.4 4.4 .8 1.9 .9 .8 .5 .1 .9-.8 1.3-3 1.8-7 1.3-7.3 1.8-12 3.1-25.3 6.6-60.1 3.6-26.9 1.7-10.2 1.4-5.8 .8-2.7 .9-1.9 .9-.8 .5-.1 .4 .3 .9 1.2 .9 2.3 .9 3.1 1.7 8.6 1.8 11.4 3.1 24.6 7.5 67.7 1.8 14 1.8 12 1.7 9.5 1.4 5.2 .9 2.3 .8 1.3 .5 .3 .4 .1 .5-.3 .4-.5 .9-1.7 1.8-6.3 1.3-6.7 1.8-11.4 3.1-24.6 7.5-67.7 1.8-14 1.8-12 1.7-9.5 1.4-5.2 1.3-3.1 .9-.8 .4-.1 .5 .3 .8 1.2 .9 2.3 .9 3.1 1.8 8.6 1.8 11.4 3.1 24.6 7.5 67.7 1.8 14 1.7 12 1.8 9.5 1.3 5.2 .9 2.3 .9 1.3 .5 .3 .4 .1 .4-.3 .5-.5 .9-1.7 1.7-6.3 1.4-6.7 1.7-11.4 3.1-24.6 7.6-67.7 1.7-14 1.8-12 1.8-9.5 1.3-5.2 1.3-3.1 .9-.8 .5-.1 .4 .3 .9 1.2 1.3 3.7 1.4 5.6 1.7 10.1 1.8 12.5 1.8 14.3 7.1 63.9 3.1 24.8 1.7 11.5 1.8 8.8 .9 3.2 .9 2.3 .9 1.3 .4 .3 .5-.3 .4-3.5 .4-6.9 3.1-80 .9-11.7 .5-.7 .9 1.1 .8 2.5 4 16.2 .9 2.2 .5 .7 .4 .2 2.2-.2 2.2-.6 7.1-2.9 2.7-.8 2.2-.4 2.2 .1 2.7 .5 3.1 1.2 10.2 5.8 3.9 1.9 3.6 1 1.8 .1 1.3-.1 2.6-1 3.1-2.1 3.1-2.8 7.1-7.2 3.6-3 3.1-1.7 1.8-.4 1.3-.1 1.3 .3 1.3 .5 2.7 1.9 3.5 3.5 7.6 9.2 3.1 3.3 3.1 2.3 1.7 .8 1.4 .3 1.3-.1 1.8-.5 1.3-.7 1.8-1.4 3.5-3.5 7.1-8.7 3.1-3.3 3.1-2.6 1.8-.9 1.3-.3 1.3-.1 1.8 .4 1.3 .7 1.8 1.2 3.6 3.4 7.9 9.7 3.1 3.3 1.8 1.5 1.8 1.1 1.8 .6 1.3 .2 1.3-.2 1.3-.4 1.4-.7 1.7-1.4 3.6-3.5 7.1-8.7 3.1-3.3 3.1-2.6 1.3-.7 1.3-.4 1.4-.2 1.7 .3 1.8 .8 1.8 1.2 3.5 3.4 8 9.7 3.1 3.3 1.8 1.5 1.7 1.1 1.8 .6 1.3 .2 1.4-.2 1.7-.6 1.8-1.1 1.8-1.5 3.1-3.3 8-9.7 2.2-2.3 1.7-1.5 1.8-1.1 1.8-.6 1.3-.2 3.6 .1 3.1 .4 2.6 .8 2.7 1.5 2.2 1.9 2.2 2.6 2.2 3.4 2.2 4.4 1.8 4.1 .5 2.9 .4 6 2.7 62.2 .8 14.7 .5 3.2 .4-1.5 .5-10.2 1.7-75.8 .5-13.4 .4-6.3 1.4-11.1 .8-5.4 .9-4 .9-2.9 .9-2.2 3.1-5.1 .9-1.8 1.3-4.1 .5-2.6 .8-9 2.3-29.6 .8-7.8 .5-1.7 .4 1 .5 6.1 1.3 29.8 1.8 21.8 4 40.1 4 32.3 3.1 19.8 1.7 9.3 1.8 7.7 1.8 6.3 1.7 4.9 1.8 3.4 1.8 1.9 1.3 .6 .5 0 .4-.3 .4-.5 .9-1.9 1.4-4.7 1.7-9.2 1.8-12.2 1.8-14.4 7.9-75.3 3.1-25.5 1.8-11.5 1.4-6.7 .8-3.3 .9-2.4 .9-1.4 .5-.3 .4 .1 .9 .8 1.3 3.2 1.3 5.1 1.8 9.5 1.8 12.1 1.8 14 7.5 67.4 3.1 24.2 1.8 11 1.3 6.4 .9 3.3 .9 2.4 .8 1.5 .5 .3 .4 .1 .9-.6 1.3-2.7 1.4-4.6 1.7-8.7 1.8-11.2 1.8-13.1 8-68.7 3.5-26.7 1.8-10.6 1.8-7.8 .8-2.8 .9-1.9 .9-1 .5-.2 .4 .2 .9 1.1 1.3 3.4 1.3 5.5 1.8 9.9 1.8 12.4 1.8 14.4 6.6 60 3.1 25.2 1.8 11.7 1.3 7.1 1.8 6.7 1.3 2.6 .4 .3 .5 .1 .4-.2 .9-1.1 .9-2 1.3-4.6 1.8-8.7 1.8-11.2 1.8-13.1 7.9-68.7 3.6-26.7 1.7-10.6 1.8-7.8 .9-2.8 .9-1.9 .9-1 .4-.2 .5 .2 .8 1 1.4 3.5 1.3 5.3 1.8 9.9 1.7 12.2 1.8 14.2 6.7 59.7 3.1 25.3 1.7 12 1.4 7.3 1.7 7.1 1.4 3 .9 .7 .4 0 .9-.8 .9-1.8 1.7-6 1.8-9.1 1.8-11.4 1.8-13.4 7.9-69.1 3.1-23.6 1.8-11 1.8-8.3 .9-3 .8-2.2 .9-1.3 .5-.3 .4 0 .9 .7 .9 1.8 .9 2.8 1.3 5.7 1.8 10.3 3.5 27.2 8.4 75.3 2.7 19 2.2 11.5 1.3 4.5 .9 1.8 .5 .5 .4 .2 .5 0 .4-.3 .9-1.3 1.3-3.6 1.3-5.4 2.7-15.5" stroke="#0a0ae6" stroke-width="3.2" fill="none" stroke-linejoin="round"/>
<path d="M1124.4 2239.4l5.3 47.5 1.8 13.7 1.8 11.6 1.7 8.9 .9 3.3 .9 2.4 .9 1.4 .9 .5 .4-.2 .9-1.2 1.3-3.5 1.4-5.5 1.3-7.2 1.8-11.8 3.1-25.2 7.1-63.9 1.7-14 1.8-12.2 1.8-9.6 1.7-6.6 .9-1.9 .9-1 .5-.1 .8 .7 1.4 2.8 1.7 6.9 1.4 7.2 1.7 11.8 3.1 25.2 7.1 63.9 1.8 14 1.8 12.2 1.7 9.6 1.4 5.3 .9 2.4 .9 1.4 .8 .5 .5-.2 .4-.5 .9-1.6 .9-2.6 .9-3.5 1.3-6.6 1.8-11.2 3.1-24.5 7.5-67.8 1.8-14 1.8-12.2 1.7-9.6 1.4-5.3 .8-2.4 .9-1.4 .9-.5 .5 .2 .4 .5 .9 1.6 .9 2.6 .9 3.5 1.3 6.6 1.8 11.2 3.1 24.5 7.5 67.8 1.8 14 1.7 12.2 1.8 9.6 1.3 5.3 .9 2.4 .9 1.4 .9 .5 .4-.2 .5-.5 .9-1.6 .9-2.6 .8-3.5 1.4-6.6 1.7-11.2 3.1-24.5 7.6-67.8 1.7-14 1.8-12.2 1.8-9.6 1.3-5.3 .9-2.4 .9-1.4 .9-.5 .4 .2 .5 .5 .8 1.6 .9 2.6 .9 3.5 1.3 6.6 1.8 11.2 3.1 24.5 7.6 67.8 1.7 14 1.8 12.2 1.8 9.6 1.3 5.3 1.3 3.2 .9 1 .5 .1 .4-.2 .9-1.2 .9-2.1 .9-3 1.7-8.5 1.8-11.2 3.1-24.5 7.5-67.8 1.8-14 1.8-12.2 1.7-9.6 1.4-5.3 1.3-3.2 .9-1 .4-.1 .5 .2 .9 1.2 .9 2.1 .8 3 1.8 8.5 1.8 11.2 3.1 24.5 7.5 67.8 1.8 14 1.8 12.2 1.7 9.6 1.4 5.3 1.3 3.2 .9 1 .4 .1 .5-.2 .8-1.2 1.4-3.5 1.3-5.5 1.8-9.9 1.7-12.4 1.8-14.2 7.1-64 3.1-24.9 1.8-11.6 1.8-8.9 .8-3.3 .9-2.4 .9-1.4 .5-.4 .4-.1 .4 .3 .9 1.9 .9 3.3 .9 4.6 2.2 15.4 5.3 43.1 1.8 10.3 .9 3.3 .9 1.9 .9 .5 2.2 .9 4.4 1 5.8 .3 3.5 .1 1.8-.3 2.6-.7 2.7-1.2 9.7-5.5 3.6-1.7 3.5-1.1 3.1-.1 1.4 .2 1.7 .7 3.1 1.8 3.1 2.4 7.1 6.1 3.1 2.2 2.7 1.4 2.6 .6 1.8 0 1.3-.4 1.4-.6 1.7-1.2 3.6-3.2 8-9.1 3.1-3.1 1.7-1.4 1.8-1.1 1.8-.6 1.3-.1 1.3 .2 1.8 .7 1.8 1.1 1.7 1.5 3.1 3.3 7.6 9.2 2.2 2.3 1.8 1.6 1.7 1.2 1.8 .8 1.8 .2 1.3-.2 2.7-1.2 3.1-2.6 3.1-3.4 7.1-8.6 3.1-3.1 3.1-2.2 1.7-.7 1.4-.1 1.3 .2 1.8 .7 1.7 1.1 1.8 1.5 3.1 3.3 7.5 9.2 2.3 2.3 1.7 1.6 1.8 1.2 1.3 .6 1.8 .4 1.3-.1 1.4-.4 1.7-.9 3.1-2.6 3.1-3.4 7.1-8.6 3.6-3.5 1.7-1.3 1.4-.7 1.3-.5 1.3-.1 1.4 .2 1.7 .7 3.1 2.2 3.6 3.7 8.4 10.2 2.6 2.5 2.3 1.6 2.2 .9 2.6 .1 4.9-.3 3.5-.8 2.7-1.2 2.2-1.4 2.2-2 1.8-2 2.2-3.1 1.8-2.9 2.2-4.5 1.8-4.1 .9-3.3 .9-4.8 3.5-25.3 1.3-8.4 1.4-5.4 .4-.9 .4-.4 .5 .3 .9 4 .9 7.7 .8 10.8 4.5 74 1.7 25.6 1.4 12.2 .4 2.3 .5 1.3 .4 .2 .4-.3 .9-1.4 .9-2.6 .9-3.5 1.3-7.1 1.8-12.1 3.1-26.8 7.1-69.4 1.8-15.2 1.7-13 1.4-7.8 1.3-5.8 1.3-3.6 .9-.9 .5-.1 .4 .3 .9 1.4 1.3 4.2 1.3 6.4 1.4 8.2 1.7 13.4 1.8 15.6 7.1 70.5 3.1 27.1 1.8 12.4 1.3 7.2 .9 3.8 .9 2.7 .9 1.6 .4 .4 .4 .1 .9-.6 .9-1.6 .9-2.5 1.3-5.2 1.8-9.6 1.8-11.9 1.8-13.9 7.5-66.7 3.5-27.8 1.8-11.1 1.8-8.4 .9-3.1 .8-2.2 .9-1.3 .5-.3 .4-.1 .9 .8 1.3 3.2 1.4 5.2 1.7 9.8 1.8 12.4 1.8 14.4 7.1 65.2 3.1 25.1 1.7 11.5 1.4 6.7 .9 3.4 .8 2.6 .9 1.5 .5 .3 .4 .1 .9-.6 .9-1.5 .9-2.4 1.3-5.1 1.8-9.3 1.7-11.6 1.8-13.4 7.5-64.8 3.6-27 1.8-10.7 1.7-8.2 .9-3 .9-2.2 .9-1.2 .4-.3 .5 0 .9 .7 1.3 3.1 1.3 5.1 1.8 9.5 1.8 12.2 1.7 14.1 7.1 64.2 3.1 25 1.8 11.6 1.3 6.9 1.8 6.4 .9 1.8 .4 .5 .5 .2 .9-.3 .8-1.2 .9-2.2 1.4-4.8 1.7-8.9 1.8-11.2 2.2-16.7 7.5-64.9 3.1-23.7 1.8-11.1 1.8-8.6 .9-3.2 .9-2.4 .8-1.6 .5-.4 .4-.2 .5 .1 .4 .4 .9 1.5 .9 2.5 1.3 5.5 1.8 10 1.8 12.6 1.7 14.6 6.7 60.9 3.1 25.4 1.8 11.8 1.3 7 1.3 5.2 1.3 3.1 .9 .8 .5 0 .9-.8 .8-1.7 1.8-6 1.8-8.9 1.8-11.4 2.2-16.8 7.5-65.2 3.1-23.8 1.8-11.1 1.3-6.8 1.8-6.4 1.3-2.7 .9-.6 .4 .1 .9 1 .9 1.9 1.8 6.5 1.8 9.5 1.7 12.1 1.8 13.9 6.2 55.4" stroke="#f00010" stroke-width="3.2" fill="none" stroke-linejoin="round"/>
<path d="M1124.4 2180.3l1.3-6.7 .9-3.6 1.3-3.7 .9-1.2 .5-.3 .4 .1 .5 .3 .8 1.3 .9 2.3 1.4 5.2 2.2 12.3 2.2 16 2.6 22.6 5.8 52.3 3.6 27.7 1.7 10.7 1.4 6.2 .8 3.1 .9 2.3 .9 1.2 .5 .3 .4-.1 .9-.8 1.3-3.1 1.3-5.2 1.8-9.5 1.8-12 1.8-14 7.5-67.7 3.1-24.6 1.8-11.4 1.7-8.6 .9-3.1 .9-2.3 .9-1.2 .4-.3 .5 .1 .9 .8 .8 1.9 .9 2.7 1.4 5.8 1.7 10.2 3.6 26.9 6.6 60.1 3.1 25.3 1.8 12 1.3 7.3 1.8 7 1.3 3 .9 .8 .5-.1 .8-.8 .9-1.9 1.4-4.4 1.7-8.8 1.8-11.5 2.2-17.2 7.5-67.7 3.1-24.6 1.8-11.4 1.8-8.6 .9-3.1 .9-2.3 .9-1.2 .4-.3 .4 .1 .9 .8 .9 1.9 .9 2.7 1.8 8.1 1.7 10.8 3.6 27.9 7.5 67.6 2.2 17.1 1.8 11.4 1.8 8.6 .9 3.1 .8 2.3 .9 1.2 .5 .3 .4-.1 .5-.3 .8-1.3 1.4-3.8 1.3-5.8 1.3-7.4 1.8-12 3.1-25.4 6.6-60.1 1.8-14.3 1.8-12.5 1.8-10.1 1.3-5.6 1.3-3.7 .9-1.2 .5-.3 .4 .1 .9 .8 .9 1.9 .9 2.7 1.7 8.1 1.8 10.8 3.5 27.9 7.6 67.6 1.7 13.9 1.8 12 1.8 9.3 1.3 5 .9 2.3 .9 1.2 .4 .3 .5-.1 .4-.3 1.3-2.4 1.8-6.4 1.3-6.8 1.8-11.5 3.1-24.8 7.1-63.9 1.8-14.3 1.8-12.5 1.7-10.1 1.4-5.6 1.3-3.7 .9-1.2 .4-.3 .5 .1 .8 .8 1.4 3.1 1.3 5.2 1.8 9.5 1.7 12 1.8 14 7.5 67.7 3.1 24.6 1.8 11.4 1.8 8.6 .9 3.1 .9 2.3 .8 1.2 .5 .3 .4-.1 .5-.4 .4-.8 .9-2.6 1.3-6.2 1.4-8.6 2.6-22.7 6.2-64.9 2.7-24.7 1.3-10 1.3-7.8 1.4-5.3 .9-1.9 .4-.4 .4 .9 .5 9.9 1.8 75.1 .4 8 .4 .1 .9-1.2 .9-2.2 3.6-13.4 1.3-4.3 .9-1.9 .4-.5 .5-.1 3.1 .3 3.5 1.1 3.1 1.3 7.5 3.8 3.6 1.5 3.1 .8 3.1 .1 2.6-.6 3.1-1.4 3.1-2.1 7.1-5.3 3.6-2.2 1.7-.8 1.8-.5 1.8-.1 1.3 .1 2.7 1 3.1 2.2 3.1 2.8 7.1 7.4 3.5 3 3.1 1.8 1.8 .4 1.3 .1 1.3-.3 1.8-.8 3.1-2.3 3.1-3.2 7.5-9 3.6-3.5 1.8-1.3 1.3-.7 1.3-.5 1.4-.1 1.3 .2 1.8 .6 1.7 1.1 1.8 1.5 3.1 3.3 7.5 9.2 3.6 3.5 1.7 1.4 1.4 .7 1.3 .4 1.3 .2 1.4-.2 1.3-.4 1.3-.7 1.8-1.4 3.5-3.5 7.1-8.7 3.1-3.3 3.1-2.6 1.4-.7 1.3-.4 1.3-.2 1.8 .3 1.8 .8 1.7 1.2 3.6 3.4 7.9 9.7 3.1 3.3 1.8 1.5 1.8 1.1 1.8 .6 1.3 .2 1.3-.2 1.8-.6 1.8-1.1 1.7-1.5 3.1-3.3 8-9.7 3.6-3.4 1.7-1.2 1.4-.7 1.7-.4 1.4 .1 1.3 .3 1.8 .9 3.1 2.6 3.1 3.3 7 8.7 3.6 3.5 1.8 1.4 1.3 .7 1.3 .4 1.4 .2 .8-.5 .9-1.3 .9-2 1.3-4.3 1.8-7.3 4.9-23.1 1.3-5.4 1.3-4.3 1.4-2.8 .9-.9 .8-.1 1.8 .1 1.8 .7 1.3 1 .9 1.1 1.3 2.3 .9 2.1 1.8 5.8 1.3 6.5 1.8 11.1 1.8 13.4 6.6 57 2.7 20.1 1.7 10.6 1.4 6 1.3 3.9 .9 1.4 .4 .2 .5 0 .9-1.1 1.3-4 1.3-6.7 1.3-8.8 1.8-14.6 1.8-17.2 6.6-73.3 3.1-30.6 1.8-14 1.3-8.3 .9-4.2 .9-3.1 .9-1.9 .4-.5 .5-.1 .9 .7 .8 1.6 .9 2.5 1.4 5.3 1.7 9.7 1.8 12.2 1.8 14 7.5 67.8 3.6 28.2 1.7 11.2 1.8 8.6 .9 3.1 .9 2.2 .9 1.4 .4 .2 .4 .1 .5-.3 .9-1.3 1.3-3.9 1.3-5.9 1.8-10.7 3.1-24.2 6.6-61.8 3.1-26.1 1.8-12.2 1.3-7.4 1.8-6.9 1.3-2.7 .5-.4 .4-.1 .5 .2 .9 1.2 .9 2.1 1.3 4.8 1.8 9 1.7 11.7 1.8 13.6 7.5 66.6 3.6 27.6 1.7 10.8 1.8 8.1 .9 2.8 .9 1.9 .9 1 .4 0 .5-.2 .8-1.1 1.4-3.5 1.3-5.4 1.8-9.8 1.7-12.1 1.8-14.1 7.1-63 3.1-24.5 1.8-11.4 1.3-6.9 1.8-6.4 1.3-2.5 .9-.5 .4 .2 .9 1.1 .9 2.1 1.3 4.7 1.8 8.9 1.8 11.5 1.8 13.4 7.9 69.7 3.1 23.9 1.8 11 1.8 8.3 .9 3 .8 2.2 .9 1.2 .5 .2 .4 0 .9-.8 1.3-3.1 1.4-5.1 1.7-9.3 1.8-11.9 1.8-13.8 7.5-66.7 3.1-24.2 1.8-11.2 1.8-8.5 .8-3.1 .9-2.2 .9-1.2 .5-.2 .4 0 .9 .8 .9 1.8 .9 2.7 1.7 7.7 1.8 10.5 3.5 27 8 69.7 2.2 16.4 1.8 10.7 1.8 8.1 .9 2.8 .8 2 .9 1 .5 .1 .9-.5 .8-1.5 1.4-4 1.3-5.9 2.7-16.4 2.6-20.8 6.2-55.4 2.7-22 2.6-18.1 1.4-7 1.3-5.2" stroke="#18f018" stroke-width="3.2" fill="none" stroke-linejoin="round"/>
<path d="M1124.4 2082.4V2411.9M1123.1 2410.6H1922.8M1111.9 2410.6H1124.4M1111.9 2328.7H1124.4M1111.9 2246.8H1124.4M1111.9 2164.8H1124.4M1111.9 2082.9H1124.4M1117.4 2369.6H1124.4M1117.4 2287.7H1124.4M1117.4 2205.8H1124.4M1117.4 2123.9H1124.4M1124.4 2410.6V2423.1M1257.3 2410.6V2423.1M1390.2 2410.6V2423.1M1523.1 2410.6V2423.1M1656 2410.6V2423.1M1788.9 2410.6V2423.1M1921.8 2410.6V2423.1M1190.9 2410.6V2417.6M1323.8 2410.6V2417.6M1456.7 2410.6V2417.6M1589.6 2410.6V2417.6M1722.5 2410.6V2417.6M1855.3 2410.6V2417.6" stroke="#000" stroke-width="2.7" fill="none"/>
<text x="1124.4" y="2445.4" font-size="20.5" text-anchor="middle" font-weight="bold" textLength="41" lengthAdjust="spacingAndGlyphs">0.00</text>
<text x="1257.3" y="2445.4" font-size="20.5" text-anchor="middle" font-weight="bold" textLength="41" lengthAdjust="spacingAndGlyphs">0.05</text>
<text x="1390.2" y="2445.4" font-size="20.5" text-anchor="middle" font-weight="bold" textLength="41" lengthAdjust="spacingAndGlyphs">0.10</text>
<text x="1523.1" y="2445.4" font-size="20.5" text-anchor="middle" font-weight="bold" textLength="41" lengthAdjust="spacingAndGlyphs">0.15</text>
<text x="1656" y="2445.4" font-size="20.5" text-anchor="middle" font-weight="bold" textLength="41" lengthAdjust="spacingAndGlyphs">0.20</text>
<text x="1788.9" y="2445.4" font-size="20.5" text-anchor="middle" font-weight="bold" textLength="41" lengthAdjust="spacingAndGlyphs">0.25</text>
<text x="1921.8" y="2445.4" font-size="20.5" text-anchor="middle" font-weight="bold" textLength="41" lengthAdjust="spacingAndGlyphs">0.30</text>
<text x="1104.3" y="2416.2" font-size="20.8" text-anchor="end" font-weight="bold">&#8722;2</text>
<text x="1104.3" y="2334.3" font-size="20.8" text-anchor="end" font-weight="bold">&#8722;1</text>
<text x="1104.3" y="2252.3" font-size="20.8" text-anchor="end" font-weight="bold">0</text>
<text x="1104.3" y="2170.4" font-size="20.8" text-anchor="end" font-weight="bold">1</text>
<text x="1104.3" y="2088.5" font-size="20.8" text-anchor="end" font-weight="bold">2</text>
<text transform="translate(1046 2234.2) rotate(-90)" text-anchor="middle" font-weight="bold" font-size="25.5" textLength="154.4" lengthAdjust="spacingAndGlyphs" x="0" y="0">Voltage (pu)</text>
<text x="1457.1" y="2490.5" font-size="25" font-weight="bold" textLength="132.4" lengthAdjust="spacingAndGlyphs">Time (sec)</text>
<text x="1451.4" y="2563.8" font-family="'Liberation Serif', 'Times New Roman', serif" font-size="43" textLength="51.5" lengthAdjust="spacingAndGlyphs">(<tspan font-weight="bold">h</tspan>)</text>
<rect x="1569.3" y="2092.1" width="364.1" height="27.4" fill="#fff" stroke="#222" stroke-width="1.8"/>
<path d="M1588 2106.2H1641" stroke="#0a0ae6" stroke-width="3.4" stroke-linecap="round"/>
<path d="M1662.8 2106.2H1716.1" stroke="#f00010" stroke-width="3.4" stroke-linecap="round"/>
<path d="M1740.1 2106.2H1792.4" stroke="#18f018" stroke-width="3.4" stroke-linecap="round"/>
<text x="1646.1" y="2112.2" font-size="21.5" font-weight="bold" font-style="italic">a</text>
<text x="1722" y="2112.2" font-size="21.5" font-weight="bold" font-style="italic">b</text>
<text x="1797.5" y="2112.2" font-size="21.5" font-weight="bold" textLength="117.1" lengthAdjust="spacingAndGlyphs"><tspan font-style="italic">c</tspan> (Average)</text>
</svg>
</body></html>
